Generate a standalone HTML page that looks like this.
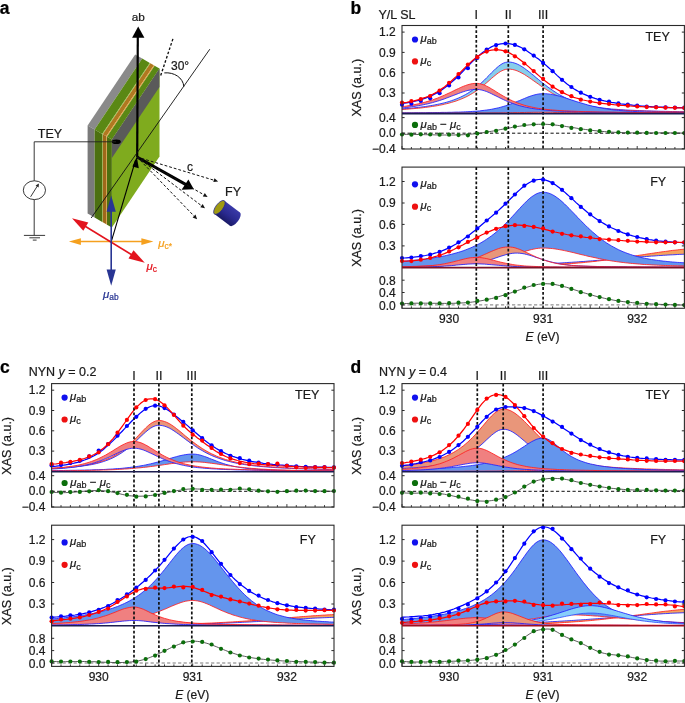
<!DOCTYPE html>
<html><head><meta charset="utf-8"><style>
html,body{margin:0;padding:0;background:#fff;}
svg{display:block;font-family:"Liberation Sans", sans-serif;}
text{stroke-width:0.22px;}
</style></head><body>
<div style="will-change:transform;background:#fff;width:685px;height:703px"><svg width="685" height="703" viewBox="0 0 685 703">
<defs><clipPath id="ctb"><rect x="402" y="25.5" width="282.4" height="88.1"/></clipPath><clipPath id="cdb"><rect x="402" y="113.6" width="282.4" height="35.4"/></clipPath><clipPath id="cfb"><rect x="402" y="167.1" width="282.4" height="100.5"/></clipPath><clipPath id="clb"><rect x="402" y="267.6" width="282.4" height="40.7"/></clipPath><clipPath id="ctc"><rect x="51.6" y="383.6" width="282.4" height="88.1"/></clipPath><clipPath id="cdc"><rect x="51.6" y="471.7" width="282.4" height="35.4"/></clipPath><clipPath id="cfc"><rect x="51.6" y="525.2" width="282.4" height="100.5"/></clipPath><clipPath id="clc"><rect x="51.6" y="625.7" width="282.4" height="40.7"/></clipPath><clipPath id="ctd"><rect x="402" y="383.6" width="282.4" height="88.1"/></clipPath><clipPath id="cdd"><rect x="402" y="471.7" width="282.4" height="35.4"/></clipPath><clipPath id="cfd"><rect x="402" y="525.2" width="282.4" height="100.5"/></clipPath><clipPath id="cld"><rect x="402" y="625.7" width="282.4" height="40.7"/></clipPath></defs>
<rect width="685" height="703" fill="#fff"/>
<text x="-0.3" y="13.5" font-size="17.5" text-anchor="start" font-weight="bold" font-style="normal" fill="#000" stroke="#000" >a</text>
<polygon points="87.6,125.5 135.2,54.5 142.2,58.6 94.6,129.6" fill="#8a8a8a" />
<polygon points="87.6,125.5 94.6,129.6 94.6,217.6 87.6,213.5" fill="#7a7a7a" />
<polygon points="94.6,129.6 142.2,58.6 149.8,62.9 102.2,133.9" fill="#5a8814" />
<polygon points="94.6,129.6 102.2,133.9 102.2,221.9 94.6,217.6" fill="#4c7010" />
<polygon points="102.2,133.9 149.8,62.9 150.4,63.2 102.8,134.2" fill="#8fc23a" />
<polygon points="102.2,133.9 102.8,134.2 102.8,222.2 102.2,221.9" fill="#7ab02a" />
<polygon points="102.8,134.2 150.4,63.2 153.9,65.3 106.3,136.3" fill="#b07820" />
<polygon points="102.8,134.2 106.3,136.3 106.3,224.3 102.8,222.2" fill="#a0681a" />
<polygon points="106.3,136.3 153.9,65.3 154.6,65.7 107,136.7" fill="#e8a038" />
<polygon points="106.3,136.3 107,136.7 107,224.7 106.3,224.3" fill="#d09030" />
<polygon points="107,136.7 154.6,65.7 159.5,68.5 111.9,139.5" fill="#5a8814" />
<polygon points="107,136.7 111.9,139.5 111.9,227.5 107,224.7" fill="#4c7010" />
<polygon points="111.9,139.5 159.5,68.5 159.5,156.5 111.9,227.5" fill="#7fab1e" />
<polygon points="111.9,139.5 159.5,68.5 159.5,87.1 111.9,158.1" fill="#5a5a5a" />
<ellipse cx="116.3" cy="141.8" rx="4.5" ry="2.3" fill="#000"/>
<polyline points="116,141.8 34.2,141.8 34.2,180.8" fill="none" stroke="#222" stroke-width="0.9"/>
<ellipse cx="34.4" cy="190.2" rx="11.1" ry="9.4" fill="none" stroke="#222" stroke-width="0.9"/>
<line x1="30.6" y1="196.8" x2="37.6" y2="185.6" stroke="#222" stroke-width="0.9"/>
<polygon points="38.9,183.6 35.6,185.6 38.6,187.6" fill="#222"/>
<line x1="34.2" y1="199.6" x2="34.2" y2="235.4" stroke="#222" stroke-width="0.9"/>
<line x1="23.9" y1="235.4" x2="45.1" y2="235.4" stroke="#222" stroke-width="0.9"/>
<line x1="29.4" y1="237.8" x2="40" y2="237.8" stroke="#222" stroke-width="0.9"/>
<line x1="32.8" y1="240.1" x2="36.6" y2="240.1" stroke="#222" stroke-width="0.9"/>
<text x="37.8" y="137.5" font-size="12.5" text-anchor="start" font-weight="normal" font-style="normal" fill="#1a1a1a" stroke="#1a1a1a" >TEY</text>
<line x1="137.2" y1="157" x2="137.8" y2="36" stroke="#000" stroke-width="2.2"/>
<polygon points="138.2,26.6 132.1,37.8 144.4,37.8" fill="#000"/>
<text x="138.2" y="21.2" font-size="11.8" text-anchor="middle" font-weight="normal" font-style="normal" fill="#1a1a1a" stroke="#1a1a1a" >ab</text>
<line x1="160.7" y1="75.5" x2="173.3" y2="37.7" stroke="#111" stroke-width="1.35" stroke-dasharray="2.6,1.9"/>
<line x1="91.2" y1="218" x2="209.8" y2="49.2" stroke="#111" stroke-width="0.9"/>
<path d="M164.3,72.9 C174,72 183,77.5 183.9,86.6" fill="none" stroke="#111" stroke-width="1.0"/>
<text x="171" y="70.2" font-size="12" text-anchor="start" font-weight="normal" font-style="normal" fill="#1a1a1a" stroke="#1a1a1a" >30°</text>
<line x1="137" y1="157" x2="186" y2="184.6" stroke="#000" stroke-width="3"/>
<polygon points="193.8,189.2 188.4,179.6 181.6,189.8" fill="#000"/>
<line x1="137" y1="157" x2="213.9" y2="180.2" stroke="#111" stroke-width="1.0" stroke-dasharray="2.8,2.0"/>
<polygon points="218.1,181.5 213.3,182.1 214.5,178.3" fill="#111" />
<line x1="137" y1="157" x2="203.8" y2="194.7" stroke="#111" stroke-width="1.0" stroke-dasharray="2.8,2.0"/>
<polygon points="207.6,196.9 202.8,196.5 204.8,193" fill="#111" />
<line x1="137" y1="157" x2="201.5" y2="205.7" stroke="#111" stroke-width="1.0" stroke-dasharray="2.8,2.0"/>
<polygon points="205,208.3 200.3,207.2 202.7,204.1" fill="#111" />
<line x1="137" y1="157" x2="194" y2="216" stroke="#111" stroke-width="1.0" stroke-dasharray="2.8,2.0"/>
<polygon points="197.1,219.2 192.6,217.4 195.5,214.6" fill="#111" />
<text x="190" y="170.5" font-size="12" text-anchor="middle" font-weight="normal" font-style="normal" fill="#1a1a1a" stroke="#1a1a1a" >c</text>
<text x="225" y="196" font-size="12.5" text-anchor="start" font-weight="normal" font-style="normal" fill="#1a1a1a" stroke="#1a1a1a" >FY</text>
<defs><linearGradient id="cyl" x1="0" y1="0" x2="0" y2="1"><stop offset="0" stop-color="#3a3aa8"/><stop offset="0.55" stop-color="#2a2a90"/><stop offset="1" stop-color="#1a1a66"/></linearGradient></defs><g transform="translate(219.4,207.4) rotate(37)"><rect x="0" y="-8.3" width="19.5" height="16.6" fill="url(#cyl)"/><ellipse cx="19.5" cy="0" rx="3.6" ry="8.3" fill="url(#cyl)"/><ellipse cx="0" cy="0" rx="3.6" ry="8.3" fill="#a09a12" stroke="#26268a" stroke-width="0.7"/></g>
<line x1="111.2" y1="241.9" x2="135.6" y2="160" stroke="#000" stroke-width="1.1"/>
<polygon points="136.8,156.8 132.4,166.6 138.8,168.2" fill="#000"/>
<line x1="78.5" y1="241.6" x2="143.8" y2="241.6" stroke="#f5a01e" stroke-width="1.5"/>
<polygon points="68.9,241.6 80.9,244.9 80.9,238.3" fill="#f5a01e" />
<polygon points="153.4,241.6 141.4,244.9 141.4,238.3" fill="#f5a01e" />
<line x1="83.1" y1="225" x2="133.7" y2="256" stroke="#e3141e" stroke-width="1.6"/>
<polygon points="72,218.2 83.3,230.8 88.3,222.6" fill="#e3141e" />
<polygon points="144.8,262.8 128.5,258.4 133.5,250.2" fill="#e3141e" />
<line x1="111.2" y1="208.5" x2="111.2" y2="272.8" stroke="#283593" stroke-width="1.6"/>
<polygon points="111.2,195.5 106.6,211.7 115.8,211.7" fill="#283593" />
<polygon points="111.2,285.8 106.6,269.6 115.8,269.6" fill="#283593" />
<text x="158.3" y="246.5" font-size="11.5" fill="#f5a01e" stroke="#f5a01e" text-anchor="start"><tspan font-style="italic">μ</tspan><tspan font-size="8.4" dy="2.2">c*</tspan></text>
<text x="146.5" y="269.5" font-size="11.5" fill="#e3141e" stroke="#e3141e" text-anchor="start"><tspan font-style="italic">μ</tspan><tspan font-size="8.4" dy="2.2">c</tspan></text>
<text x="103" y="298" font-size="11.5" fill="#283593" stroke="#283593" text-anchor="start"><tspan font-style="italic">μ</tspan><tspan font-size="8.4" dy="2.2">ab</tspan></text>
<g clip-path="url(#ctb)">
<path d="M402,108.9 L404.4,108.7 L406.7,108.5 L409.1,108.3 L411.4,108.1 L413.8,107.9 L416.1,107.6 L418.5,107.4 L420.8,107.1 L423.2,106.8 L425.5,106.5 L427.9,106.1 L430.2,105.7 L432.6,105.3 L434.9,104.9 L437.3,104.4 L439.7,103.9 L442,103.4 L444.4,102.8 L446.7,102.2 L449.1,101.5 L451.4,100.7 L453.8,99.9 L456.1,99 L458.5,98 L460.8,97 L463.2,95.8 L465.5,94.6 L467.9,93.2 L470.2,91.7 L472.6,90.1 L475,88.4 L477.3,86.5 L479.7,84.5 L482,82.3 L484.4,80.1 L486.7,77.7 L489.1,75.3 L491.4,72.9 L493.8,70.6 L496.1,68.3 L498.5,66.3 L500.8,64.6 L503.2,63.2 L505.5,62.4 L507.9,62 L510.3,62.1 L512.6,62.5 L515,63.2 L517.3,64.1 L519.7,65.3 L522,66.7 L524.4,68.3 L526.7,70 L529.1,71.8 L531.4,73.7 L533.8,75.6 L536.1,77.6 L538.5,79.5 L540.8,81.5 L543.2,83.4 L545.6,85.2 L547.9,87 L550.3,88.7 L552.6,90.3 L555,91.9 L557.3,93.4 L559.7,94.8 L562,96.1 L564.4,97.3 L566.7,98.5 L569.1,99.5 L571.4,100.5 L573.8,101.4 L576.1,102.3 L578.5,103.1 L580.9,103.8 L583.2,104.4 L585.6,105 L587.9,105.6 L590.3,106.1 L592.6,106.5 L595,106.9 L597.3,107.3 L599.7,107.6 L602,108 L604.4,108.2 L606.7,108.5 L609.1,108.7 L611.4,109 L613.8,109.2 L616.2,109.3 L618.5,109.5 L620.9,109.7 L623.2,109.8 L625.6,110 L627.9,110.1 L630.3,110.2 L632.6,110.3 L635,110.4 L637.3,110.5 L639.7,110.6 L642,110.7 L644.4,110.8 L646.7,110.9 L649.1,110.9 L651.5,111 L653.8,111.1 L656.2,111.2 L658.5,111.2 L660.9,111.3 L663.2,111.3 L665.6,111.4 L667.9,111.4 L670.3,111.5 L672.6,111.5 L675,111.6 L677.3,111.6 L679.7,111.7 L682,111.7 L684.4,111.8 L684.4,112 L682,111.9 L679.7,111.9 L677.3,111.9 L675,111.8 L672.6,111.8 L670.3,111.7 L667.9,111.7 L665.6,111.7 L663.2,111.6 L660.9,111.6 L658.5,111.5 L656.2,111.4 L653.8,111.4 L651.5,111.3 L649.1,111.3 L646.7,111.2 L644.4,111.1 L642,111.1 L639.7,111 L637.3,110.9 L635,110.8 L632.6,110.7 L630.3,110.6 L627.9,110.5 L625.6,110.4 L623.2,110.3 L620.9,110.2 L618.5,110 L616.2,109.9 L613.8,109.7 L611.4,109.6 L609.1,109.4 L606.7,109.2 L604.4,108.9 L602,108.7 L599.7,108.4 L597.3,108.1 L595,107.8 L592.6,107.5 L590.3,107.1 L587.9,106.6 L585.6,106.2 L583.2,105.7 L580.9,105.1 L578.5,104.5 L576.1,103.8 L573.8,103.1 L571.4,102.3 L569.1,101.4 L566.7,100.5 L564.4,99.5 L562,98.5 L559.7,97.3 L557.3,96.1 L555,94.9 L552.6,93.5 L550.3,92.1 L547.9,90.6 L545.6,89.1 L543.2,87.5 L540.8,85.9 L538.5,84.2 L536.1,82.5 L533.8,80.9 L531.4,79.2 L529.1,77.6 L526.7,76 L524.4,74.5 L522,73.2 L519.7,72 L517.3,70.9 L515,70.1 L512.6,69.5 L510.3,69.2 L507.9,69.1 L505.5,69.4 L503.2,70.2 L500.8,71.3 L498.5,72.8 L496.1,74.6 L493.8,76.5 L491.4,78.5 L489.1,80.6 L486.7,82.7 L484.4,84.7 L482,86.6 L479.7,88.5 L477.3,90.2 L475,91.8 L472.6,93.3 L470.2,94.7 L467.9,96 L465.5,97.2 L463.2,98.2 L460.8,99.2 L458.5,100.1 L456.1,101 L453.8,101.7 L451.4,102.4 L449.1,103.1 L446.7,103.7 L444.4,104.2 L442,104.8 L439.7,105.2 L437.3,105.7 L434.9,106.1 L432.6,106.4 L430.2,106.8 L427.9,107.1 L425.5,107.4 L423.2,107.7 L420.8,108 L418.5,108.2 L416.1,108.4 L413.8,108.6 L411.4,108.8 L409.1,109 L406.7,109.2 L404.4,109.4 L402,109.5 Z" fill="#87ceeb"/>
<path d="M402,108.9 L404.4,108.7 L406.7,108.5 L409.1,108.3 L411.4,108.1 L413.8,107.9 L416.1,107.6 L418.5,107.4 L420.8,107.1 L423.2,106.8 L425.5,106.5 L427.9,106.1 L430.2,105.7 L432.6,105.3 L434.9,104.9 L437.3,104.4 L439.7,103.9 L442,103.4 L444.4,102.8 L446.7,102.2 L449.1,101.5 L451.4,100.7 L453.8,99.9 L456.1,99 L458.5,98 L460.8,97 L463.2,95.8 L465.5,94.6 L467.9,93.2 L470.2,91.7 L472.6,90.1 L475,88.4 L477.3,86.5 L479.7,84.5 L482,82.3 L484.4,80.1 L486.7,77.7 L489.1,75.3 L491.4,72.9 L493.8,70.6 L496.1,68.3 L498.5,66.3 L500.8,64.6 L503.2,63.2 L505.5,62.4 L507.9,62 L510.3,62.1 L512.6,62.5 L515,63.2 L517.3,64.1 L519.7,65.3 L522,66.7 L524.4,68.3 L526.7,70 L529.1,71.8 L531.4,73.7 L533.8,75.6 L536.1,77.6 L538.5,79.5 L540.8,81.5 L543.2,83.4 L545.6,85.2 L547.9,87 L550.3,88.7 L552.6,90.3 L555,91.9 L557.3,93.4 L559.7,94.8 L562,96.1 L564.4,97.3 L566.7,98.5 L569.1,99.5 L571.4,100.5 L573.8,101.4 L576.1,102.3 L578.5,103.1 L580.9,103.8 L583.2,104.4 L585.6,105 L587.9,105.6 L590.3,106.1 L592.6,106.5 L595,106.9 L597.3,107.3 L599.7,107.6 L602,108 L604.4,108.2 L606.7,108.5 L609.1,108.7 L611.4,109 L613.8,109.2 L616.2,109.3 L618.5,109.5 L620.9,109.7 L623.2,109.8 L625.6,110 L627.9,110.1 L630.3,110.2 L632.6,110.3 L635,110.4 L637.3,110.5 L639.7,110.6 L642,110.7 L644.4,110.8 L646.7,110.9 L649.1,110.9 L651.5,111 L653.8,111.1 L656.2,111.2 L658.5,111.2 L660.9,111.3 L663.2,111.3 L665.6,111.4 L667.9,111.4 L670.3,111.5 L672.6,111.5 L675,111.6 L677.3,111.6 L679.7,111.7 L682,111.7 L684.4,111.8" fill="none" stroke="#2020ff" stroke-width="0.85"/>
<path d="M402,109.5 L404.4,109.4 L406.7,109.2 L409.1,109 L411.4,108.8 L413.8,108.6 L416.1,108.4 L418.5,108.2 L420.8,108 L423.2,107.7 L425.5,107.4 L427.9,107.1 L430.2,106.8 L432.6,106.4 L434.9,106.1 L437.3,105.7 L439.7,105.2 L442,104.8 L444.4,104.2 L446.7,103.7 L449.1,103.1 L451.4,102.4 L453.8,101.7 L456.1,101 L458.5,100.1 L460.8,99.2 L463.2,98.2 L465.5,97.2 L467.9,96 L470.2,94.7 L472.6,93.3 L475,91.8 L477.3,90.2 L479.7,88.5 L482,86.6 L484.4,84.7 L486.7,82.7 L489.1,80.6 L491.4,78.5 L493.8,76.5 L496.1,74.6 L498.5,72.8 L500.8,71.3 L503.2,70.2 L505.5,69.4 L507.9,69.1 L510.3,69.2 L512.6,69.5 L515,70.1 L517.3,70.9 L519.7,72 L522,73.2 L524.4,74.5 L526.7,76 L529.1,77.6 L531.4,79.2 L533.8,80.9 L536.1,82.5 L538.5,84.2 L540.8,85.9 L543.2,87.5 L545.6,89.1 L547.9,90.6 L550.3,92.1 L552.6,93.5 L555,94.9 L557.3,96.1 L559.7,97.3 L562,98.5 L564.4,99.5 L566.7,100.5 L569.1,101.4 L571.4,102.3 L573.8,103.1 L576.1,103.8 L578.5,104.5 L580.9,105.1 L583.2,105.7 L585.6,106.2 L587.9,106.6 L590.3,107.1 L592.6,107.5 L595,107.8 L597.3,108.1 L599.7,108.4 L602,108.7 L604.4,108.9 L606.7,109.2 L609.1,109.4 L611.4,109.6 L613.8,109.7 L616.2,109.9 L618.5,110 L620.9,110.2 L623.2,110.3 L625.6,110.4 L627.9,110.5 L630.3,110.6 L632.6,110.7 L635,110.8 L637.3,110.9 L639.7,111 L642,111.1 L644.4,111.1 L646.7,111.2 L649.1,111.3 L651.5,111.3 L653.8,111.4 L656.2,111.4 L658.5,111.5 L660.9,111.6 L663.2,111.6 L665.6,111.7 L667.9,111.7 L670.3,111.7 L672.6,111.8 L675,111.8 L677.3,111.9 L679.7,111.9 L682,111.9 L684.4,112" fill="none" stroke="#ff2020" stroke-width="0.85"/>
<path d="M402,112.8 L404.4,112.8 L406.7,112.8 L409.1,112.8 L411.4,112.8 L413.8,112.8 L416.1,112.7 L418.5,112.7 L420.8,112.7 L423.2,112.7 L425.5,112.7 L427.9,112.6 L430.2,112.6 L432.6,112.6 L434.9,112.6 L437.3,112.5 L439.7,112.5 L442,112.4 L444.4,112.4 L446.7,112.4 L449.1,112.3 L451.4,112.3 L453.8,112.2 L456.1,112.1 L458.5,112.1 L460.8,112 L463.2,111.9 L465.5,111.8 L467.9,111.7 L470.2,111.6 L472.6,111.4 L475,111.3 L477.3,111.1 L479.7,110.9 L482,110.6 L484.4,110.3 L486.7,110 L489.1,109.7 L491.4,109.3 L493.8,108.8 L496.1,108.3 L498.5,107.8 L500.8,107.2 L503.2,106.5 L505.5,105.8 L507.9,105 L510.3,104.2 L512.6,103.3 L515,102.4 L517.3,101.4 L519.7,100.5 L522,99.5 L524.4,98.5 L526.7,97.5 L529.1,96.6 L531.4,95.8 L533.8,95.1 L536.1,94.5 L538.5,94 L540.8,93.8 L543.2,93.7 L545.6,93.7 L547.9,93.9 L550.3,94.2 L552.6,94.6 L555,95.1 L557.3,95.6 L559.7,96.2 L562,96.9 L564.4,97.6 L566.7,98.4 L569.1,99.2 L571.4,99.9 L573.8,100.7 L576.1,101.5 L578.5,102.2 L580.9,102.9 L583.2,103.6 L585.6,104.3 L587.9,105 L590.3,105.6 L592.6,106.2 L595,106.7 L597.3,107.2 L599.7,107.7 L602,108.1 L604.4,108.6 L606.7,108.9 L609.1,109.3 L611.4,109.6 L613.8,109.9 L616.2,110.2 L618.5,110.4 L620.9,110.6 L623.2,110.8 L625.6,111 L627.9,111.1 L630.3,111.3 L632.6,111.4 L635,111.5 L637.3,111.6 L639.7,111.7 L642,111.8 L644.4,111.9 L646.7,112 L649.1,112 L651.5,112.1 L653.8,112.1 L656.2,112.2 L658.5,112.2 L660.9,112.3 L663.2,112.3 L665.6,112.4 L667.9,112.4 L670.3,112.4 L672.6,112.5 L675,112.5 L677.3,112.5 L679.7,112.5 L682,112.6 L684.4,112.6 L684.4,113.2 L682,113.2 L679.7,113.2 L677.3,113.2 L675,113.2 L672.6,113.2 L670.3,113.2 L667.9,113.2 L665.6,113.2 L663.2,113.2 L660.9,113.2 L658.5,113.2 L656.2,113.2 L653.8,113.2 L651.5,113.2 L649.1,113.2 L646.7,113.2 L644.4,113.2 L642,113.2 L639.7,113.2 L637.3,113.2 L635,113.2 L632.6,113.1 L630.3,113.1 L627.9,113.1 L625.6,113.1 L623.2,113.1 L620.9,113.1 L618.5,113.1 L616.2,113.1 L613.8,113.1 L611.4,113.1 L609.1,113.1 L606.7,113 L604.4,113 L602,113 L599.7,113 L597.3,113 L595,112.9 L592.6,112.9 L590.3,112.9 L587.9,112.9 L585.6,112.9 L583.2,112.8 L580.9,112.8 L578.5,112.8 L576.1,112.7 L573.8,112.7 L571.4,112.7 L569.1,112.6 L566.7,112.6 L564.4,112.5 L562,112.5 L559.7,112.4 L557.3,112.4 L555,112.4 L552.6,112.3 L550.3,112.3 L547.9,112.3 L545.6,112.3 L543.2,112.3 L540.8,112.3 L538.5,112.3 L536.1,112.3 L533.8,112.3 L531.4,112.4 L529.1,112.4 L526.7,112.4 L524.4,112.5 L522,112.5 L519.7,112.6 L517.3,112.6 L515,112.6 L512.6,112.7 L510.3,112.7 L507.9,112.8 L505.5,112.8 L503.2,112.8 L500.8,112.9 L498.5,112.9 L496.1,112.9 L493.8,112.9 L491.4,112.9 L489.1,113 L486.7,113 L484.4,113 L482,113 L479.7,113 L477.3,113 L475,113.1 L472.6,113.1 L470.2,113.1 L467.9,113.1 L465.5,113.1 L463.2,113.1 L460.8,113.1 L458.5,113.1 L456.1,113.1 L453.8,113.1 L451.4,113.2 L449.1,113.2 L446.7,113.2 L444.4,113.2 L442,113.2 L439.7,113.2 L437.3,113.2 L434.9,113.2 L432.6,113.2 L430.2,113.2 L427.9,113.2 L425.5,113.2 L423.2,113.2 L420.8,113.2 L418.5,113.2 L416.1,113.2 L413.8,113.2 L411.4,113.2 L409.1,113.2 L406.7,113.2 L404.4,113.2 L402,113.2 Z" fill="#6495ed"/>
<path d="M402,112.8 L404.4,112.8 L406.7,112.8 L409.1,112.8 L411.4,112.8 L413.8,112.8 L416.1,112.7 L418.5,112.7 L420.8,112.7 L423.2,112.7 L425.5,112.7 L427.9,112.6 L430.2,112.6 L432.6,112.6 L434.9,112.6 L437.3,112.5 L439.7,112.5 L442,112.4 L444.4,112.4 L446.7,112.4 L449.1,112.3 L451.4,112.3 L453.8,112.2 L456.1,112.1 L458.5,112.1 L460.8,112 L463.2,111.9 L465.5,111.8 L467.9,111.7 L470.2,111.6 L472.6,111.4 L475,111.3 L477.3,111.1 L479.7,110.9 L482,110.6 L484.4,110.3 L486.7,110 L489.1,109.7 L491.4,109.3 L493.8,108.8 L496.1,108.3 L498.5,107.8 L500.8,107.2 L503.2,106.5 L505.5,105.8 L507.9,105 L510.3,104.2 L512.6,103.3 L515,102.4 L517.3,101.4 L519.7,100.5 L522,99.5 L524.4,98.5 L526.7,97.5 L529.1,96.6 L531.4,95.8 L533.8,95.1 L536.1,94.5 L538.5,94 L540.8,93.8 L543.2,93.7 L545.6,93.7 L547.9,93.9 L550.3,94.2 L552.6,94.6 L555,95.1 L557.3,95.6 L559.7,96.2 L562,96.9 L564.4,97.6 L566.7,98.4 L569.1,99.2 L571.4,99.9 L573.8,100.7 L576.1,101.5 L578.5,102.2 L580.9,102.9 L583.2,103.6 L585.6,104.3 L587.9,105 L590.3,105.6 L592.6,106.2 L595,106.7 L597.3,107.2 L599.7,107.7 L602,108.1 L604.4,108.6 L606.7,108.9 L609.1,109.3 L611.4,109.6 L613.8,109.9 L616.2,110.2 L618.5,110.4 L620.9,110.6 L623.2,110.8 L625.6,111 L627.9,111.1 L630.3,111.3 L632.6,111.4 L635,111.5 L637.3,111.6 L639.7,111.7 L642,111.8 L644.4,111.9 L646.7,112 L649.1,112 L651.5,112.1 L653.8,112.1 L656.2,112.2 L658.5,112.2 L660.9,112.3 L663.2,112.3 L665.6,112.4 L667.9,112.4 L670.3,112.4 L672.6,112.5 L675,112.5 L677.3,112.5 L679.7,112.5 L682,112.6 L684.4,112.6" fill="none" stroke="#2020ff" stroke-width="0.85"/>
<path d="M402,113.2 L404.4,113.2 L406.7,113.2 L409.1,113.2 L411.4,113.2 L413.8,113.2 L416.1,113.2 L418.5,113.2 L420.8,113.2 L423.2,113.2 L425.5,113.2 L427.9,113.2 L430.2,113.2 L432.6,113.2 L434.9,113.2 L437.3,113.2 L439.7,113.2 L442,113.2 L444.4,113.2 L446.7,113.2 L449.1,113.2 L451.4,113.2 L453.8,113.1 L456.1,113.1 L458.5,113.1 L460.8,113.1 L463.2,113.1 L465.5,113.1 L467.9,113.1 L470.2,113.1 L472.6,113.1 L475,113.1 L477.3,113 L479.7,113 L482,113 L484.4,113 L486.7,113 L489.1,113 L491.4,112.9 L493.8,112.9 L496.1,112.9 L498.5,112.9 L500.8,112.9 L503.2,112.8 L505.5,112.8 L507.9,112.8 L510.3,112.7 L512.6,112.7 L515,112.6 L517.3,112.6 L519.7,112.6 L522,112.5 L524.4,112.5 L526.7,112.4 L529.1,112.4 L531.4,112.4 L533.8,112.3 L536.1,112.3 L538.5,112.3 L540.8,112.3 L543.2,112.3 L545.6,112.3 L547.9,112.3 L550.3,112.3 L552.6,112.3 L555,112.4 L557.3,112.4 L559.7,112.4 L562,112.5 L564.4,112.5 L566.7,112.6 L569.1,112.6 L571.4,112.7 L573.8,112.7 L576.1,112.7 L578.5,112.8 L580.9,112.8 L583.2,112.8 L585.6,112.9 L587.9,112.9 L590.3,112.9 L592.6,112.9 L595,112.9 L597.3,113 L599.7,113 L602,113 L604.4,113 L606.7,113 L609.1,113.1 L611.4,113.1 L613.8,113.1 L616.2,113.1 L618.5,113.1 L620.9,113.1 L623.2,113.1 L625.6,113.1 L627.9,113.1 L630.3,113.1 L632.6,113.1 L635,113.2 L637.3,113.2 L639.7,113.2 L642,113.2 L644.4,113.2 L646.7,113.2 L649.1,113.2 L651.5,113.2 L653.8,113.2 L656.2,113.2 L658.5,113.2 L660.9,113.2 L663.2,113.2 L665.6,113.2 L667.9,113.2 L670.3,113.2 L672.6,113.2 L675,113.2 L677.3,113.2 L679.7,113.2 L682,113.2 L684.4,113.2" fill="none" stroke="#ff2020" stroke-width="0.85"/>
<path d="M402,108 L404.4,107.8 L406.7,107.5 L409.1,107.2 L411.4,106.8 L413.8,106.5 L416.1,106.1 L418.5,105.7 L420.8,105.3 L423.2,104.8 L425.5,104.3 L427.9,103.8 L430.2,103.2 L432.6,102.6 L434.9,101.9 L437.3,101.2 L439.7,100.5 L442,99.7 L444.4,98.9 L446.7,98 L449.1,97.1 L451.4,96.2 L453.8,95.3 L456.1,94.4 L458.5,93.5 L460.8,92.6 L463.2,91.8 L465.5,91.1 L467.9,90.4 L470.2,90 L472.6,89.6 L475,89.4 L477.3,89.4 L479.7,89.7 L482,90.1 L484.4,90.8 L486.7,91.6 L489.1,92.6 L491.4,93.7 L493.8,94.9 L496.1,96 L498.5,97.2 L500.8,98.4 L503.2,99.5 L505.5,100.6 L507.9,101.6 L510.3,102.5 L512.6,103.4 L515,104.2 L517.3,105 L519.7,105.7 L522,106.3 L524.4,106.9 L526.7,107.4 L529.1,107.9 L531.4,108.3 L533.8,108.7 L536.1,109 L538.5,109.3 L540.8,109.6 L543.2,109.9 L545.6,110.1 L547.9,110.3 L550.3,110.5 L552.6,110.7 L555,110.8 L557.3,110.9 L559.7,111.1 L562,111.2 L564.4,111.3 L566.7,111.4 L569.1,111.5 L571.4,111.6 L573.8,111.6 L576.1,111.7 L578.5,111.8 L580.9,111.8 L583.2,111.9 L585.6,112 L587.9,112 L590.3,112.1 L592.6,112.1 L595,112.2 L597.3,112.2 L599.7,112.2 L602,112.3 L604.4,112.3 L606.7,112.3 L609.1,112.4 L611.4,112.4 L613.8,112.4 L616.2,112.5 L618.5,112.5 L620.9,112.5 L623.2,112.5 L625.6,112.6 L627.9,112.6 L630.3,112.6 L632.6,112.6 L635,112.6 L637.3,112.7 L639.7,112.7 L642,112.7 L644.4,112.7 L646.7,112.7 L649.1,112.7 L651.5,112.8 L653.8,112.8 L656.2,112.8 L658.5,112.8 L660.9,112.8 L663.2,112.8 L665.6,112.8 L667.9,112.8 L670.3,112.9 L672.6,112.9 L675,112.9 L677.3,112.9 L679.7,112.9 L682,112.9 L684.4,112.9 L684.4,112.8 L682,112.8 L679.7,112.8 L677.3,112.8 L675,112.8 L672.6,112.8 L670.3,112.7 L667.9,112.7 L665.6,112.7 L663.2,112.7 L660.9,112.7 L658.5,112.7 L656.2,112.7 L653.8,112.6 L651.5,112.6 L649.1,112.6 L646.7,112.6 L644.4,112.6 L642,112.5 L639.7,112.5 L637.3,112.5 L635,112.5 L632.6,112.4 L630.3,112.4 L627.9,112.4 L625.6,112.4 L623.2,112.3 L620.9,112.3 L618.5,112.3 L616.2,112.2 L613.8,112.2 L611.4,112.2 L609.1,112.1 L606.7,112.1 L604.4,112.1 L602,112 L599.7,112 L597.3,111.9 L595,111.9 L592.6,111.8 L590.3,111.7 L587.9,111.7 L585.6,111.6 L583.2,111.6 L580.9,111.5 L578.5,111.4 L576.1,111.3 L573.8,111.2 L571.4,111.1 L569.1,111 L566.7,110.9 L564.4,110.8 L562,110.7 L559.7,110.5 L557.3,110.4 L555,110.2 L552.6,110 L550.3,109.8 L547.9,109.6 L545.6,109.3 L543.2,109 L540.8,108.7 L538.5,108.4 L536.1,108 L533.8,107.5 L531.4,107 L529.1,106.5 L526.7,105.9 L524.4,105.3 L522,104.5 L519.7,103.7 L517.3,102.9 L515,101.9 L512.6,100.9 L510.3,99.8 L507.9,98.6 L505.5,97.3 L503.2,96 L500.8,94.6 L498.5,93.2 L496.1,91.7 L493.8,90.2 L491.4,88.8 L489.1,87.4 L486.7,86.2 L484.4,85.1 L482,84.3 L479.7,83.7 L477.3,83.4 L475,83.4 L472.6,83.6 L470.2,84.1 L467.9,84.7 L465.5,85.5 L463.2,86.4 L460.8,87.4 L458.5,88.5 L456.1,89.6 L453.8,90.7 L451.4,91.9 L449.1,93 L446.7,94.1 L444.4,95.2 L442,96.2 L439.7,97.2 L437.3,98.2 L434.9,99 L432.6,99.9 L430.2,100.6 L427.9,101.3 L425.5,102 L423.2,102.6 L420.8,103.2 L418.5,103.8 L416.1,104.3 L413.8,104.8 L411.4,105.2 L409.1,105.6 L406.7,106 L404.4,106.4 L402,106.7 Z" fill="#f08080"/>
<path d="M402,108 L404.4,107.8 L406.7,107.5 L409.1,107.2 L411.4,106.8 L413.8,106.5 L416.1,106.1 L418.5,105.7 L420.8,105.3 L423.2,104.8 L425.5,104.3 L427.9,103.8 L430.2,103.2 L432.6,102.6 L434.9,101.9 L437.3,101.2 L439.7,100.5 L442,99.7 L444.4,98.9 L446.7,98 L449.1,97.1 L451.4,96.2 L453.8,95.3 L456.1,94.4 L458.5,93.5 L460.8,92.6 L463.2,91.8 L465.5,91.1 L467.9,90.4 L470.2,90 L472.6,89.6 L475,89.4 L477.3,89.4 L479.7,89.7 L482,90.1 L484.4,90.8 L486.7,91.6 L489.1,92.6 L491.4,93.7 L493.8,94.9 L496.1,96 L498.5,97.2 L500.8,98.4 L503.2,99.5 L505.5,100.6 L507.9,101.6 L510.3,102.5 L512.6,103.4 L515,104.2 L517.3,105 L519.7,105.7 L522,106.3 L524.4,106.9 L526.7,107.4 L529.1,107.9 L531.4,108.3 L533.8,108.7 L536.1,109 L538.5,109.3 L540.8,109.6 L543.2,109.9 L545.6,110.1 L547.9,110.3 L550.3,110.5 L552.6,110.7 L555,110.8 L557.3,110.9 L559.7,111.1 L562,111.2 L564.4,111.3 L566.7,111.4 L569.1,111.5 L571.4,111.6 L573.8,111.6 L576.1,111.7 L578.5,111.8 L580.9,111.8 L583.2,111.9 L585.6,112 L587.9,112 L590.3,112.1 L592.6,112.1 L595,112.2 L597.3,112.2 L599.7,112.2 L602,112.3 L604.4,112.3 L606.7,112.3 L609.1,112.4 L611.4,112.4 L613.8,112.4 L616.2,112.5 L618.5,112.5 L620.9,112.5 L623.2,112.5 L625.6,112.6 L627.9,112.6 L630.3,112.6 L632.6,112.6 L635,112.6 L637.3,112.7 L639.7,112.7 L642,112.7 L644.4,112.7 L646.7,112.7 L649.1,112.7 L651.5,112.8 L653.8,112.8 L656.2,112.8 L658.5,112.8 L660.9,112.8 L663.2,112.8 L665.6,112.8 L667.9,112.8 L670.3,112.9 L672.6,112.9 L675,112.9 L677.3,112.9 L679.7,112.9 L682,112.9 L684.4,112.9" fill="none" stroke="#2020ff" stroke-width="0.85"/>
<path d="M402,106.7 L404.4,106.4 L406.7,106 L409.1,105.6 L411.4,105.2 L413.8,104.8 L416.1,104.3 L418.5,103.8 L420.8,103.2 L423.2,102.6 L425.5,102 L427.9,101.3 L430.2,100.6 L432.6,99.9 L434.9,99 L437.3,98.2 L439.7,97.2 L442,96.2 L444.4,95.2 L446.7,94.1 L449.1,93 L451.4,91.9 L453.8,90.7 L456.1,89.6 L458.5,88.5 L460.8,87.4 L463.2,86.4 L465.5,85.5 L467.9,84.7 L470.2,84.1 L472.6,83.6 L475,83.4 L477.3,83.4 L479.7,83.7 L482,84.3 L484.4,85.1 L486.7,86.2 L489.1,87.4 L491.4,88.8 L493.8,90.2 L496.1,91.7 L498.5,93.2 L500.8,94.6 L503.2,96 L505.5,97.3 L507.9,98.6 L510.3,99.8 L512.6,100.9 L515,101.9 L517.3,102.9 L519.7,103.7 L522,104.5 L524.4,105.3 L526.7,105.9 L529.1,106.5 L531.4,107 L533.8,107.5 L536.1,108 L538.5,108.4 L540.8,108.7 L543.2,109 L545.6,109.3 L547.9,109.6 L550.3,109.8 L552.6,110 L555,110.2 L557.3,110.4 L559.7,110.5 L562,110.7 L564.4,110.8 L566.7,110.9 L569.1,111 L571.4,111.1 L573.8,111.2 L576.1,111.3 L578.5,111.4 L580.9,111.5 L583.2,111.6 L585.6,111.6 L587.9,111.7 L590.3,111.7 L592.6,111.8 L595,111.9 L597.3,111.9 L599.7,112 L602,112 L604.4,112.1 L606.7,112.1 L609.1,112.1 L611.4,112.2 L613.8,112.2 L616.2,112.2 L618.5,112.3 L620.9,112.3 L623.2,112.3 L625.6,112.4 L627.9,112.4 L630.3,112.4 L632.6,112.4 L635,112.5 L637.3,112.5 L639.7,112.5 L642,112.5 L644.4,112.6 L646.7,112.6 L649.1,112.6 L651.5,112.6 L653.8,112.6 L656.2,112.7 L658.5,112.7 L660.9,112.7 L663.2,112.7 L665.6,112.7 L667.9,112.7 L670.3,112.7 L672.6,112.8 L675,112.8 L677.3,112.8 L679.7,112.8 L682,112.8 L684.4,112.8" fill="none" stroke="#ff2020" stroke-width="0.85"/>
<path d="M402,103.5 L404.4,103.2 L406.7,102.9 L409.1,102.4 L411.4,102 L413.8,101.5 L416.1,101 L418.5,100.3 L420.8,99.7 L423.2,98.9 L425.5,98.1 L427.9,97.2 L430.2,96.2 L432.6,95.1 L434.9,93.9 L437.3,92.6 L439.7,91.2 L442,89.7 L444.4,88 L446.7,86.3 L449.1,84.4 L451.4,82.4 L453.8,80.3 L456.1,78.2 L458.5,75.9 L460.8,73.5 L463.2,71.1 L465.5,68.6 L467.9,66 L470.2,63.7 L472.6,61.4 L475,59.2 L477.3,57 L479.7,55 L482,53 L484.4,51.3 L486.7,49.8 L489.1,48.2 L491.4,46.9 L493.8,45.8 L496.1,45 L498.5,44.3 L500.8,43.9 L503.2,43.6 L505.5,43.5 L507.9,43.6 L510.3,43.9 L512.6,44.3 L515,44.9 L517.3,45.8 L519.7,46.8 L522,48 L524.4,49.4 L526.7,50.8 L529.1,52.4 L531.4,54 L533.8,55.6 L536.1,57.4 L538.5,59.1 L540.8,61 L543.2,62.9 L545.6,64.9 L547.9,67 L550.3,69.1 L552.6,71.3 L555,73.4 L557.3,75.6 L559.7,77.7 L562,79.8 L564.4,81.8 L566.7,83.7 L569.1,85.4 L571.4,87.1 L573.8,88.7 L576.1,90.1 L578.5,91.5 L580.9,92.7 L583.2,93.9 L585.6,94.9 L587.9,95.9 L590.3,96.8 L592.6,97.6 L595,98.4 L597.3,99.1 L599.7,99.7 L602,100.3 L604.4,100.9 L606.7,101.4 L609.1,101.8 L611.4,102.3 L613.8,102.7 L616.2,103.1 L618.5,103.4 L620.9,103.8 L623.2,104.1 L625.6,104.4 L627.9,104.7 L630.3,104.9 L632.6,105.2 L635,105.4 L637.3,105.6 L639.7,105.8 L642,106 L644.4,106.2 L646.7,106.4 L649.1,106.5 L651.5,106.7 L653.8,106.8 L656.2,106.9 L658.5,107 L660.9,107.1 L663.2,107.2 L665.6,107.3 L667.9,107.4 L670.3,107.5 L672.6,107.5 L675,107.6 L677.3,107.6 L679.7,107.6 L682,107.7 L684.4,107.7" fill="none" stroke="#0000ff" stroke-width="1.25"/>
<path d="M402,103 L404.4,102.6 L406.7,102.3 L409.1,101.8 L411.4,101.4 L413.8,100.9 L416.1,100.3 L418.5,99.7 L420.8,99 L423.2,98.2 L425.5,97.4 L427.9,96.5 L430.2,95.4 L432.6,94.3 L434.9,93.1 L437.3,91.7 L439.7,90.2 L442,88.6 L444.4,86.9 L446.7,85.1 L449.1,83.1 L451.4,81 L453.8,78.8 L456.1,76.6 L458.5,74.2 L460.8,71.9 L463.2,69.5 L465.5,67.1 L467.9,64.8 L470.2,62.6 L472.6,60.5 L475,58.5 L477.3,56.7 L479.7,55.1 L482,53.7 L484.4,52.5 L486.7,51.5 L489.1,50.7 L491.4,50.2 L493.8,49.9 L496.1,49.8 L498.5,49.9 L500.8,50.2 L503.2,50.7 L505.5,51.4 L507.9,52.3 L510.3,53.4 L512.6,54.7 L515,56.1 L517.3,57.7 L519.7,59.4 L522,61.2 L524.4,63.1 L526.7,65.1 L529.1,67.1 L531.4,69.2 L533.8,71.2 L536.1,73.3 L538.5,75.4 L540.8,77.4 L543.2,79.4 L545.6,81.3 L547.9,83.1 L550.3,84.8 L552.6,86.5 L555,88.1 L557.3,89.5 L559.7,90.9 L562,92.2 L564.4,93.4 L566.7,94.5 L569.1,95.5 L571.4,96.4 L573.8,97.3 L576.1,98 L578.5,98.7 L580.9,99.4 L583.2,100 L585.6,100.5 L587.9,101 L590.3,101.5 L592.6,101.9 L595,102.3 L597.3,102.7 L599.7,103 L602,103.3 L604.4,103.6 L606.7,103.9 L609.1,104.2 L611.4,104.4 L613.8,104.7 L616.2,104.9 L618.5,105.1 L620.9,105.3 L623.2,105.5 L625.6,105.7 L627.9,105.9 L630.3,106 L632.6,106.2 L635,106.3 L637.3,106.5 L639.7,106.6 L642,106.7 L644.4,106.8 L646.7,106.9 L649.1,107 L651.5,107.1 L653.8,107.2 L656.2,107.3 L658.5,107.4 L660.9,107.4 L663.2,107.5 L665.6,107.5 L667.9,107.6 L670.3,107.7 L672.6,107.7 L675,107.7 L677.3,107.8 L679.7,107.8 L682,107.9 L684.4,107.9" fill="none" stroke="#ff0000" stroke-width="1.25"/>
</g>
<g clip-path="url(#cdb)">
<line x1="402" y1="133.2" x2="684.4" y2="133.2" stroke="#000" stroke-width="0.95" stroke-dasharray="3.2,2.3"/>
<path d="M402,134.4 L404.4,134.4 L406.7,134.4 L409.1,134.4 L411.4,134.4 L413.8,134.4 L416.1,134.5 L418.5,134.5 L420.8,134.6 L423.2,134.6 L425.5,134.7 L427.9,134.7 L430.2,134.8 L432.6,134.8 L434.9,134.9 L437.3,134.9 L439.7,135 L442,135 L444.4,135 L446.7,135 L449.1,135 L451.4,135 L453.8,135 L456.1,134.9 L458.5,134.9 L460.8,134.8 L463.2,134.7 L465.5,134.5 L467.9,134.4 L470.2,134.2 L472.6,134 L475,133.8 L477.3,133.5 L479.7,133.2 L482,132.9 L484.4,132.5 L486.7,132.1 L489.1,131.7 L491.4,131.3 L493.8,130.9 L496.1,130.4 L498.5,130 L500.8,129.5 L503.2,129.1 L505.5,128.6 L507.9,128.2 L510.3,127.8 L512.6,127.3 L515,126.9 L517.3,126.5 L519.7,126.2 L522,125.8 L524.4,125.5 L526.7,125.2 L529.1,124.9 L531.4,124.7 L533.8,124.5 L536.1,124.4 L538.5,124.3 L540.8,124.3 L543.2,124.3 L545.6,124.3 L547.9,124.4 L550.3,124.6 L552.6,124.8 L555,125 L557.3,125.3 L559.7,125.6 L562,125.9 L564.4,126.2 L566.7,126.6 L569.1,127 L571.4,127.3 L573.8,127.7 L576.1,128.1 L578.5,128.5 L580.9,128.8 L583.2,129.2 L585.6,129.5 L587.9,129.8 L590.3,130.1 L592.6,130.4 L595,130.7 L597.3,130.9 L599.7,131.2 L602,131.4 L604.4,131.6 L606.7,131.8 L609.1,132 L611.4,132.1 L613.8,132.3 L616.2,132.4 L618.5,132.5 L620.9,132.6 L623.2,132.7 L625.6,132.8 L627.9,132.8 L630.3,132.9 L632.6,132.9 L635,132.9 L637.3,132.9 L639.7,132.9 L642,132.9 L644.4,132.9 L646.7,132.9 L649.1,132.9 L651.5,132.9 L653.8,132.9 L656.2,132.9 L658.5,132.9 L660.9,132.8 L663.2,132.8 L665.6,132.8 L667.9,132.9 L670.3,132.9 L672.6,132.9 L675,132.9 L677.3,133 L679.7,133 L682,133.1 L684.4,133.2" fill="none" stroke="#333" stroke-width="0.8"/>
</g>
<g clip-path="url(#cfb)">
<path d="M402,267 L404.4,267 L406.7,267 L409.1,267 L411.4,267 L413.8,267 L416.1,266.9 L418.5,266.9 L420.8,266.9 L423.2,266.9 L425.5,266.9 L427.9,266.9 L430.2,266.9 L432.6,266.9 L434.9,266.9 L437.3,266.9 L439.7,266.9 L442,266.9 L444.4,266.8 L446.7,266.8 L449.1,266.8 L451.4,266.8 L453.8,266.8 L456.1,266.8 L458.5,266.8 L460.8,266.8 L463.2,266.7 L465.5,266.7 L467.9,266.7 L470.2,266.7 L472.6,266.7 L475,266.7 L477.3,266.6 L479.7,266.6 L482,266.6 L484.4,266.6 L486.7,266.5 L489.1,266.5 L491.4,266.5 L493.8,266.5 L496.1,266.4 L498.5,266.4 L500.8,266.4 L503.2,266.3 L505.5,266.3 L507.9,266.2 L510.3,266.2 L512.6,266.1 L515,266.1 L517.3,266 L519.7,266 L522,265.9 L524.4,265.9 L526.7,265.8 L529.1,265.7 L531.4,265.6 L533.8,265.6 L536.1,265.5 L538.5,265.4 L540.8,265.3 L543.2,265.2 L545.6,265.1 L547.9,265 L550.3,264.9 L552.6,264.8 L555,264.6 L557.3,264.5 L559.7,264.3 L562,264.2 L564.4,264 L566.7,263.9 L569.1,263.7 L571.4,263.5 L573.8,263.4 L576.1,263.2 L578.5,263 L580.9,262.8 L583.2,262.6 L585.6,262.3 L587.9,262.1 L590.3,261.9 L592.6,261.6 L595,261.4 L597.3,261.1 L599.7,260.8 L602,260.5 L604.4,260.3 L606.7,260 L609.1,259.7 L611.4,259.4 L613.8,259.1 L616.2,258.9 L618.5,258.7 L620.9,258.5 L623.2,258.3 L625.6,258.1 L627.9,258 L630.3,257.8 L632.6,257.6 L635,257.4 L637.3,257.2 L639.7,257 L642,256.8 L644.4,256.6 L646.7,256.5 L649.1,256.3 L651.5,256.1 L653.8,256 L656.2,255.8 L658.5,255.6 L660.9,255.5 L663.2,255.3 L665.6,255.2 L667.9,255 L670.3,254.9 L672.6,254.8 L675,254.7 L677.3,254.5 L679.7,254.4 L682,254.3 L684.4,254.2 L684.4,269.4 L402,269.4 Z" fill="#fff"/>
<path d="M402,266.9 L404.4,266.8 L406.7,266.8 L409.1,266.8 L411.4,266.8 L413.8,266.8 L416.1,266.8 L418.5,266.8 L420.8,266.7 L423.2,266.7 L425.5,266.7 L427.9,266.7 L430.2,266.7 L432.6,266.7 L434.9,266.6 L437.3,266.6 L439.7,266.6 L442,266.6 L444.4,266.5 L446.7,266.5 L449.1,266.5 L451.4,266.5 L453.8,266.4 L456.1,266.4 L458.5,266.4 L460.8,266.3 L463.2,266.3 L465.5,266.3 L467.9,266.2 L470.2,266.2 L472.6,266.2 L475,266.1 L477.3,266.1 L479.7,266 L482,266 L484.4,265.9 L486.7,265.9 L489.1,265.8 L491.4,265.8 L493.8,265.7 L496.1,265.7 L498.5,265.6 L500.8,265.5 L503.2,265.5 L505.5,265.4 L507.9,265.3 L510.3,265.3 L512.6,265.2 L515,265.1 L517.3,265 L519.7,264.9 L522,264.8 L524.4,264.8 L526.7,264.7 L529.1,264.6 L531.4,264.5 L533.8,264.4 L536.1,264.2 L538.5,264.1 L540.8,264 L543.2,263.9 L545.6,263.8 L547.9,263.7 L550.3,263.5 L552.6,263.4 L555,263.3 L557.3,263.2 L559.7,263 L562,262.9 L564.4,262.7 L566.7,262.6 L569.1,262.4 L571.4,262.3 L573.8,262.1 L576.1,262 L578.5,261.8 L580.9,261.6 L583.2,261.5 L585.6,261.3 L587.9,261.1 L590.3,260.9 L592.6,260.8 L595,260.6 L597.3,260.4 L599.7,260.2 L602,260 L604.4,259.9 L606.7,259.7 L609.1,259.5 L611.4,259.3 L613.8,259.1 L616.2,258.9 L618.5,258.7 L620.9,258.5 L623.2,258.3 L625.6,258.1 L627.9,258 L630.3,257.8 L632.6,257.6 L635,257.4 L637.3,257.2 L639.7,257 L642,256.8 L644.4,256.6 L646.7,256.5 L649.1,256.3 L651.5,256.1 L653.8,256 L656.2,255.8 L658.5,255.6 L660.9,255.5 L663.2,255.3 L665.6,255.2 L667.9,255 L670.3,254.9 L672.6,254.8 L675,254.7 L677.3,254.5 L679.7,254.4 L682,254.3 L684.4,254.2 L684.4,249.2 L682,249.4 L679.7,249.6 L677.3,249.9 L675,250.2 L672.6,250.4 L670.3,250.7 L667.9,251.1 L665.6,251.4 L663.2,251.7 L660.9,252 L658.5,252.4 L656.2,252.7 L653.8,253.1 L651.5,253.4 L649.1,253.8 L646.7,254.1 L644.4,254.5 L642,254.9 L639.7,255.2 L637.3,255.6 L635,256 L632.6,256.3 L630.3,256.7 L627.9,257 L625.6,257.4 L623.2,257.7 L620.9,258.1 L618.5,258.4 L616.2,258.7 L613.8,259 L611.4,259.4 L609.1,259.7 L606.7,260 L604.4,260.3 L602,260.5 L599.7,260.8 L597.3,261.1 L595,261.4 L592.6,261.6 L590.3,261.9 L587.9,262.1 L585.6,262.3 L583.2,262.6 L580.9,262.8 L578.5,263 L576.1,263.2 L573.8,263.4 L571.4,263.5 L569.1,263.7 L566.7,263.9 L564.4,264 L562,264.2 L559.7,264.3 L557.3,264.5 L555,264.6 L552.6,264.8 L550.3,264.9 L547.9,265 L545.6,265.1 L543.2,265.2 L540.8,265.3 L538.5,265.4 L536.1,265.5 L533.8,265.6 L531.4,265.6 L529.1,265.7 L526.7,265.8 L524.4,265.9 L522,265.9 L519.7,266 L517.3,266 L515,266.1 L512.6,266.1 L510.3,266.2 L507.9,266.2 L505.5,266.3 L503.2,266.3 L500.8,266.4 L498.5,266.4 L496.1,266.4 L493.8,266.5 L491.4,266.5 L489.1,266.5 L486.7,266.5 L484.4,266.6 L482,266.6 L479.7,266.6 L477.3,266.6 L475,266.7 L472.6,266.7 L470.2,266.7 L467.9,266.7 L465.5,266.7 L463.2,266.7 L460.8,266.8 L458.5,266.8 L456.1,266.8 L453.8,266.8 L451.4,266.8 L449.1,266.8 L446.7,266.8 L444.4,266.8 L442,266.9 L439.7,266.9 L437.3,266.9 L434.9,266.9 L432.6,266.9 L430.2,266.9 L427.9,266.9 L425.5,266.9 L423.2,266.9 L420.8,266.9 L418.5,266.9 L416.1,266.9 L413.8,267 L411.4,267 L409.1,267 L406.7,267 L404.4,267 L402,267 Z" fill="#f4a460"/>
<path d="M402,266.9 L404.4,266.8 L406.7,266.8 L409.1,266.8 L411.4,266.8 L413.8,266.8 L416.1,266.8 L418.5,266.8 L420.8,266.7 L423.2,266.7 L425.5,266.7 L427.9,266.7 L430.2,266.7 L432.6,266.7 L434.9,266.6 L437.3,266.6 L439.7,266.6 L442,266.6 L444.4,266.5 L446.7,266.5 L449.1,266.5 L451.4,266.5 L453.8,266.4 L456.1,266.4 L458.5,266.4 L460.8,266.3 L463.2,266.3 L465.5,266.3 L467.9,266.2 L470.2,266.2 L472.6,266.2 L475,266.1 L477.3,266.1 L479.7,266 L482,266 L484.4,265.9 L486.7,265.9 L489.1,265.8 L491.4,265.8 L493.8,265.7 L496.1,265.7 L498.5,265.6 L500.8,265.5 L503.2,265.5 L505.5,265.4 L507.9,265.3 L510.3,265.3 L512.6,265.2 L515,265.1 L517.3,265 L519.7,264.9 L522,264.8 L524.4,264.8 L526.7,264.7 L529.1,264.6 L531.4,264.5 L533.8,264.4 L536.1,264.2 L538.5,264.1 L540.8,264 L543.2,263.9 L545.6,263.8 L547.9,263.7 L550.3,263.5 L552.6,263.4 L555,263.3 L557.3,263.2 L559.7,263 L562,262.9 L564.4,262.7 L566.7,262.6 L569.1,262.4 L571.4,262.3 L573.8,262.1 L576.1,262 L578.5,261.8 L580.9,261.6 L583.2,261.5 L585.6,261.3 L587.9,261.1 L590.3,260.9 L592.6,260.8 L595,260.6 L597.3,260.4 L599.7,260.2 L602,260 L604.4,259.9 L606.7,259.7 L609.1,259.5 L611.4,259.3 L613.8,259.1 L616.2,258.9 L618.5,258.7 L620.9,258.5 L623.2,258.3 L625.6,258.1 L627.9,258 L630.3,257.8 L632.6,257.6 L635,257.4 L637.3,257.2 L639.7,257 L642,256.8 L644.4,256.6 L646.7,256.5 L649.1,256.3 L651.5,256.1 L653.8,256 L656.2,255.8 L658.5,255.6 L660.9,255.5 L663.2,255.3 L665.6,255.2 L667.9,255 L670.3,254.9 L672.6,254.8 L675,254.7 L677.3,254.5 L679.7,254.4 L682,254.3 L684.4,254.2" fill="none" stroke="#2020ff" stroke-width="0.85"/>
<path d="M402,267 L404.4,267 L406.7,267 L409.1,267 L411.4,267 L413.8,267 L416.1,266.9 L418.5,266.9 L420.8,266.9 L423.2,266.9 L425.5,266.9 L427.9,266.9 L430.2,266.9 L432.6,266.9 L434.9,266.9 L437.3,266.9 L439.7,266.9 L442,266.9 L444.4,266.8 L446.7,266.8 L449.1,266.8 L451.4,266.8 L453.8,266.8 L456.1,266.8 L458.5,266.8 L460.8,266.8 L463.2,266.7 L465.5,266.7 L467.9,266.7 L470.2,266.7 L472.6,266.7 L475,266.7 L477.3,266.6 L479.7,266.6 L482,266.6 L484.4,266.6 L486.7,266.5 L489.1,266.5 L491.4,266.5 L493.8,266.5 L496.1,266.4 L498.5,266.4 L500.8,266.4 L503.2,266.3 L505.5,266.3 L507.9,266.2 L510.3,266.2 L512.6,266.1 L515,266.1 L517.3,266 L519.7,266 L522,265.9 L524.4,265.9 L526.7,265.8 L529.1,265.7 L531.4,265.6 L533.8,265.6 L536.1,265.5 L538.5,265.4 L540.8,265.3 L543.2,265.2 L545.6,265.1 L547.9,265 L550.3,264.9 L552.6,264.8 L555,264.6 L557.3,264.5 L559.7,264.3 L562,264.2 L564.4,264 L566.7,263.9 L569.1,263.7 L571.4,263.5 L573.8,263.4 L576.1,263.2 L578.5,263 L580.9,262.8 L583.2,262.6 L585.6,262.3 L587.9,262.1 L590.3,261.9 L592.6,261.6 L595,261.4 L597.3,261.1 L599.7,260.8 L602,260.5 L604.4,260.3 L606.7,260 L609.1,259.7 L611.4,259.4 L613.8,259 L616.2,258.7 L618.5,258.4 L620.9,258.1 L623.2,257.7 L625.6,257.4 L627.9,257 L630.3,256.7 L632.6,256.3 L635,256 L637.3,255.6 L639.7,255.2 L642,254.9 L644.4,254.5 L646.7,254.1 L649.1,253.8 L651.5,253.4 L653.8,253.1 L656.2,252.7 L658.5,252.4 L660.9,252 L663.2,251.7 L665.6,251.4 L667.9,251.1 L670.3,250.7 L672.6,250.4 L675,250.2 L677.3,249.9 L679.7,249.6 L682,249.4 L684.4,249.2" fill="none" stroke="#ff2020" stroke-width="0.85"/>
<path d="M402,261.3 L404.4,261.2 L406.7,261 L409.1,260.7 L411.4,260.5 L413.8,260.3 L416.1,260.1 L418.5,259.8 L420.8,259.5 L423.2,259.3 L425.5,259 L427.9,258.6 L430.2,258.3 L432.6,258 L434.9,257.6 L437.3,257.2 L439.7,256.8 L442,256.3 L444.4,255.9 L446.7,255.4 L449.1,254.8 L451.4,254.3 L453.8,253.6 L456.1,253 L458.5,252.3 L460.8,251.6 L463.2,250.8 L465.5,249.9 L467.9,249 L470.2,248.1 L472.6,247 L475,245.9 L477.3,244.7 L479.7,243.5 L482,242.2 L484.4,240.7 L486.7,239.2 L489.1,237.6 L491.4,235.9 L493.8,234.1 L496.1,232.2 L498.5,230.2 L500.8,228.1 L503.2,225.9 L505.5,223.6 L507.9,221.2 L510.3,218.7 L512.6,216.2 L515,213.6 L517.3,211 L519.7,208.4 L522,205.9 L524.4,203.4 L526.7,201.1 L529.1,198.9 L531.4,197 L533.8,195.4 L536.1,194 L538.5,193 L540.8,192.4 L543.2,192.2 L545.6,192.4 L547.9,192.9 L550.3,193.7 L552.6,194.8 L555,196.2 L557.3,197.8 L559.7,199.6 L562,201.6 L564.4,203.8 L566.7,206.1 L569.1,208.4 L571.4,210.9 L573.8,213.3 L576.1,215.8 L578.5,218.2 L580.9,220.7 L583.2,223.1 L585.6,225.4 L587.9,227.7 L590.3,229.9 L592.6,232 L595,234 L597.3,236 L599.7,237.9 L602,239.7 L604.4,241.4 L606.7,243 L609.1,244.5 L611.4,245.9 L613.8,247.2 L616.2,248.5 L618.5,249.7 L620.9,250.8 L623.2,251.8 L625.6,252.7 L627.9,253.6 L630.3,254.4 L632.6,255.2 L635,255.9 L637.3,256.5 L639.7,257.1 L642,257.7 L644.4,258.2 L646.7,258.6 L649.1,259.1 L651.5,259.5 L653.8,259.8 L656.2,260.2 L658.5,260.5 L660.9,260.8 L663.2,261.1 L665.6,261.3 L667.9,261.6 L670.3,261.8 L672.6,262 L675,262.2 L677.3,262.4 L679.7,262.5 L682,262.7 L684.4,262.8 L684.4,266 L682,265.9 L679.7,265.9 L677.3,265.8 L675,265.8 L672.6,265.7 L670.3,265.6 L667.9,265.6 L665.6,265.5 L663.2,265.4 L660.9,265.3 L658.5,265.2 L656.2,265.1 L653.8,265 L651.5,264.9 L649.1,264.7 L646.7,264.6 L644.4,264.5 L642,264.3 L639.7,264.1 L637.3,263.9 L635,263.7 L632.6,263.5 L630.3,263.3 L627.9,263 L625.6,262.8 L623.2,262.5 L620.9,262.2 L618.5,261.9 L616.2,261.6 L613.8,261.2 L611.4,260.9 L609.1,260.5 L606.7,260.1 L604.4,259.6 L602,259.2 L599.7,258.7 L597.3,258.2 L595,257.7 L592.6,257.2 L590.3,256.7 L587.9,256.2 L585.6,255.6 L583.2,255 L580.9,254.5 L578.5,253.9 L576.1,253.3 L573.8,252.7 L571.4,252.2 L569.1,251.6 L566.7,251.1 L564.4,250.6 L562,250.1 L559.7,249.7 L557.3,249.3 L555,248.9 L552.6,248.6 L550.3,248.4 L547.9,248.2 L545.6,248.1 L543.2,248.1 L540.8,248.1 L538.5,248.3 L536.1,248.6 L533.8,249.1 L531.4,249.6 L529.1,250.2 L526.7,250.9 L524.4,251.6 L522,252.4 L519.7,253.1 L517.3,253.9 L515,254.7 L512.6,255.5 L510.3,256.3 L507.9,257 L505.5,257.7 L503.2,258.4 L500.8,259.1 L498.5,259.7 L496.1,260.2 L493.8,260.8 L491.4,261.3 L489.1,261.8 L486.7,262.2 L484.4,262.6 L482,263 L479.7,263.3 L477.3,263.6 L475,263.9 L472.6,264.2 L470.2,264.4 L467.9,264.6 L465.5,264.8 L463.2,265 L460.8,265.1 L458.5,265.3 L456.1,265.4 L453.8,265.5 L451.4,265.6 L449.1,265.7 L446.7,265.8 L444.4,265.9 L442,265.9 L439.7,266 L437.3,266.1 L434.9,266.1 L432.6,266.2 L430.2,266.2 L427.9,266.3 L425.5,266.3 L423.2,266.4 L420.8,266.4 L418.5,266.4 L416.1,266.5 L413.8,266.5 L411.4,266.5 L409.1,266.6 L406.7,266.6 L404.4,266.6 L402,266.6 Z" fill="#6495ed"/>
<path d="M402,261.3 L404.4,261.2 L406.7,261 L409.1,260.7 L411.4,260.5 L413.8,260.3 L416.1,260.1 L418.5,259.8 L420.8,259.5 L423.2,259.3 L425.5,259 L427.9,258.6 L430.2,258.3 L432.6,258 L434.9,257.6 L437.3,257.2 L439.7,256.8 L442,256.3 L444.4,255.9 L446.7,255.4 L449.1,254.8 L451.4,254.3 L453.8,253.6 L456.1,253 L458.5,252.3 L460.8,251.6 L463.2,250.8 L465.5,249.9 L467.9,249 L470.2,248.1 L472.6,247 L475,245.9 L477.3,244.7 L479.7,243.5 L482,242.2 L484.4,240.7 L486.7,239.2 L489.1,237.6 L491.4,235.9 L493.8,234.1 L496.1,232.2 L498.5,230.2 L500.8,228.1 L503.2,225.9 L505.5,223.6 L507.9,221.2 L510.3,218.7 L512.6,216.2 L515,213.6 L517.3,211 L519.7,208.4 L522,205.9 L524.4,203.4 L526.7,201.1 L529.1,198.9 L531.4,197 L533.8,195.4 L536.1,194 L538.5,193 L540.8,192.4 L543.2,192.2 L545.6,192.4 L547.9,192.9 L550.3,193.7 L552.6,194.8 L555,196.2 L557.3,197.8 L559.7,199.6 L562,201.6 L564.4,203.8 L566.7,206.1 L569.1,208.4 L571.4,210.9 L573.8,213.3 L576.1,215.8 L578.5,218.2 L580.9,220.7 L583.2,223.1 L585.6,225.4 L587.9,227.7 L590.3,229.9 L592.6,232 L595,234 L597.3,236 L599.7,237.9 L602,239.7 L604.4,241.4 L606.7,243 L609.1,244.5 L611.4,245.9 L613.8,247.2 L616.2,248.5 L618.5,249.7 L620.9,250.8 L623.2,251.8 L625.6,252.7 L627.9,253.6 L630.3,254.4 L632.6,255.2 L635,255.9 L637.3,256.5 L639.7,257.1 L642,257.7 L644.4,258.2 L646.7,258.6 L649.1,259.1 L651.5,259.5 L653.8,259.8 L656.2,260.2 L658.5,260.5 L660.9,260.8 L663.2,261.1 L665.6,261.3 L667.9,261.6 L670.3,261.8 L672.6,262 L675,262.2 L677.3,262.4 L679.7,262.5 L682,262.7 L684.4,262.8" fill="none" stroke="#2020ff" stroke-width="0.85"/>
<path d="M402,266.6 L404.4,266.6 L406.7,266.6 L409.1,266.6 L411.4,266.5 L413.8,266.5 L416.1,266.5 L418.5,266.4 L420.8,266.4 L423.2,266.4 L425.5,266.3 L427.9,266.3 L430.2,266.2 L432.6,266.2 L434.9,266.1 L437.3,266.1 L439.7,266 L442,265.9 L444.4,265.9 L446.7,265.8 L449.1,265.7 L451.4,265.6 L453.8,265.5 L456.1,265.4 L458.5,265.3 L460.8,265.1 L463.2,265 L465.5,264.8 L467.9,264.6 L470.2,264.4 L472.6,264.2 L475,263.9 L477.3,263.6 L479.7,263.3 L482,263 L484.4,262.6 L486.7,262.2 L489.1,261.8 L491.4,261.3 L493.8,260.8 L496.1,260.2 L498.5,259.7 L500.8,259.1 L503.2,258.4 L505.5,257.7 L507.9,257 L510.3,256.3 L512.6,255.5 L515,254.7 L517.3,253.9 L519.7,253.1 L522,252.4 L524.4,251.6 L526.7,250.9 L529.1,250.2 L531.4,249.6 L533.8,249.1 L536.1,248.6 L538.5,248.3 L540.8,248.1 L543.2,248.1 L545.6,248.1 L547.9,248.2 L550.3,248.4 L552.6,248.6 L555,248.9 L557.3,249.3 L559.7,249.7 L562,250.1 L564.4,250.6 L566.7,251.1 L569.1,251.6 L571.4,252.2 L573.8,252.7 L576.1,253.3 L578.5,253.9 L580.9,254.5 L583.2,255 L585.6,255.6 L587.9,256.2 L590.3,256.7 L592.6,257.2 L595,257.7 L597.3,258.2 L599.7,258.7 L602,259.2 L604.4,259.6 L606.7,260.1 L609.1,260.5 L611.4,260.9 L613.8,261.2 L616.2,261.6 L618.5,261.9 L620.9,262.2 L623.2,262.5 L625.6,262.8 L627.9,263 L630.3,263.3 L632.6,263.5 L635,263.7 L637.3,263.9 L639.7,264.1 L642,264.3 L644.4,264.5 L646.7,264.6 L649.1,264.7 L651.5,264.9 L653.8,265 L656.2,265.1 L658.5,265.2 L660.9,265.3 L663.2,265.4 L665.6,265.5 L667.9,265.6 L670.3,265.6 L672.6,265.7 L675,265.8 L677.3,265.8 L679.7,265.9 L682,265.9 L684.4,266" fill="none" stroke="#ff2020" stroke-width="0.85"/>
<path d="M402,267 L404.4,267 L406.7,267 L409.1,266.9 L411.4,266.9 L413.8,266.9 L416.1,266.9 L418.5,266.9 L420.8,266.8 L423.2,266.8 L425.5,266.8 L427.9,266.7 L430.2,266.7 L432.6,266.7 L434.9,266.6 L437.3,266.6 L439.7,266.5 L442,266.5 L444.4,266.4 L446.7,266.3 L449.1,266.2 L451.4,266.1 L453.8,266 L456.1,265.8 L458.5,265.7 L460.8,265.5 L463.2,265.3 L465.5,265 L467.9,264.7 L470.2,264.4 L472.6,264 L475,263.6 L477.3,263.1 L479.7,262.6 L482,262.1 L484.4,261.4 L486.7,260.8 L489.1,260.1 L491.4,259.4 L493.8,258.6 L496.1,257.8 L498.5,257 L500.8,256.2 L503.2,255.5 L505.5,254.8 L507.9,254.2 L510.3,253.7 L512.6,253.3 L515,253.1 L517.3,253.1 L519.7,253.2 L522,253.5 L524.4,253.9 L526.7,254.5 L529.1,255.1 L531.4,255.8 L533.8,256.6 L536.1,257.4 L538.5,258.1 L540.8,258.9 L543.2,259.8 L545.6,260.6 L547.9,261.3 L550.3,262 L552.6,262.6 L555,263.1 L557.3,263.6 L559.7,264 L562,264.3 L564.4,264.7 L566.7,264.9 L569.1,265.2 L571.4,265.4 L573.8,265.6 L576.1,265.7 L578.5,265.9 L580.9,266 L583.2,266.1 L585.6,266.2 L587.9,266.3 L590.3,266.4 L592.6,266.5 L595,266.5 L597.3,266.6 L599.7,266.6 L602,266.7 L604.4,266.7 L606.7,266.8 L609.1,266.8 L611.4,266.8 L613.8,266.8 L616.2,266.9 L618.5,266.9 L620.9,266.9 L623.2,266.9 L625.6,266.9 L627.9,267 L630.3,267 L632.6,267 L635,267 L637.3,267 L639.7,267 L642,267.1 L644.4,267.1 L646.7,267.1 L649.1,267.1 L651.5,267.1 L653.8,267.1 L656.2,267.1 L658.5,267.1 L660.9,267.1 L663.2,267.1 L665.6,267.2 L667.9,267.2 L670.3,267.2 L672.6,267.2 L675,267.2 L677.3,267.2 L679.7,267.2 L682,267.2 L684.4,267.2 L684.4,269.4 L402,269.4 Z" fill="#fff"/>
<path d="M402,267 L404.4,267 L406.7,267 L409.1,266.9 L411.4,266.9 L413.8,266.9 L416.1,266.9 L418.5,266.9 L420.8,266.8 L423.2,266.8 L425.5,266.8 L427.9,266.7 L430.2,266.7 L432.6,266.7 L434.9,266.6 L437.3,266.6 L439.7,266.5 L442,266.5 L444.4,266.4 L446.7,266.3 L449.1,266.2 L451.4,266.1 L453.8,266 L456.1,265.8 L458.5,265.7 L460.8,265.5 L463.2,265.3 L465.5,265 L467.9,264.7 L470.2,264.4 L472.6,264 L475,263.6 L477.3,263.1 L479.7,262.6 L482,262.1 L484.4,261.4 L486.7,260.8 L489.1,260.1 L491.4,259.4 L493.8,258.6 L496.1,257.8 L498.5,257 L500.8,256.2 L503.2,255.5 L505.5,254.8 L507.9,254.2 L510.3,253.7 L512.6,253.3 L515,253.1 L517.3,253.1 L519.7,253.2 L522,253.5 L524.4,253.9 L526.7,254.5 L529.1,255.1 L531.4,255.8 L533.8,256.6 L536.1,257.4 L538.5,258.1 L540.8,258.9 L543.2,259.7 L545.6,260.4 L547.9,261.1 L550.3,261.7 L552.6,262.3 L555,262.9 L557.3,263.3 L559.7,263.8 L562,264.2 L564.4,264.5 L566.7,264.8 L569.1,265.1 L571.4,265.4 L573.8,265.6 L576.1,265.7 L578.5,265.9 L580.9,266 L583.2,266.1 L585.6,266.2 L587.9,266.3 L590.3,266.4 L592.6,266.5 L595,266.5 L597.3,266.6 L599.7,266.6 L602,266.7 L604.4,266.7 L606.7,266.8 L609.1,266.8 L611.4,266.8 L613.8,266.8 L616.2,266.9 L618.5,266.9 L620.9,266.9 L623.2,266.9 L625.6,266.9 L627.9,267 L630.3,267 L632.6,267 L635,267 L637.3,267 L639.7,267 L642,267.1 L644.4,267.1 L646.7,267.1 L649.1,267.1 L651.5,267.1 L653.8,267.1 L656.2,267.1 L658.5,267.1 L660.9,267.1 L663.2,267.1 L665.6,267.2 L667.9,267.2 L670.3,267.2 L672.6,267.2 L675,267.2 L677.3,267.2 L679.7,267.2 L682,267.2 L684.4,267.2 L684.4,267.1 L682,267.1 L679.7,267.1 L677.3,267.1 L675,267.1 L672.6,267.1 L670.3,267.1 L667.9,267.1 L665.6,267.1 L663.2,267.1 L660.9,267.1 L658.5,267.1 L656.2,267 L653.8,267 L651.5,267 L649.1,267 L646.7,267 L644.4,267 L642,267 L639.7,266.9 L637.3,266.9 L635,266.9 L632.6,266.9 L630.3,266.9 L627.9,266.9 L625.6,266.8 L623.2,266.8 L620.9,266.8 L618.5,266.8 L616.2,266.7 L613.8,266.7 L611.4,266.7 L609.1,266.7 L606.7,266.6 L604.4,266.6 L602,266.5 L599.7,266.5 L597.3,266.5 L595,266.4 L592.6,266.3 L590.3,266.3 L587.9,266.2 L585.6,266.1 L583.2,266 L580.9,265.9 L578.5,265.8 L576.1,265.7 L573.8,265.5 L571.4,265.4 L569.1,265.2 L566.7,264.9 L564.4,264.7 L562,264.3 L559.7,264 L557.3,263.6 L555,263.1 L552.6,262.6 L550.3,262 L547.9,261.3 L545.6,260.6 L543.2,259.8 L540.8,258.9 L538.5,258 L536.1,257 L533.8,255.9 L531.4,254.8 L529.1,253.7 L526.7,252.6 L524.4,251.5 L522,250.4 L519.7,249.4 L517.3,248.6 L515,247.8 L512.6,247.3 L510.3,247 L507.9,246.9 L505.5,247.1 L503.2,247.4 L500.8,247.9 L498.5,248.6 L496.1,249.5 L493.8,250.4 L491.4,251.4 L489.1,252.4 L486.7,253.5 L484.4,254.5 L482,255.6 L479.7,256.6 L477.3,257.5 L475,258.4 L472.6,259.3 L470.2,260.1 L467.9,260.8 L465.5,261.5 L463.2,262.1 L460.8,262.6 L458.5,263.1 L456.1,263.6 L453.8,264 L451.4,264.3 L449.1,264.6 L446.7,264.9 L444.4,265.1 L442,265.3 L439.7,265.5 L437.3,265.6 L434.9,265.8 L432.6,265.9 L430.2,266 L427.9,266.1 L425.5,266.1 L423.2,266.2 L420.8,266.3 L418.5,266.3 L416.1,266.4 L413.8,266.4 L411.4,266.5 L409.1,266.5 L406.7,266.6 L404.4,266.6 L402,266.6 Z" fill="#e9967a"/>
<path d="M402,267 L404.4,267 L406.7,267 L409.1,266.9 L411.4,266.9 L413.8,266.9 L416.1,266.9 L418.5,266.9 L420.8,266.8 L423.2,266.8 L425.5,266.8 L427.9,266.7 L430.2,266.7 L432.6,266.7 L434.9,266.6 L437.3,266.6 L439.7,266.5 L442,266.5 L444.4,266.4 L446.7,266.3 L449.1,266.2 L451.4,266.1 L453.8,266 L456.1,265.8 L458.5,265.7 L460.8,265.5 L463.2,265.3 L465.5,265 L467.9,264.7 L470.2,264.4 L472.6,264 L475,263.6 L477.3,263.1 L479.7,262.6 L482,262.1 L484.4,261.4 L486.7,260.8 L489.1,260.1 L491.4,259.4 L493.8,258.6 L496.1,257.8 L498.5,257 L500.8,256.2 L503.2,255.5 L505.5,254.8 L507.9,254.2 L510.3,253.7 L512.6,253.3 L515,253.1 L517.3,253.1 L519.7,253.2 L522,253.5 L524.4,253.9 L526.7,254.5 L529.1,255.1 L531.4,255.8 L533.8,256.6 L536.1,257.4 L538.5,258.1 L540.8,258.9 L543.2,259.7 L545.6,260.4 L547.9,261.1 L550.3,261.7 L552.6,262.3 L555,262.9 L557.3,263.3 L559.7,263.8 L562,264.2 L564.4,264.5 L566.7,264.8 L569.1,265.1 L571.4,265.4 L573.8,265.6 L576.1,265.7 L578.5,265.9 L580.9,266 L583.2,266.1 L585.6,266.2 L587.9,266.3 L590.3,266.4 L592.6,266.5 L595,266.5 L597.3,266.6 L599.7,266.6 L602,266.7 L604.4,266.7 L606.7,266.8 L609.1,266.8 L611.4,266.8 L613.8,266.8 L616.2,266.9 L618.5,266.9 L620.9,266.9 L623.2,266.9 L625.6,266.9 L627.9,267 L630.3,267 L632.6,267 L635,267 L637.3,267 L639.7,267 L642,267.1 L644.4,267.1 L646.7,267.1 L649.1,267.1 L651.5,267.1 L653.8,267.1 L656.2,267.1 L658.5,267.1 L660.9,267.1 L663.2,267.1 L665.6,267.2 L667.9,267.2 L670.3,267.2 L672.6,267.2 L675,267.2 L677.3,267.2 L679.7,267.2 L682,267.2 L684.4,267.2" fill="none" stroke="#2020ff" stroke-width="0.85"/>
<path d="M402,266.6 L404.4,266.6 L406.7,266.6 L409.1,266.5 L411.4,266.5 L413.8,266.4 L416.1,266.4 L418.5,266.3 L420.8,266.3 L423.2,266.2 L425.5,266.1 L427.9,266.1 L430.2,266 L432.6,265.9 L434.9,265.8 L437.3,265.6 L439.7,265.5 L442,265.3 L444.4,265.1 L446.7,264.9 L449.1,264.6 L451.4,264.3 L453.8,264 L456.1,263.6 L458.5,263.1 L460.8,262.6 L463.2,262.1 L465.5,261.5 L467.9,260.8 L470.2,260.1 L472.6,259.3 L475,258.4 L477.3,257.5 L479.7,256.6 L482,255.6 L484.4,254.5 L486.7,253.5 L489.1,252.4 L491.4,251.4 L493.8,250.4 L496.1,249.5 L498.5,248.6 L500.8,247.9 L503.2,247.4 L505.5,247.1 L507.9,246.9 L510.3,247 L512.6,247.3 L515,247.8 L517.3,248.6 L519.7,249.4 L522,250.4 L524.4,251.5 L526.7,252.6 L529.1,253.7 L531.4,254.8 L533.8,255.9 L536.1,257 L538.5,258 L540.8,258.9 L543.2,259.8 L545.6,260.6 L547.9,261.3 L550.3,262 L552.6,262.6 L555,263.1 L557.3,263.6 L559.7,264 L562,264.3 L564.4,264.7 L566.7,264.9 L569.1,265.2 L571.4,265.4 L573.8,265.5 L576.1,265.7 L578.5,265.8 L580.9,265.9 L583.2,266 L585.6,266.1 L587.9,266.2 L590.3,266.3 L592.6,266.3 L595,266.4 L597.3,266.5 L599.7,266.5 L602,266.5 L604.4,266.6 L606.7,266.6 L609.1,266.7 L611.4,266.7 L613.8,266.7 L616.2,266.7 L618.5,266.8 L620.9,266.8 L623.2,266.8 L625.6,266.8 L627.9,266.9 L630.3,266.9 L632.6,266.9 L635,266.9 L637.3,266.9 L639.7,266.9 L642,267 L644.4,267 L646.7,267 L649.1,267 L651.5,267 L653.8,267 L656.2,267 L658.5,267.1 L660.9,267.1 L663.2,267.1 L665.6,267.1 L667.9,267.1 L670.3,267.1 L672.6,267.1 L675,267.1 L677.3,267.1 L679.7,267.1 L682,267.1 L684.4,267.1" fill="none" stroke="#ff2020" stroke-width="0.85"/>
<path d="M402,267.2 L404.4,267.2 L406.7,267.2 L409.1,267.2 L411.4,267.1 L413.8,267.1 L416.1,267.1 L418.5,267.1 L420.8,267 L423.2,267 L425.5,266.9 L427.9,266.9 L430.2,266.8 L432.6,266.7 L434.9,266.6 L437.3,266.5 L439.7,266.4 L442,266.3 L444.4,266.1 L446.7,265.9 L449.1,265.8 L451.4,265.6 L453.8,265.4 L456.1,265.1 L458.5,264.9 L460.8,264.7 L463.2,264.5 L465.5,264.3 L467.9,264.1 L470.2,264 L472.6,263.9 L475,263.8 L477.3,263.8 L479.7,263.9 L482,264 L484.4,264.1 L486.7,264.3 L489.1,264.5 L491.4,264.7 L493.8,264.9 L496.1,265.1 L498.5,265.3 L500.8,265.5 L503.2,265.7 L505.5,265.9 L507.9,266.1 L510.3,266.2 L512.6,266.4 L515,266.5 L517.3,266.6 L519.7,266.7 L522,266.8 L524.4,266.9 L526.7,266.9 L529.1,267 L531.4,267 L533.8,267.1 L536.1,267.1 L538.5,267.1 L540.8,267.1 L543.2,267.2 L545.6,267.2 L547.9,267.2 L550.3,267.2 L552.6,267.2 L555,267.2 L557.3,267.2 L559.7,267.2 L562,267.3 L564.4,267.3 L566.7,267.3 L569.1,267.3 L571.4,267.3 L573.8,267.3 L576.1,267.3 L578.5,267.3 L580.9,267.3 L583.2,267.3 L585.6,267.3 L587.9,267.3 L590.3,267.3 L592.6,267.3 L595,267.3 L597.3,267.3 L599.7,267.3 L602,267.3 L604.4,267.3 L606.7,267.3 L609.1,267.3 L611.4,267.3 L613.8,267.3 L616.2,267.3 L618.5,267.3 L620.9,267.3 L623.2,267.3 L625.6,267.3 L627.9,267.4 L630.3,267.4 L632.6,267.4 L635,267.4 L637.3,267.4 L639.7,267.4 L642,267.4 L644.4,267.4 L646.7,267.4 L649.1,267.4 L651.5,267.4 L653.8,267.4 L656.2,267.4 L658.5,267.4 L660.9,267.4 L663.2,267.4 L665.6,267.4 L667.9,267.4 L670.3,267.4 L672.6,267.4 L675,267.4 L677.3,267.4 L679.7,267.4 L682,267.4 L684.4,267.4 L684.4,269.4 L402,269.4 Z" fill="#fff"/>
<path d="M402,267.2 L404.4,267.2 L406.7,267.2 L409.1,267.2 L411.4,267.1 L413.8,267.1 L416.1,267.1 L418.5,267.1 L420.8,267 L423.2,267 L425.5,266.9 L427.9,266.9 L430.2,266.8 L432.6,266.7 L434.9,266.6 L437.3,266.5 L439.7,266.4 L442,266.3 L444.4,266.1 L446.7,265.9 L449.1,265.8 L451.4,265.6 L453.8,265.4 L456.1,265.1 L458.5,264.9 L460.8,264.7 L463.2,264.5 L465.5,264.3 L467.9,264.1 L470.2,264 L472.6,263.9 L475,263.8 L477.3,263.8 L479.7,263.9 L482,264 L484.4,264.1 L486.7,264.3 L489.1,264.5 L491.4,264.7 L493.8,264.9 L496.1,265.1 L498.5,265.3 L500.8,265.5 L503.2,265.7 L505.5,265.9 L507.9,266.1 L510.3,266.2 L512.6,266.4 L515,266.5 L517.3,266.6 L519.7,266.7 L522,266.8 L524.4,266.9 L526.7,266.9 L529.1,267 L531.4,267 L533.8,267.1 L536.1,267.1 L538.5,267.1 L540.8,267.1 L543.2,267.2 L545.6,267.2 L547.9,267.2 L550.3,267.2 L552.6,267.2 L555,267.2 L557.3,267.2 L559.7,267.2 L562,267.3 L564.4,267.3 L566.7,267.3 L569.1,267.3 L571.4,267.3 L573.8,267.3 L576.1,267.3 L578.5,267.3 L580.9,267.3 L583.2,267.3 L585.6,267.3 L587.9,267.3 L590.3,267.3 L592.6,267.3 L595,267.3 L597.3,267.3 L599.7,267.3 L602,267.3 L604.4,267.3 L606.7,267.3 L609.1,267.3 L611.4,267.3 L613.8,267.3 L616.2,267.3 L618.5,267.3 L620.9,267.3 L623.2,267.3 L625.6,267.3 L627.9,267.4 L630.3,267.4 L632.6,267.4 L635,267.4 L637.3,267.4 L639.7,267.4 L642,267.4 L644.4,267.4 L646.7,267.4 L649.1,267.4 L651.5,267.4 L653.8,267.4 L656.2,267.4 L658.5,267.4 L660.9,267.4 L663.2,267.4 L665.6,267.4 L667.9,267.4 L670.3,267.4 L672.6,267.4 L675,267.4 L677.3,267.4 L679.7,267.4 L682,267.4 L684.4,267.4 L684.4,267.3 L682,267.3 L679.7,267.3 L677.3,267.3 L675,267.3 L672.6,267.3 L670.3,267.3 L667.9,267.3 L665.6,267.3 L663.2,267.3 L660.9,267.3 L658.5,267.3 L656.2,267.3 L653.8,267.3 L651.5,267.3 L649.1,267.3 L646.7,267.3 L644.4,267.3 L642,267.3 L639.7,267.3 L637.3,267.3 L635,267.3 L632.6,267.3 L630.3,267.3 L627.9,267.3 L625.6,267.3 L623.2,267.3 L620.9,267.2 L618.5,267.2 L616.2,267.2 L613.8,267.2 L611.4,267.2 L609.1,267.2 L606.7,267.2 L604.4,267.2 L602,267.2 L599.7,267.2 L597.3,267.2 L595,267.2 L592.6,267.2 L590.3,267.2 L587.9,267.2 L585.6,267.1 L583.2,267.1 L580.9,267.1 L578.5,267.1 L576.1,267.1 L573.8,267.1 L571.4,267.1 L569.1,267 L566.7,267 L564.4,267 L562,267 L559.7,267 L557.3,266.9 L555,266.9 L552.6,266.9 L550.3,266.9 L547.9,266.8 L545.6,266.8 L543.2,266.7 L540.8,266.7 L538.5,266.6 L536.1,266.5 L533.8,266.4 L531.4,266.3 L529.1,266.2 L526.7,266.1 L524.4,265.9 L522,265.7 L519.7,265.4 L517.3,265.2 L515,264.9 L512.6,264.5 L510.3,264.1 L507.9,263.7 L505.5,263.2 L503.2,262.7 L500.8,262.2 L498.5,261.6 L496.1,261 L493.8,260.4 L491.4,259.8 L489.1,259.2 L486.7,258.6 L484.4,258.2 L482,257.8 L479.7,257.5 L477.3,257.4 L475,257.4 L472.6,257.6 L470.2,257.8 L467.9,258.2 L465.5,258.7 L463.2,259.3 L460.8,259.9 L458.5,260.5 L456.1,261.1 L453.8,261.7 L451.4,262.3 L449.1,262.8 L446.7,263.3 L444.4,263.8 L442,264.2 L439.7,264.6 L437.3,264.9 L434.9,265.2 L432.6,265.5 L430.2,265.7 L427.9,265.9 L425.5,266.1 L423.2,266.2 L420.8,266.3 L418.5,266.5 L416.1,266.5 L413.8,266.6 L411.4,266.7 L409.1,266.7 L406.7,266.8 L404.4,266.8 L402,266.9 Z" fill="#f08080"/>
<path d="M402,267.2 L404.4,267.2 L406.7,267.2 L409.1,267.2 L411.4,267.1 L413.8,267.1 L416.1,267.1 L418.5,267.1 L420.8,267 L423.2,267 L425.5,266.9 L427.9,266.9 L430.2,266.8 L432.6,266.7 L434.9,266.6 L437.3,266.5 L439.7,266.4 L442,266.3 L444.4,266.1 L446.7,265.9 L449.1,265.8 L451.4,265.6 L453.8,265.4 L456.1,265.1 L458.5,264.9 L460.8,264.7 L463.2,264.5 L465.5,264.3 L467.9,264.1 L470.2,264 L472.6,263.9 L475,263.8 L477.3,263.8 L479.7,263.9 L482,264 L484.4,264.1 L486.7,264.3 L489.1,264.5 L491.4,264.7 L493.8,264.9 L496.1,265.1 L498.5,265.3 L500.8,265.5 L503.2,265.7 L505.5,265.9 L507.9,266.1 L510.3,266.2 L512.6,266.4 L515,266.5 L517.3,266.6 L519.7,266.7 L522,266.8 L524.4,266.9 L526.7,266.9 L529.1,267 L531.4,267 L533.8,267.1 L536.1,267.1 L538.5,267.1 L540.8,267.1 L543.2,267.2 L545.6,267.2 L547.9,267.2 L550.3,267.2 L552.6,267.2 L555,267.2 L557.3,267.2 L559.7,267.2 L562,267.3 L564.4,267.3 L566.7,267.3 L569.1,267.3 L571.4,267.3 L573.8,267.3 L576.1,267.3 L578.5,267.3 L580.9,267.3 L583.2,267.3 L585.6,267.3 L587.9,267.3 L590.3,267.3 L592.6,267.3 L595,267.3 L597.3,267.3 L599.7,267.3 L602,267.3 L604.4,267.3 L606.7,267.3 L609.1,267.3 L611.4,267.3 L613.8,267.3 L616.2,267.3 L618.5,267.3 L620.9,267.3 L623.2,267.3 L625.6,267.3 L627.9,267.4 L630.3,267.4 L632.6,267.4 L635,267.4 L637.3,267.4 L639.7,267.4 L642,267.4 L644.4,267.4 L646.7,267.4 L649.1,267.4 L651.5,267.4 L653.8,267.4 L656.2,267.4 L658.5,267.4 L660.9,267.4 L663.2,267.4 L665.6,267.4 L667.9,267.4 L670.3,267.4 L672.6,267.4 L675,267.4 L677.3,267.4 L679.7,267.4 L682,267.4 L684.4,267.4" fill="none" stroke="#2020ff" stroke-width="0.85"/>
<path d="M402,266.9 L404.4,266.8 L406.7,266.8 L409.1,266.7 L411.4,266.7 L413.8,266.6 L416.1,266.5 L418.5,266.5 L420.8,266.3 L423.2,266.2 L425.5,266.1 L427.9,265.9 L430.2,265.7 L432.6,265.5 L434.9,265.2 L437.3,264.9 L439.7,264.6 L442,264.2 L444.4,263.8 L446.7,263.3 L449.1,262.8 L451.4,262.3 L453.8,261.7 L456.1,261.1 L458.5,260.5 L460.8,259.9 L463.2,259.3 L465.5,258.7 L467.9,258.2 L470.2,257.8 L472.6,257.6 L475,257.4 L477.3,257.4 L479.7,257.5 L482,257.8 L484.4,258.2 L486.7,258.6 L489.1,259.2 L491.4,259.8 L493.8,260.4 L496.1,261 L498.5,261.6 L500.8,262.2 L503.2,262.7 L505.5,263.2 L507.9,263.7 L510.3,264.1 L512.6,264.5 L515,264.9 L517.3,265.2 L519.7,265.4 L522,265.7 L524.4,265.9 L526.7,266.1 L529.1,266.2 L531.4,266.3 L533.8,266.4 L536.1,266.5 L538.5,266.6 L540.8,266.7 L543.2,266.7 L545.6,266.8 L547.9,266.8 L550.3,266.9 L552.6,266.9 L555,266.9 L557.3,266.9 L559.7,267 L562,267 L564.4,267 L566.7,267 L569.1,267 L571.4,267.1 L573.8,267.1 L576.1,267.1 L578.5,267.1 L580.9,267.1 L583.2,267.1 L585.6,267.1 L587.9,267.2 L590.3,267.2 L592.6,267.2 L595,267.2 L597.3,267.2 L599.7,267.2 L602,267.2 L604.4,267.2 L606.7,267.2 L609.1,267.2 L611.4,267.2 L613.8,267.2 L616.2,267.2 L618.5,267.2 L620.9,267.2 L623.2,267.3 L625.6,267.3 L627.9,267.3 L630.3,267.3 L632.6,267.3 L635,267.3 L637.3,267.3 L639.7,267.3 L642,267.3 L644.4,267.3 L646.7,267.3 L649.1,267.3 L651.5,267.3 L653.8,267.3 L656.2,267.3 L658.5,267.3 L660.9,267.3 L663.2,267.3 L665.6,267.3 L667.9,267.3 L670.3,267.3 L672.6,267.3 L675,267.3 L677.3,267.3 L679.7,267.3 L682,267.3 L684.4,267.3" fill="none" stroke="#ff2020" stroke-width="0.85"/>
<path d="M402,258.1 L404.4,258 L406.7,257.8 L409.1,257.6 L411.4,257.4 L413.8,257.2 L416.1,256.9 L418.5,256.6 L420.8,256.3 L423.2,255.9 L425.5,255.5 L427.9,255 L430.2,254.5 L432.6,253.9 L434.9,253.2 L437.3,252.5 L439.7,251.7 L442,250.9 L444.4,249.9 L446.7,248.9 L449.1,247.8 L451.4,246.6 L453.8,245.3 L456.1,244 L458.5,242.5 L460.8,241 L463.2,239.4 L465.5,237.7 L467.9,236 L470.2,234.2 L472.6,232.3 L475,230.4 L477.3,228.5 L479.7,226.5 L482,224.6 L484.4,222.6 L486.7,220.6 L489.1,218.6 L491.4,216.6 L493.8,214.6 L496.1,212.5 L498.5,210.4 L500.8,208.2 L503.2,206 L505.5,203.7 L507.9,201.4 L510.3,199 L512.6,196.7 L515,194.3 L517.3,192 L519.7,189.9 L522,187.8 L524.4,185.9 L526.7,184.2 L529.1,182.7 L531.4,181.5 L533.8,180.6 L536.1,179.9 L538.5,179.5 L540.8,179.4 L543.2,179.6 L545.6,180.1 L547.9,180.9 L550.3,181.9 L552.6,183.1 L555,184.6 L557.3,186.2 L559.7,188 L562,189.9 L564.4,191.9 L566.7,194 L569.1,196.1 L571.4,198.3 L573.8,200.4 L576.1,202.6 L578.5,204.7 L580.9,206.8 L583.2,208.8 L585.6,210.8 L587.9,212.7 L590.3,214.5 L592.6,216.3 L595,217.9 L597.3,219.5 L599.7,221.1 L602,222.5 L604.4,223.9 L606.7,225.2 L609.1,226.5 L611.4,227.7 L613.8,228.8 L616.2,229.9 L618.5,230.9 L620.9,231.9 L623.2,232.8 L625.6,233.6 L627.9,234.4 L630.3,235.2 L632.6,235.9 L635,236.5 L637.3,237.1 L639.7,237.7 L642,238.2 L644.4,238.7 L646.7,239.2 L649.1,239.6 L651.5,239.9 L653.8,240.3 L656.2,240.6 L658.5,240.9 L660.9,241.1 L663.2,241.4 L665.6,241.6 L667.9,241.8 L670.3,241.9 L672.6,242.1 L675,242.3 L677.3,242.4 L679.7,242.5 L682,242.6 L684.4,242.7" fill="none" stroke="#0000ff" stroke-width="1.25"/>
<path d="M402,261.4 L404.4,261.2 L406.7,261.1 L409.1,261 L411.4,260.8 L413.8,260.6 L416.1,260.3 L418.5,260.1 L420.8,259.7 L423.2,259.4 L425.5,259 L427.9,258.5 L430.2,258 L432.6,257.4 L434.9,256.7 L437.3,256 L439.7,255.3 L442,254.5 L444.4,253.6 L446.7,252.6 L449.1,251.6 L451.4,250.6 L453.8,249.5 L456.1,248.3 L458.5,247.1 L460.8,245.9 L463.2,244.7 L465.5,243.4 L467.9,242.2 L470.2,240.9 L472.6,239.7 L475,238.4 L477.3,237.2 L479.7,236 L482,234.8 L484.4,233.7 L486.7,232.6 L489.1,231.6 L491.4,230.6 L493.8,229.7 L496.1,228.9 L498.5,228.2 L500.8,227.5 L503.2,226.9 L505.5,226.4 L507.9,226 L510.3,225.6 L512.6,225.4 L515,225.2 L517.3,225.2 L519.7,225.2 L522,225.3 L524.4,225.5 L526.7,225.7 L529.1,226.1 L531.4,226.5 L533.8,226.9 L536.1,227.4 L538.5,227.9 L540.8,228.5 L543.2,229 L545.6,229.6 L547.9,230.2 L550.3,230.8 L552.6,231.4 L555,232 L557.3,232.5 L559.7,233 L562,233.5 L564.4,234 L566.7,234.5 L569.1,234.9 L571.4,235.3 L573.8,235.7 L576.1,236 L578.5,236.4 L580.9,236.7 L583.2,237 L585.6,237.3 L587.9,237.5 L590.3,237.8 L592.6,238 L595,238.3 L597.3,238.5 L599.7,238.7 L602,239 L604.4,239.2 L606.7,239.4 L609.1,239.6 L611.4,239.8 L613.8,240 L616.2,240.2 L618.5,240.3 L620.9,240.5 L623.2,240.7 L625.6,240.8 L627.9,241 L630.3,241.1 L632.6,241.2 L635,241.4 L637.3,241.5 L639.7,241.6 L642,241.7 L644.4,241.8 L646.7,241.9 L649.1,242 L651.5,242 L653.8,242.1 L656.2,242.1 L658.5,242.2 L660.9,242.2 L663.2,242.3 L665.6,242.3 L667.9,242.3 L670.3,242.3 L672.6,242.3 L675,242.4 L677.3,242.4 L679.7,242.4 L682,242.4 L684.4,242.4" fill="none" stroke="#ff0000" stroke-width="1.25"/>
</g>
<g clip-path="url(#clb)">
<line x1="402" y1="304.9" x2="684.4" y2="304.9" stroke="#555" stroke-width="0.8" stroke-dasharray="3.2,2.3"/>
<path d="M402,303.7 L404.4,303.6 L406.7,303.5 L409.1,303.4 L411.4,303.3 L413.8,303.3 L416.1,303.2 L418.5,303.2 L420.8,303.2 L423.2,303.2 L425.5,303.2 L427.9,303.2 L430.2,303.3 L432.6,303.3 L434.9,303.3 L437.3,303.3 L439.7,303.4 L442,303.4 L444.4,303.4 L446.7,303.4 L449.1,303.4 L451.4,303.3 L453.8,303.3 L456.1,303.2 L458.5,303.1 L460.8,303 L463.2,302.9 L465.5,302.7 L467.9,302.5 L470.2,302.3 L472.6,302 L475,301.7 L477.3,301.4 L479.7,301 L482,300.6 L484.4,300.1 L486.7,299.6 L489.1,299.1 L491.4,298.6 L493.8,298 L496.1,297.3 L498.5,296.7 L500.8,296 L503.2,295.3 L505.5,294.6 L507.9,293.8 L510.3,293.1 L512.6,292.3 L515,291.4 L517.3,290.6 L519.7,289.8 L522,288.9 L524.4,288.1 L526.7,287.3 L529.1,286.6 L531.4,285.9 L533.8,285.3 L536.1,284.8 L538.5,284.3 L540.8,284 L543.2,283.8 L545.6,283.7 L547.9,283.8 L550.3,283.9 L552.6,284.2 L555,284.5 L557.3,285 L559.7,285.5 L562,286 L564.4,286.7 L566.7,287.3 L569.1,288.1 L571.4,288.8 L573.8,289.6 L576.1,290.3 L578.5,291.1 L580.9,291.9 L583.2,292.6 L585.6,293.3 L587.9,294 L590.3,294.7 L592.6,295.3 L595,296 L597.3,296.6 L599.7,297.2 L602,297.7 L604.4,298.3 L606.7,298.8 L609.1,299.3 L611.4,299.7 L613.8,300.2 L616.2,300.6 L618.5,300.9 L620.9,301.3 L623.2,301.6 L625.6,301.9 L627.9,302.2 L630.3,302.4 L632.6,302.7 L635,302.9 L637.3,303.1 L639.7,303.3 L642,303.4 L644.4,303.6 L646.7,303.7 L649.1,303.8 L651.5,303.9 L653.8,304.1 L656.2,304.2 L658.5,304.3 L660.9,304.4 L663.2,304.5 L665.6,304.5 L667.9,304.6 L670.3,304.7 L672.6,304.8 L675,304.8 L677.3,304.9 L679.7,305 L682,305 L684.4,305.1" fill="none" stroke="#333" stroke-width="0.8"/>
</g>
<line x1="476.3" y1="25.5" x2="476.3" y2="149" stroke="#111" stroke-width="1.7" stroke-dasharray="2.8,2.0"/>
<line x1="476.3" y1="167.1" x2="476.3" y2="308.3" stroke="#111" stroke-width="1.7" stroke-dasharray="2.8,2.0"/>
<line x1="508.3" y1="25.5" x2="508.3" y2="149" stroke="#111" stroke-width="1.7" stroke-dasharray="2.8,2.0"/>
<line x1="508.3" y1="167.1" x2="508.3" y2="308.3" stroke="#111" stroke-width="1.7" stroke-dasharray="2.8,2.0"/>
<line x1="543.1" y1="25.5" x2="543.1" y2="149" stroke="#111" stroke-width="1.7" stroke-dasharray="2.8,2.0"/>
<line x1="543.1" y1="167.1" x2="543.1" y2="308.3" stroke="#111" stroke-width="1.7" stroke-dasharray="2.8,2.0"/>
<circle cx="402" cy="104.7" r="2.1" fill="#0000ff"/>
<circle cx="411.4" cy="103.7" r="2.1" fill="#0000ff"/>
<circle cx="420.8" cy="101" r="2.1" fill="#0000ff"/>
<circle cx="430.2" cy="98.3" r="2.1" fill="#0000ff"/>
<circle cx="439.6" cy="93.2" r="2.1" fill="#0000ff"/>
<circle cx="449.1" cy="85.4" r="2.1" fill="#0000ff"/>
<circle cx="458.5" cy="77.4" r="2.1" fill="#0000ff"/>
<circle cx="467.9" cy="68.2" r="2.1" fill="#0000ff"/>
<circle cx="477.3" cy="57.9" r="2.1" fill="#0000ff"/>
<circle cx="486.7" cy="49.5" r="2.1" fill="#0000ff"/>
<circle cx="496.1" cy="45.1" r="2.1" fill="#0000ff"/>
<circle cx="505.5" cy="43.5" r="2.1" fill="#0000ff"/>
<circle cx="514.9" cy="44.9" r="2.1" fill="#0000ff"/>
<circle cx="524.3" cy="49.3" r="2.1" fill="#0000ff"/>
<circle cx="533.7" cy="55.6" r="2.1" fill="#0000ff"/>
<circle cx="543.1" cy="62.9" r="2.1" fill="#0000ff"/>
<circle cx="552.6" cy="71.2" r="2.1" fill="#0000ff"/>
<circle cx="562" cy="79.8" r="2.1" fill="#0000ff"/>
<circle cx="571.4" cy="87" r="2.1" fill="#0000ff"/>
<circle cx="580.8" cy="92.7" r="2.1" fill="#0000ff"/>
<circle cx="590.2" cy="96.8" r="2.1" fill="#0000ff"/>
<circle cx="599.6" cy="99.8" r="2.1" fill="#0000ff"/>
<circle cx="609" cy="101.5" r="2.1" fill="#0000ff"/>
<circle cx="618.4" cy="103.3" r="2.1" fill="#0000ff"/>
<circle cx="627.8" cy="104.7" r="2.1" fill="#0000ff"/>
<circle cx="637.2" cy="105.7" r="2.1" fill="#0000ff"/>
<circle cx="646.7" cy="106.5" r="2.1" fill="#0000ff"/>
<circle cx="656.1" cy="107" r="2.1" fill="#0000ff"/>
<circle cx="665.5" cy="107.3" r="2.1" fill="#0000ff"/>
<circle cx="674.9" cy="107.5" r="2.1" fill="#0000ff"/>
<circle cx="684.3" cy="107.7" r="2.1" fill="#0000ff"/>
<circle cx="402" cy="102.5" r="2.1" fill="#ff0000"/>
<circle cx="411.4" cy="101.1" r="2.1" fill="#ff0000"/>
<circle cx="420.8" cy="99.1" r="2.1" fill="#ff0000"/>
<circle cx="430.2" cy="96" r="2.1" fill="#ff0000"/>
<circle cx="439.6" cy="90.6" r="2.1" fill="#ff0000"/>
<circle cx="449.1" cy="82.8" r="2.1" fill="#ff0000"/>
<circle cx="458.5" cy="74" r="2.1" fill="#ff0000"/>
<circle cx="467.9" cy="64.6" r="2.1" fill="#ff0000"/>
<circle cx="477.3" cy="57.2" r="2.1" fill="#ff0000"/>
<circle cx="486.7" cy="51.6" r="2.1" fill="#ff0000"/>
<circle cx="496.1" cy="49.3" r="2.1" fill="#ff0000"/>
<circle cx="505.5" cy="51.3" r="2.1" fill="#ff0000"/>
<circle cx="514.9" cy="56.3" r="2.1" fill="#ff0000"/>
<circle cx="524.3" cy="63.5" r="2.1" fill="#ff0000"/>
<circle cx="533.7" cy="71.1" r="2.1" fill="#ff0000"/>
<circle cx="543.1" cy="78.8" r="2.1" fill="#ff0000"/>
<circle cx="552.6" cy="86.7" r="2.1" fill="#ff0000"/>
<circle cx="562" cy="92.2" r="2.1" fill="#ff0000"/>
<circle cx="571.4" cy="96.2" r="2.1" fill="#ff0000"/>
<circle cx="580.8" cy="99.7" r="2.1" fill="#ff0000"/>
<circle cx="590.2" cy="101.6" r="2.1" fill="#ff0000"/>
<circle cx="599.6" cy="103.2" r="2.1" fill="#ff0000"/>
<circle cx="609" cy="104" r="2.1" fill="#ff0000"/>
<circle cx="618.4" cy="104.8" r="2.1" fill="#ff0000"/>
<circle cx="627.8" cy="105.7" r="2.1" fill="#ff0000"/>
<circle cx="637.2" cy="106.5" r="2.1" fill="#ff0000"/>
<circle cx="646.7" cy="107.1" r="2.1" fill="#ff0000"/>
<circle cx="656.1" cy="107.3" r="2.1" fill="#ff0000"/>
<circle cx="665.5" cy="107.7" r="2.1" fill="#ff0000"/>
<circle cx="674.9" cy="107.8" r="2.1" fill="#ff0000"/>
<circle cx="684.3" cy="107.9" r="2.1" fill="#ff0000"/>
<circle cx="402" cy="134.5" r="2.1" fill="#0b6e0b"/>
<circle cx="411.4" cy="134.7" r="2.1" fill="#0b6e0b"/>
<circle cx="420.8" cy="134.3" r="2.1" fill="#0b6e0b"/>
<circle cx="430.2" cy="134.5" r="2.1" fill="#0b6e0b"/>
<circle cx="439.6" cy="134.7" r="2.1" fill="#0b6e0b"/>
<circle cx="449.1" cy="134.7" r="2.1" fill="#0b6e0b"/>
<circle cx="458.5" cy="135.1" r="2.1" fill="#0b6e0b"/>
<circle cx="467.9" cy="135.3" r="2.1" fill="#0b6e0b"/>
<circle cx="477.3" cy="133.6" r="2.1" fill="#0b6e0b"/>
<circle cx="486.7" cy="132" r="2.1" fill="#0b6e0b"/>
<circle cx="496.1" cy="130.8" r="2.1" fill="#0b6e0b"/>
<circle cx="505.5" cy="128.7" r="2.1" fill="#0b6e0b"/>
<circle cx="514.9" cy="126.6" r="2.1" fill="#0b6e0b"/>
<circle cx="524.3" cy="125" r="2.1" fill="#0b6e0b"/>
<circle cx="533.7" cy="124.3" r="2.1" fill="#0b6e0b"/>
<circle cx="543.1" cy="124" r="2.1" fill="#0b6e0b"/>
<circle cx="552.6" cy="124.3" r="2.1" fill="#0b6e0b"/>
<circle cx="562" cy="126.1" r="2.1" fill="#0b6e0b"/>
<circle cx="571.4" cy="127.9" r="2.1" fill="#0b6e0b"/>
<circle cx="580.8" cy="129.2" r="2.1" fill="#0b6e0b"/>
<circle cx="590.2" cy="130.4" r="2.1" fill="#0b6e0b"/>
<circle cx="599.6" cy="131.2" r="2.1" fill="#0b6e0b"/>
<circle cx="609" cy="131.8" r="2.1" fill="#0b6e0b"/>
<circle cx="618.4" cy="132.3" r="2.1" fill="#0b6e0b"/>
<circle cx="627.8" cy="132.6" r="2.1" fill="#0b6e0b"/>
<circle cx="637.2" cy="132.7" r="2.1" fill="#0b6e0b"/>
<circle cx="646.7" cy="132.9" r="2.1" fill="#0b6e0b"/>
<circle cx="656.1" cy="133" r="2.1" fill="#0b6e0b"/>
<circle cx="665.5" cy="133" r="2.1" fill="#0b6e0b"/>
<circle cx="674.9" cy="133" r="2.1" fill="#0b6e0b"/>
<circle cx="684.3" cy="133.1" r="2.1" fill="#0b6e0b"/>
<circle cx="402" cy="258" r="2.1" fill="#0000ff"/>
<circle cx="411.4" cy="257.5" r="2.1" fill="#0000ff"/>
<circle cx="420.8" cy="256.1" r="2.1" fill="#0000ff"/>
<circle cx="430.2" cy="254.7" r="2.1" fill="#0000ff"/>
<circle cx="439.6" cy="251.9" r="2.1" fill="#0000ff"/>
<circle cx="449.1" cy="247.6" r="2.1" fill="#0000ff"/>
<circle cx="458.5" cy="242.3" r="2.1" fill="#0000ff"/>
<circle cx="467.9" cy="236.5" r="2.1" fill="#0000ff"/>
<circle cx="477.3" cy="228.4" r="2.1" fill="#0000ff"/>
<circle cx="486.7" cy="220.5" r="2.1" fill="#0000ff"/>
<circle cx="496.1" cy="212.7" r="2.1" fill="#0000ff"/>
<circle cx="505.5" cy="203.7" r="2.1" fill="#0000ff"/>
<circle cx="514.9" cy="194.5" r="2.1" fill="#0000ff"/>
<circle cx="524.3" cy="185.7" r="2.1" fill="#0000ff"/>
<circle cx="533.7" cy="180.7" r="2.1" fill="#0000ff"/>
<circle cx="543.1" cy="179.7" r="2.1" fill="#0000ff"/>
<circle cx="552.6" cy="183.1" r="2.1" fill="#0000ff"/>
<circle cx="562" cy="189.8" r="2.1" fill="#0000ff"/>
<circle cx="571.4" cy="198.2" r="2.1" fill="#0000ff"/>
<circle cx="580.8" cy="206.9" r="2.1" fill="#0000ff"/>
<circle cx="590.2" cy="214.3" r="2.1" fill="#0000ff"/>
<circle cx="599.6" cy="221.1" r="2.1" fill="#0000ff"/>
<circle cx="609" cy="226.4" r="2.1" fill="#0000ff"/>
<circle cx="618.4" cy="231" r="2.1" fill="#0000ff"/>
<circle cx="627.8" cy="234.4" r="2.1" fill="#0000ff"/>
<circle cx="637.2" cy="237" r="2.1" fill="#0000ff"/>
<circle cx="646.7" cy="239.1" r="2.1" fill="#0000ff"/>
<circle cx="656.1" cy="240.6" r="2.1" fill="#0000ff"/>
<circle cx="665.5" cy="241.6" r="2.1" fill="#0000ff"/>
<circle cx="674.9" cy="242.3" r="2.1" fill="#0000ff"/>
<circle cx="684.3" cy="242.7" r="2.1" fill="#0000ff"/>
<circle cx="402" cy="261.1" r="2.1" fill="#ff0000"/>
<circle cx="411.4" cy="261.1" r="2.1" fill="#ff0000"/>
<circle cx="420.8" cy="259.7" r="2.1" fill="#ff0000"/>
<circle cx="430.2" cy="258" r="2.1" fill="#ff0000"/>
<circle cx="439.6" cy="255.4" r="2.1" fill="#ff0000"/>
<circle cx="449.1" cy="251.4" r="2.1" fill="#ff0000"/>
<circle cx="458.5" cy="247.3" r="2.1" fill="#ff0000"/>
<circle cx="467.9" cy="241.9" r="2.1" fill="#ff0000"/>
<circle cx="477.3" cy="237.6" r="2.1" fill="#ff0000"/>
<circle cx="486.7" cy="232.6" r="2.1" fill="#ff0000"/>
<circle cx="496.1" cy="228.8" r="2.1" fill="#ff0000"/>
<circle cx="505.5" cy="226.2" r="2.1" fill="#ff0000"/>
<circle cx="514.9" cy="225.2" r="2.1" fill="#ff0000"/>
<circle cx="524.3" cy="225.9" r="2.1" fill="#ff0000"/>
<circle cx="533.7" cy="226.9" r="2.1" fill="#ff0000"/>
<circle cx="543.1" cy="228.4" r="2.1" fill="#ff0000"/>
<circle cx="552.6" cy="231.6" r="2.1" fill="#ff0000"/>
<circle cx="562" cy="233.8" r="2.1" fill="#ff0000"/>
<circle cx="571.4" cy="235.3" r="2.1" fill="#ff0000"/>
<circle cx="580.8" cy="236.3" r="2.1" fill="#ff0000"/>
<circle cx="590.2" cy="237.6" r="2.1" fill="#ff0000"/>
<circle cx="599.6" cy="239.1" r="2.1" fill="#ff0000"/>
<circle cx="609" cy="239.7" r="2.1" fill="#ff0000"/>
<circle cx="618.4" cy="240.2" r="2.1" fill="#ff0000"/>
<circle cx="627.8" cy="240.8" r="2.1" fill="#ff0000"/>
<circle cx="637.2" cy="241.6" r="2.1" fill="#ff0000"/>
<circle cx="646.7" cy="241.6" r="2.1" fill="#ff0000"/>
<circle cx="656.1" cy="242.3" r="2.1" fill="#ff0000"/>
<circle cx="665.5" cy="242.3" r="2.1" fill="#ff0000"/>
<circle cx="674.9" cy="242.3" r="2.1" fill="#ff0000"/>
<circle cx="684.3" cy="242.3" r="2.1" fill="#ff0000"/>
<circle cx="402" cy="303.6" r="2.1" fill="#0b6e0b"/>
<circle cx="411.4" cy="303.4" r="2.1" fill="#0b6e0b"/>
<circle cx="420.8" cy="303.4" r="2.1" fill="#0b6e0b"/>
<circle cx="430.2" cy="303.4" r="2.1" fill="#0b6e0b"/>
<circle cx="439.6" cy="303.4" r="2.1" fill="#0b6e0b"/>
<circle cx="449.1" cy="303.2" r="2.1" fill="#0b6e0b"/>
<circle cx="458.5" cy="302.7" r="2.1" fill="#0b6e0b"/>
<circle cx="467.9" cy="302.6" r="2.1" fill="#0b6e0b"/>
<circle cx="477.3" cy="300.9" r="2.1" fill="#0b6e0b"/>
<circle cx="486.7" cy="299.7" r="2.1" fill="#0b6e0b"/>
<circle cx="496.1" cy="297.9" r="2.1" fill="#0b6e0b"/>
<circle cx="505.5" cy="295.2" r="2.1" fill="#0b6e0b"/>
<circle cx="514.9" cy="291.6" r="2.1" fill="#0b6e0b"/>
<circle cx="524.3" cy="287.6" r="2.1" fill="#0b6e0b"/>
<circle cx="533.7" cy="285" r="2.1" fill="#0b6e0b"/>
<circle cx="543.1" cy="283.9" r="2.1" fill="#0b6e0b"/>
<circle cx="552.6" cy="283.9" r="2.1" fill="#0b6e0b"/>
<circle cx="562" cy="285.9" r="2.1" fill="#0b6e0b"/>
<circle cx="571.4" cy="288.9" r="2.1" fill="#0b6e0b"/>
<circle cx="580.8" cy="292.2" r="2.1" fill="#0b6e0b"/>
<circle cx="590.2" cy="294.8" r="2.1" fill="#0b6e0b"/>
<circle cx="599.6" cy="297.1" r="2.1" fill="#0b6e0b"/>
<circle cx="609" cy="299.2" r="2.1" fill="#0b6e0b"/>
<circle cx="618.4" cy="300.9" r="2.1" fill="#0b6e0b"/>
<circle cx="627.8" cy="302.1" r="2.1" fill="#0b6e0b"/>
<circle cx="637.2" cy="302.9" r="2.1" fill="#0b6e0b"/>
<circle cx="646.7" cy="303.8" r="2.1" fill="#0b6e0b"/>
<circle cx="656.1" cy="304.2" r="2.1" fill="#0b6e0b"/>
<circle cx="665.5" cy="304.6" r="2.1" fill="#0b6e0b"/>
<circle cx="674.9" cy="304.9" r="2.1" fill="#0b6e0b"/>
<circle cx="684.3" cy="305.1" r="2.1" fill="#0b6e0b"/>
<rect x="402" y="25.5" width="282.4" height="123.5" fill="none" stroke="#2a2a2a" stroke-width="1.1"/>
<line x1="402" y1="113.6" x2="684.4" y2="113.6" stroke="#1c1c50" stroke-width="1.6"/>
<rect x="402" y="167.1" width="282.4" height="141.2" fill="none" stroke="#2a2a2a" stroke-width="1.1"/>
<line x1="402" y1="267.6" x2="684.4" y2="267.6" stroke="#7a1428" stroke-width="1.6"/>
<line x1="402" y1="32.1" x2="404.6" y2="32.1" stroke="#2a2a2a" stroke-width="1"/>
<line x1="684.4" y1="32.1" x2="681.8" y2="32.1" stroke="#2a2a2a" stroke-width="1"/>
<text x="395.8" y="36.2" font-size="12" text-anchor="end" font-weight="normal" font-style="normal" fill="#1a1a1a" stroke="#1a1a1a" >1.2</text>
<line x1="402" y1="52.4" x2="404.6" y2="52.4" stroke="#2a2a2a" stroke-width="1"/>
<line x1="684.4" y1="52.4" x2="681.8" y2="52.4" stroke="#2a2a2a" stroke-width="1"/>
<text x="395.8" y="56.5" font-size="12" text-anchor="end" font-weight="normal" font-style="normal" fill="#1a1a1a" stroke="#1a1a1a" >0.9</text>
<line x1="402" y1="72.7" x2="404.6" y2="72.7" stroke="#2a2a2a" stroke-width="1"/>
<line x1="684.4" y1="72.7" x2="681.8" y2="72.7" stroke="#2a2a2a" stroke-width="1"/>
<text x="395.8" y="76.8" font-size="12" text-anchor="end" font-weight="normal" font-style="normal" fill="#1a1a1a" stroke="#1a1a1a" >0.6</text>
<line x1="402" y1="93" x2="404.6" y2="93" stroke="#2a2a2a" stroke-width="1"/>
<line x1="684.4" y1="93" x2="681.8" y2="93" stroke="#2a2a2a" stroke-width="1"/>
<text x="395.8" y="97.1" font-size="12" text-anchor="end" font-weight="normal" font-style="normal" fill="#1a1a1a" stroke="#1a1a1a" >0.3</text>
<line x1="402" y1="117.6" x2="404.6" y2="117.6" stroke="#2a2a2a" stroke-width="1"/>
<line x1="684.4" y1="117.6" x2="681.8" y2="117.6" stroke="#2a2a2a" stroke-width="1"/>
<text x="395.8" y="121.7" font-size="12" text-anchor="end" font-weight="normal" font-style="normal" fill="#1a1a1a" stroke="#1a1a1a" >0.4</text>
<line x1="402" y1="133.2" x2="404.6" y2="133.2" stroke="#2a2a2a" stroke-width="1"/>
<line x1="684.4" y1="133.2" x2="681.8" y2="133.2" stroke="#2a2a2a" stroke-width="1"/>
<text x="395.8" y="137.3" font-size="12" text-anchor="end" font-weight="normal" font-style="normal" fill="#1a1a1a" stroke="#1a1a1a" >0.0</text>
<line x1="402" y1="148.8" x2="404.6" y2="148.8" stroke="#2a2a2a" stroke-width="1"/>
<line x1="684.4" y1="148.8" x2="681.8" y2="148.8" stroke="#2a2a2a" stroke-width="1"/>
<text x="395.8" y="152.9" font-size="12" text-anchor="end" font-weight="normal" font-style="normal" fill="#1a1a1a" stroke="#1a1a1a" >−0.4</text>
<line x1="402" y1="181.5" x2="404.6" y2="181.5" stroke="#2a2a2a" stroke-width="1"/>
<line x1="684.4" y1="181.5" x2="681.8" y2="181.5" stroke="#2a2a2a" stroke-width="1"/>
<text x="395.8" y="185.6" font-size="12" text-anchor="end" font-weight="normal" font-style="normal" fill="#1a1a1a" stroke="#1a1a1a" >1.2</text>
<line x1="402" y1="203" x2="404.6" y2="203" stroke="#2a2a2a" stroke-width="1"/>
<line x1="684.4" y1="203" x2="681.8" y2="203" stroke="#2a2a2a" stroke-width="1"/>
<text x="395.8" y="207.1" font-size="12" text-anchor="end" font-weight="normal" font-style="normal" fill="#1a1a1a" stroke="#1a1a1a" >0.9</text>
<line x1="402" y1="224.4" x2="404.6" y2="224.4" stroke="#2a2a2a" stroke-width="1"/>
<line x1="684.4" y1="224.4" x2="681.8" y2="224.4" stroke="#2a2a2a" stroke-width="1"/>
<text x="395.8" y="228.5" font-size="12" text-anchor="end" font-weight="normal" font-style="normal" fill="#1a1a1a" stroke="#1a1a1a" >0.6</text>
<line x1="402" y1="245.9" x2="404.6" y2="245.9" stroke="#2a2a2a" stroke-width="1"/>
<line x1="684.4" y1="245.9" x2="681.8" y2="245.9" stroke="#2a2a2a" stroke-width="1"/>
<text x="395.8" y="250" font-size="12" text-anchor="end" font-weight="normal" font-style="normal" fill="#1a1a1a" stroke="#1a1a1a" >0.3</text>
<line x1="402" y1="280.2" x2="404.6" y2="280.2" stroke="#2a2a2a" stroke-width="1"/>
<line x1="684.4" y1="280.2" x2="681.8" y2="280.2" stroke="#2a2a2a" stroke-width="1"/>
<text x="395.8" y="284.9" font-size="12" text-anchor="end" font-weight="normal" font-style="normal" fill="#1a1a1a" stroke="#1a1a1a" >0.8</text>
<line x1="402" y1="292.5" x2="404.6" y2="292.5" stroke="#2a2a2a" stroke-width="1"/>
<line x1="684.4" y1="292.5" x2="681.8" y2="292.5" stroke="#2a2a2a" stroke-width="1"/>
<text x="395.8" y="297.2" font-size="12" text-anchor="end" font-weight="normal" font-style="normal" fill="#1a1a1a" stroke="#1a1a1a" >0.4</text>
<line x1="402" y1="304.9" x2="404.6" y2="304.9" stroke="#2a2a2a" stroke-width="1"/>
<line x1="684.4" y1="304.9" x2="681.8" y2="304.9" stroke="#2a2a2a" stroke-width="1"/>
<text x="395.8" y="309.6" font-size="12" text-anchor="end" font-weight="normal" font-style="normal" fill="#1a1a1a" stroke="#1a1a1a" >0.0</text>
<line x1="402" y1="149" x2="402" y2="146" stroke="#2a2a2a" stroke-width="0.9"/>
<line x1="411.4" y1="149" x2="411.4" y2="147" stroke="#2a2a2a" stroke-width="0.9"/>
<line x1="420.8" y1="149" x2="420.8" y2="147" stroke="#2a2a2a" stroke-width="0.9"/>
<line x1="430.2" y1="149" x2="430.2" y2="147" stroke="#2a2a2a" stroke-width="0.9"/>
<line x1="439.6" y1="149" x2="439.6" y2="147" stroke="#2a2a2a" stroke-width="0.9"/>
<line x1="449.1" y1="149" x2="449.1" y2="146" stroke="#2a2a2a" stroke-width="0.9"/>
<line x1="458.5" y1="149" x2="458.5" y2="147" stroke="#2a2a2a" stroke-width="0.9"/>
<line x1="467.9" y1="149" x2="467.9" y2="147" stroke="#2a2a2a" stroke-width="0.9"/>
<line x1="477.3" y1="149" x2="477.3" y2="147" stroke="#2a2a2a" stroke-width="0.9"/>
<line x1="486.7" y1="149" x2="486.7" y2="147" stroke="#2a2a2a" stroke-width="0.9"/>
<line x1="496.1" y1="149" x2="496.1" y2="146" stroke="#2a2a2a" stroke-width="0.9"/>
<line x1="505.5" y1="149" x2="505.5" y2="147" stroke="#2a2a2a" stroke-width="0.9"/>
<line x1="514.9" y1="149" x2="514.9" y2="147" stroke="#2a2a2a" stroke-width="0.9"/>
<line x1="524.3" y1="149" x2="524.3" y2="147" stroke="#2a2a2a" stroke-width="0.9"/>
<line x1="533.7" y1="149" x2="533.7" y2="147" stroke="#2a2a2a" stroke-width="0.9"/>
<line x1="543.1" y1="149" x2="543.1" y2="146" stroke="#2a2a2a" stroke-width="0.9"/>
<line x1="552.6" y1="149" x2="552.6" y2="147" stroke="#2a2a2a" stroke-width="0.9"/>
<line x1="562" y1="149" x2="562" y2="147" stroke="#2a2a2a" stroke-width="0.9"/>
<line x1="571.4" y1="149" x2="571.4" y2="147" stroke="#2a2a2a" stroke-width="0.9"/>
<line x1="580.8" y1="149" x2="580.8" y2="147" stroke="#2a2a2a" stroke-width="0.9"/>
<line x1="590.2" y1="149" x2="590.2" y2="146" stroke="#2a2a2a" stroke-width="0.9"/>
<line x1="599.6" y1="149" x2="599.6" y2="147" stroke="#2a2a2a" stroke-width="0.9"/>
<line x1="609" y1="149" x2="609" y2="147" stroke="#2a2a2a" stroke-width="0.9"/>
<line x1="618.4" y1="149" x2="618.4" y2="147" stroke="#2a2a2a" stroke-width="0.9"/>
<line x1="627.8" y1="149" x2="627.8" y2="147" stroke="#2a2a2a" stroke-width="0.9"/>
<line x1="637.2" y1="149" x2="637.2" y2="146" stroke="#2a2a2a" stroke-width="0.9"/>
<line x1="646.7" y1="149" x2="646.7" y2="147" stroke="#2a2a2a" stroke-width="0.9"/>
<line x1="656.1" y1="149" x2="656.1" y2="147" stroke="#2a2a2a" stroke-width="0.9"/>
<line x1="665.5" y1="149" x2="665.5" y2="147" stroke="#2a2a2a" stroke-width="0.9"/>
<line x1="674.9" y1="149" x2="674.9" y2="147" stroke="#2a2a2a" stroke-width="0.9"/>
<line x1="402" y1="308.3" x2="402" y2="305.3" stroke="#2a2a2a" stroke-width="0.9"/>
<line x1="411.4" y1="308.3" x2="411.4" y2="306.3" stroke="#2a2a2a" stroke-width="0.9"/>
<line x1="420.8" y1="308.3" x2="420.8" y2="306.3" stroke="#2a2a2a" stroke-width="0.9"/>
<line x1="430.2" y1="308.3" x2="430.2" y2="306.3" stroke="#2a2a2a" stroke-width="0.9"/>
<line x1="439.6" y1="308.3" x2="439.6" y2="306.3" stroke="#2a2a2a" stroke-width="0.9"/>
<line x1="449.1" y1="308.3" x2="449.1" y2="305.3" stroke="#2a2a2a" stroke-width="0.9"/>
<line x1="458.5" y1="308.3" x2="458.5" y2="306.3" stroke="#2a2a2a" stroke-width="0.9"/>
<line x1="467.9" y1="308.3" x2="467.9" y2="306.3" stroke="#2a2a2a" stroke-width="0.9"/>
<line x1="477.3" y1="308.3" x2="477.3" y2="306.3" stroke="#2a2a2a" stroke-width="0.9"/>
<line x1="486.7" y1="308.3" x2="486.7" y2="306.3" stroke="#2a2a2a" stroke-width="0.9"/>
<line x1="496.1" y1="308.3" x2="496.1" y2="305.3" stroke="#2a2a2a" stroke-width="0.9"/>
<line x1="505.5" y1="308.3" x2="505.5" y2="306.3" stroke="#2a2a2a" stroke-width="0.9"/>
<line x1="514.9" y1="308.3" x2="514.9" y2="306.3" stroke="#2a2a2a" stroke-width="0.9"/>
<line x1="524.3" y1="308.3" x2="524.3" y2="306.3" stroke="#2a2a2a" stroke-width="0.9"/>
<line x1="533.7" y1="308.3" x2="533.7" y2="306.3" stroke="#2a2a2a" stroke-width="0.9"/>
<line x1="543.1" y1="308.3" x2="543.1" y2="305.3" stroke="#2a2a2a" stroke-width="0.9"/>
<line x1="552.6" y1="308.3" x2="552.6" y2="306.3" stroke="#2a2a2a" stroke-width="0.9"/>
<line x1="562" y1="308.3" x2="562" y2="306.3" stroke="#2a2a2a" stroke-width="0.9"/>
<line x1="571.4" y1="308.3" x2="571.4" y2="306.3" stroke="#2a2a2a" stroke-width="0.9"/>
<line x1="580.8" y1="308.3" x2="580.8" y2="306.3" stroke="#2a2a2a" stroke-width="0.9"/>
<line x1="590.2" y1="308.3" x2="590.2" y2="305.3" stroke="#2a2a2a" stroke-width="0.9"/>
<line x1="599.6" y1="308.3" x2="599.6" y2="306.3" stroke="#2a2a2a" stroke-width="0.9"/>
<line x1="609" y1="308.3" x2="609" y2="306.3" stroke="#2a2a2a" stroke-width="0.9"/>
<line x1="618.4" y1="308.3" x2="618.4" y2="306.3" stroke="#2a2a2a" stroke-width="0.9"/>
<line x1="627.8" y1="308.3" x2="627.8" y2="306.3" stroke="#2a2a2a" stroke-width="0.9"/>
<line x1="637.2" y1="308.3" x2="637.2" y2="305.3" stroke="#2a2a2a" stroke-width="0.9"/>
<line x1="646.7" y1="308.3" x2="646.7" y2="306.3" stroke="#2a2a2a" stroke-width="0.9"/>
<line x1="656.1" y1="308.3" x2="656.1" y2="306.3" stroke="#2a2a2a" stroke-width="0.9"/>
<line x1="665.5" y1="308.3" x2="665.5" y2="306.3" stroke="#2a2a2a" stroke-width="0.9"/>
<line x1="674.9" y1="308.3" x2="674.9" y2="306.3" stroke="#2a2a2a" stroke-width="0.9"/>
<text x="449.1" y="323.3" font-size="12" text-anchor="middle" font-weight="normal" font-style="normal" fill="#1a1a1a" stroke="#1a1a1a" >930</text>
<text x="543.1" y="323.3" font-size="12" text-anchor="middle" font-weight="normal" font-style="normal" fill="#1a1a1a" stroke="#1a1a1a" >931</text>
<text x="637.2" y="323.3" font-size="12" text-anchor="middle" font-weight="normal" font-style="normal" fill="#1a1a1a" stroke="#1a1a1a" >932</text>
<text x="542.6" y="340.8" font-size="12" text-anchor="middle" fill="#1a1a1a" stroke="#1a1a1a"><tspan font-style="italic">E</tspan> (eV)</text>
<text x="361" y="87.7" font-size="12.5" text-anchor="middle" fill="#1a1a1a" stroke="#1a1a1a" transform="rotate(-90 361 87.7)">XAS (a.u.)</text>
<text x="361" y="238" font-size="12.5" text-anchor="middle" fill="#1a1a1a" stroke="#1a1a1a" transform="rotate(-90 361 238)">XAS (a.u.)</text>
<text x="476.3" y="19.4" font-size="12.5" text-anchor="middle" font-weight="normal" font-style="normal" fill="#1a1a1a" stroke="#1a1a1a" >I</text>
<text x="508.3" y="19.4" font-size="12.5" text-anchor="middle" font-weight="normal" font-style="normal" fill="#1a1a1a" stroke="#1a1a1a" >II</text>
<text x="543.1" y="19.4" font-size="12.5" text-anchor="middle" font-weight="normal" font-style="normal" fill="#1a1a1a" stroke="#1a1a1a" >III</text>
<text x="378.5" y="19.4" font-size="12.5" text-anchor="start" font-weight="normal" font-style="normal" fill="#1a1a1a" stroke="#1a1a1a" >Y/L SL</text>
<text x="350.5" y="13.6" font-size="17.5" text-anchor="start" font-weight="bold" font-style="normal" fill="#000" stroke="#000" >b</text>
<circle cx="415" cy="39.5" r="3.1" fill="#1111ee"/>
<text x="420.4" y="42" font-size="11.5" fill="#1a1a1a" stroke="#1a1a1a" text-anchor="start"><tspan font-style="italic">μ</tspan><tspan font-size="9" dy="2.2">ab</tspan></text>
<circle cx="415" cy="61.4" r="3.1" fill="#ee1111"/>
<text x="420.4" y="63.9" font-size="11.5" fill="#1a1a1a" stroke="#1a1a1a" text-anchor="start"><tspan font-style="italic">μ</tspan><tspan font-size="9" dy="2.2">c</tspan></text>
<circle cx="415" cy="184.3" r="3.1" fill="#1111ee"/>
<text x="420.4" y="186.8" font-size="11.5" fill="#1a1a1a" stroke="#1a1a1a" text-anchor="start"><tspan font-style="italic">μ</tspan><tspan font-size="9" dy="2.2">ab</tspan></text>
<circle cx="415" cy="206.7" r="3.1" fill="#ee1111"/>
<text x="420.4" y="209.2" font-size="11.5" fill="#1a1a1a" stroke="#1a1a1a" text-anchor="start"><tspan font-style="italic">μ</tspan><tspan font-size="9" dy="2.2">c</tspan></text>
<circle cx="415" cy="124.9" r="3.1" fill="#0b6e0b"/>
<text x="420.6" y="128.1" font-size="11.5" fill="#1a1a1a" stroke="#1a1a1a"><tspan font-style="italic">μ</tspan><tspan font-size="9" dy="2.2">ab</tspan><tspan dy="-2.2"> − </tspan><tspan font-style="italic">μ</tspan><tspan font-size="9" dy="2.2">c</tspan></text>
<text x="669.8" y="41.3" font-size="12.5" text-anchor="end" font-weight="normal" font-style="normal" fill="#1a1a1a" stroke="#1a1a1a" >TEY</text>
<text x="666.2" y="186.3" font-size="12.5" text-anchor="end" font-weight="normal" font-style="normal" fill="#1a1a1a" stroke="#1a1a1a" >FY</text>
<g clip-path="url(#ctc)">
<path d="M51.6,468.5 L54,468.4 L56.3,468.3 L58.7,468.2 L61,468 L63.4,467.9 L65.7,467.7 L68.1,467.5 L70.4,467.3 L72.8,467.1 L75.1,466.9 L77.5,466.6 L79.8,466.4 L82.2,466.1 L84.5,465.7 L86.9,465.4 L89.3,465 L91.6,464.6 L94,464.1 L96.3,463.6 L98.7,463 L101,462.3 L103.4,461.6 L105.7,460.8 L108.1,459.9 L110.4,459 L112.8,457.9 L115.1,456.7 L117.5,455.4 L119.8,454 L122.2,452.5 L124.6,450.8 L126.9,449.1 L129.3,447.2 L131.6,445.2 L134,443.1 L136.3,440.9 L138.7,438.6 L141,436.3 L143.4,434.1 L145.7,432 L148.1,430 L150.4,428.3 L152.8,426.9 L155.1,425.9 L157.5,425.4 L159.9,425.3 L162.2,425.6 L164.6,426.2 L166.9,427 L169.3,428.1 L171.6,429.4 L174,430.9 L176.3,432.5 L178.7,434.2 L181,435.9 L183.4,437.7 L185.7,439.5 L188.1,441.2 L190.4,443 L192.8,444.6 L195.2,446.2 L197.5,447.8 L199.9,449.3 L202.2,450.6 L204.6,452 L206.9,453.2 L209.3,454.4 L211.6,455.5 L214,456.5 L216.3,457.4 L218.7,458.3 L221,459.1 L223.4,459.9 L225.7,460.6 L228.1,461.2 L230.5,461.8 L232.8,462.4 L235.2,462.9 L237.5,463.4 L239.9,463.8 L242.2,464.2 L244.6,464.6 L246.9,464.9 L249.3,465.2 L251.6,465.5 L254,465.8 L256.3,466.1 L258.7,466.3 L261,466.5 L263.4,466.7 L265.8,466.9 L268.1,467.1 L270.5,467.3 L272.8,467.4 L275.2,467.6 L277.5,467.7 L279.9,467.8 L282.2,468 L284.6,468.1 L286.9,468.2 L289.3,468.3 L291.6,468.4 L294,468.5 L296.3,468.6 L298.7,468.7 L301.1,468.8 L303.4,468.8 L305.8,468.9 L308.1,469 L310.5,469.1 L312.8,469.1 L315.2,469.2 L317.5,469.2 L319.9,469.3 L322.2,469.4 L324.6,469.4 L326.9,469.5 L329.3,469.5 L331.6,469.6 L334,469.6 L334,469.4 L331.6,469.4 L329.3,469.3 L326.9,469.3 L324.6,469.2 L322.2,469.1 L319.9,469.1 L317.5,469 L315.2,469 L312.8,468.9 L310.5,468.8 L308.1,468.7 L305.8,468.6 L303.4,468.6 L301.1,468.5 L298.7,468.4 L296.3,468.3 L294,468.2 L291.6,468.1 L289.3,468 L286.9,467.9 L284.6,467.7 L282.2,467.6 L279.9,467.5 L277.5,467.3 L275.2,467.2 L272.8,467 L270.5,466.8 L268.1,466.6 L265.8,466.4 L263.4,466.2 L261,466 L258.7,465.8 L256.3,465.5 L254,465.2 L251.6,464.9 L249.3,464.6 L246.9,464.2 L244.6,463.9 L242.2,463.5 L239.9,463 L237.5,462.5 L235.2,462 L232.8,461.4 L230.5,460.8 L228.1,460.2 L225.7,459.5 L223.4,458.7 L221,457.8 L218.7,456.9 L216.3,456 L214,454.9 L211.6,453.8 L209.3,452.6 L206.9,451.3 L204.6,449.9 L202.2,448.5 L199.9,446.9 L197.5,445.3 L195.2,443.6 L192.8,441.8 L190.4,440 L188.1,438.1 L185.7,436.2 L183.4,434.2 L181,432.2 L178.7,430.3 L176.3,428.4 L174,426.7 L171.6,425 L169.3,423.6 L166.9,422.4 L164.6,421.5 L162.2,420.8 L159.9,420.5 L157.5,420.6 L155.1,421.2 L152.8,422.3 L150.4,423.8 L148.1,425.7 L145.7,427.9 L143.4,430.2 L141,432.7 L138.7,435.2 L136.3,437.7 L134,440.1 L131.6,442.4 L129.3,444.6 L126.9,446.7 L124.6,448.7 L122.2,450.5 L119.8,452.2 L117.5,453.8 L115.1,455.2 L112.8,456.5 L110.4,457.7 L108.1,458.7 L105.7,459.7 L103.4,460.6 L101,461.4 L98.7,462.1 L96.3,462.7 L94,463.3 L91.6,463.9 L89.3,464.3 L86.9,464.8 L84.5,465.2 L82.2,465.5 L79.8,465.8 L77.5,466.1 L75.1,466.4 L72.8,466.7 L70.4,466.9 L68.1,467.1 L65.7,467.3 L63.4,467.5 L61,467.7 L58.7,467.8 L56.3,468 L54,468.1 L51.6,468.2 Z" fill="#e9967a"/>
<path d="M51.6,468.5 L54,468.4 L56.3,468.3 L58.7,468.2 L61,468 L63.4,467.9 L65.7,467.7 L68.1,467.5 L70.4,467.3 L72.8,467.1 L75.1,466.9 L77.5,466.6 L79.8,466.4 L82.2,466.1 L84.5,465.7 L86.9,465.4 L89.3,465 L91.6,464.6 L94,464.1 L96.3,463.6 L98.7,463 L101,462.3 L103.4,461.6 L105.7,460.8 L108.1,459.9 L110.4,459 L112.8,457.9 L115.1,456.7 L117.5,455.4 L119.8,454 L122.2,452.5 L124.6,450.8 L126.9,449.1 L129.3,447.2 L131.6,445.2 L134,443.1 L136.3,440.9 L138.7,438.6 L141,436.3 L143.4,434.1 L145.7,432 L148.1,430 L150.4,428.3 L152.8,426.9 L155.1,425.9 L157.5,425.4 L159.9,425.3 L162.2,425.6 L164.6,426.2 L166.9,427 L169.3,428.1 L171.6,429.4 L174,430.9 L176.3,432.5 L178.7,434.2 L181,435.9 L183.4,437.7 L185.7,439.5 L188.1,441.2 L190.4,443 L192.8,444.6 L195.2,446.2 L197.5,447.8 L199.9,449.3 L202.2,450.6 L204.6,452 L206.9,453.2 L209.3,454.4 L211.6,455.5 L214,456.5 L216.3,457.4 L218.7,458.3 L221,459.1 L223.4,459.9 L225.7,460.6 L228.1,461.2 L230.5,461.8 L232.8,462.4 L235.2,462.9 L237.5,463.4 L239.9,463.8 L242.2,464.2 L244.6,464.6 L246.9,464.9 L249.3,465.2 L251.6,465.5 L254,465.8 L256.3,466.1 L258.7,466.3 L261,466.5 L263.4,466.7 L265.8,466.9 L268.1,467.1 L270.5,467.3 L272.8,467.4 L275.2,467.6 L277.5,467.7 L279.9,467.8 L282.2,468 L284.6,468.1 L286.9,468.2 L289.3,468.3 L291.6,468.4 L294,468.5 L296.3,468.6 L298.7,468.7 L301.1,468.8 L303.4,468.8 L305.8,468.9 L308.1,469 L310.5,469.1 L312.8,469.1 L315.2,469.2 L317.5,469.2 L319.9,469.3 L322.2,469.4 L324.6,469.4 L326.9,469.5 L329.3,469.5 L331.6,469.6 L334,469.6" fill="none" stroke="#2020ff" stroke-width="0.85"/>
<path d="M51.6,468.2 L54,468.1 L56.3,468 L58.7,467.8 L61,467.7 L63.4,467.5 L65.7,467.3 L68.1,467.1 L70.4,466.9 L72.8,466.7 L75.1,466.4 L77.5,466.1 L79.8,465.8 L82.2,465.5 L84.5,465.2 L86.9,464.8 L89.3,464.3 L91.6,463.9 L94,463.3 L96.3,462.7 L98.7,462.1 L101,461.4 L103.4,460.6 L105.7,459.7 L108.1,458.7 L110.4,457.7 L112.8,456.5 L115.1,455.2 L117.5,453.8 L119.8,452.2 L122.2,450.5 L124.6,448.7 L126.9,446.7 L129.3,444.6 L131.6,442.4 L134,440.1 L136.3,437.7 L138.7,435.2 L141,432.7 L143.4,430.2 L145.7,427.9 L148.1,425.7 L150.4,423.8 L152.8,422.3 L155.1,421.2 L157.5,420.6 L159.9,420.5 L162.2,420.8 L164.6,421.5 L166.9,422.4 L169.3,423.6 L171.6,425 L174,426.7 L176.3,428.4 L178.7,430.3 L181,432.2 L183.4,434.2 L185.7,436.2 L188.1,438.1 L190.4,440 L192.8,441.8 L195.2,443.6 L197.5,445.3 L199.9,446.9 L202.2,448.5 L204.6,449.9 L206.9,451.3 L209.3,452.6 L211.6,453.8 L214,454.9 L216.3,456 L218.7,456.9 L221,457.8 L223.4,458.7 L225.7,459.5 L228.1,460.2 L230.5,460.8 L232.8,461.4 L235.2,462 L237.5,462.5 L239.9,463 L242.2,463.5 L244.6,463.9 L246.9,464.2 L249.3,464.6 L251.6,464.9 L254,465.2 L256.3,465.5 L258.7,465.8 L261,466 L263.4,466.2 L265.8,466.4 L268.1,466.6 L270.5,466.8 L272.8,467 L275.2,467.2 L277.5,467.3 L279.9,467.5 L282.2,467.6 L284.6,467.7 L286.9,467.9 L289.3,468 L291.6,468.1 L294,468.2 L296.3,468.3 L298.7,468.4 L301.1,468.5 L303.4,468.6 L305.8,468.6 L308.1,468.7 L310.5,468.8 L312.8,468.9 L315.2,469 L317.5,469 L319.9,469.1 L322.2,469.1 L324.6,469.2 L326.9,469.3 L329.3,469.3 L331.6,469.4 L334,469.4" fill="none" stroke="#ff2020" stroke-width="0.85"/>
<path d="M51.6,470.6 L54,470.6 L56.3,470.5 L58.7,470.5 L61,470.5 L63.4,470.5 L65.7,470.4 L68.1,470.4 L70.4,470.3 L72.8,470.3 L75.1,470.3 L77.5,470.2 L79.8,470.2 L82.2,470.1 L84.5,470.1 L86.9,470 L89.3,470 L91.6,469.9 L94,469.8 L96.3,469.7 L98.7,469.7 L101,469.6 L103.4,469.5 L105.7,469.4 L108.1,469.2 L110.4,469.1 L112.8,469 L115.1,468.8 L117.5,468.6 L119.8,468.5 L122.2,468.3 L124.6,468 L126.9,467.8 L129.3,467.5 L131.6,467.2 L134,466.9 L136.3,466.6 L138.7,466.2 L141,465.8 L143.4,465.4 L145.7,464.9 L148.1,464.4 L150.4,463.9 L152.8,463.3 L155.1,462.7 L157.5,462.1 L159.9,461.5 L162.2,460.8 L164.6,460.1 L166.9,459.4 L169.3,458.7 L171.6,458 L174,457.3 L176.3,456.7 L178.7,456 L181,455.5 L183.4,455 L185.7,454.6 L188.1,454.3 L190.4,454.1 L192.8,454.1 L195.2,454.2 L197.5,454.5 L199.9,455 L202.2,455.7 L204.6,456.5 L206.9,457.3 L209.3,458.3 L211.6,459.2 L214,460.1 L216.3,461 L218.7,461.9 L221,462.8 L223.4,463.5 L225.7,464.3 L228.1,464.9 L230.5,465.5 L232.8,466.1 L235.2,466.6 L237.5,467 L239.9,467.4 L242.2,467.8 L244.6,468.1 L246.9,468.4 L249.3,468.7 L251.6,468.9 L254,469.1 L256.3,469.2 L258.7,469.4 L261,469.5 L263.4,469.7 L265.8,469.8 L268.1,469.9 L270.5,470 L272.8,470 L275.2,470.1 L277.5,470.2 L279.9,470.2 L282.2,470.3 L284.6,470.3 L286.9,470.4 L289.3,470.4 L291.6,470.5 L294,470.5 L296.3,470.6 L298.7,470.6 L301.1,470.6 L303.4,470.7 L305.8,470.7 L308.1,470.7 L310.5,470.7 L312.8,470.8 L315.2,470.8 L317.5,470.8 L319.9,470.8 L322.2,470.8 L324.6,470.9 L326.9,470.9 L329.3,470.9 L331.6,470.9 L334,470.9 L334,470.8 L331.6,470.8 L329.3,470.8 L326.9,470.8 L324.6,470.8 L322.2,470.7 L319.9,470.7 L317.5,470.7 L315.2,470.7 L312.8,470.6 L310.5,470.6 L308.1,470.6 L305.8,470.6 L303.4,470.5 L301.1,470.5 L298.7,470.4 L296.3,470.4 L294,470.3 L291.6,470.3 L289.3,470.2 L286.9,470.2 L284.6,470.1 L282.2,470 L279.9,470 L277.5,469.9 L275.2,469.8 L272.8,469.7 L270.5,469.6 L268.1,469.5 L265.8,469.3 L263.4,469.2 L261,469.1 L258.7,468.9 L256.3,468.7 L254,468.5 L251.6,468.4 L249.3,468.1 L246.9,467.9 L244.6,467.7 L242.2,467.4 L239.9,467.2 L237.5,466.9 L235.2,466.6 L232.8,466.3 L230.5,466 L228.1,465.7 L225.7,465.3 L223.4,465 L221,464.6 L218.7,464.3 L216.3,463.9 L214,463.6 L211.6,463.3 L209.3,463 L206.9,462.7 L204.6,462.4 L202.2,462.2 L199.9,462 L197.5,461.9 L195.2,461.8 L192.8,461.8 L190.4,461.8 L188.1,461.9 L185.7,462 L183.4,462.2 L181,462.4 L178.7,462.7 L176.3,463 L174,463.3 L171.6,463.6 L169.3,463.9 L166.9,464.3 L164.6,464.6 L162.2,465 L159.9,465.3 L157.5,465.6 L155.1,466 L152.8,466.3 L150.4,466.6 L148.1,466.9 L145.7,467.2 L143.4,467.4 L141,467.7 L138.7,467.9 L136.3,468.1 L134,468.3 L131.6,468.5 L129.3,468.7 L126.9,468.9 L124.6,469 L122.2,469.2 L119.8,469.3 L117.5,469.5 L115.1,469.6 L112.8,469.7 L110.4,469.8 L108.1,469.9 L105.7,470 L103.4,470 L101,470.1 L98.7,470.2 L96.3,470.2 L94,470.3 L91.6,470.3 L89.3,470.4 L86.9,470.4 L84.5,470.5 L82.2,470.5 L79.8,470.5 L77.5,470.6 L75.1,470.6 L72.8,470.6 L70.4,470.7 L68.1,470.7 L65.7,470.7 L63.4,470.7 L61,470.8 L58.7,470.8 L56.3,470.8 L54,470.8 L51.6,470.8 Z" fill="#6495ed"/>
<path d="M51.6,470.6 L54,470.6 L56.3,470.5 L58.7,470.5 L61,470.5 L63.4,470.5 L65.7,470.4 L68.1,470.4 L70.4,470.3 L72.8,470.3 L75.1,470.3 L77.5,470.2 L79.8,470.2 L82.2,470.1 L84.5,470.1 L86.9,470 L89.3,470 L91.6,469.9 L94,469.8 L96.3,469.7 L98.7,469.7 L101,469.6 L103.4,469.5 L105.7,469.4 L108.1,469.2 L110.4,469.1 L112.8,469 L115.1,468.8 L117.5,468.6 L119.8,468.5 L122.2,468.3 L124.6,468 L126.9,467.8 L129.3,467.5 L131.6,467.2 L134,466.9 L136.3,466.6 L138.7,466.2 L141,465.8 L143.4,465.4 L145.7,464.9 L148.1,464.4 L150.4,463.9 L152.8,463.3 L155.1,462.7 L157.5,462.1 L159.9,461.5 L162.2,460.8 L164.6,460.1 L166.9,459.4 L169.3,458.7 L171.6,458 L174,457.3 L176.3,456.7 L178.7,456 L181,455.5 L183.4,455 L185.7,454.6 L188.1,454.3 L190.4,454.1 L192.8,454.1 L195.2,454.2 L197.5,454.5 L199.9,455 L202.2,455.7 L204.6,456.5 L206.9,457.3 L209.3,458.3 L211.6,459.2 L214,460.1 L216.3,461 L218.7,461.9 L221,462.8 L223.4,463.5 L225.7,464.3 L228.1,464.9 L230.5,465.5 L232.8,466.1 L235.2,466.6 L237.5,467 L239.9,467.4 L242.2,467.8 L244.6,468.1 L246.9,468.4 L249.3,468.7 L251.6,468.9 L254,469.1 L256.3,469.2 L258.7,469.4 L261,469.5 L263.4,469.7 L265.8,469.8 L268.1,469.9 L270.5,470 L272.8,470 L275.2,470.1 L277.5,470.2 L279.9,470.2 L282.2,470.3 L284.6,470.3 L286.9,470.4 L289.3,470.4 L291.6,470.5 L294,470.5 L296.3,470.6 L298.7,470.6 L301.1,470.6 L303.4,470.7 L305.8,470.7 L308.1,470.7 L310.5,470.7 L312.8,470.8 L315.2,470.8 L317.5,470.8 L319.9,470.8 L322.2,470.8 L324.6,470.9 L326.9,470.9 L329.3,470.9 L331.6,470.9 L334,470.9" fill="none" stroke="#2020ff" stroke-width="0.85"/>
<path d="M51.6,470.8 L54,470.8 L56.3,470.8 L58.7,470.8 L61,470.8 L63.4,470.7 L65.7,470.7 L68.1,470.7 L70.4,470.7 L72.8,470.6 L75.1,470.6 L77.5,470.6 L79.8,470.5 L82.2,470.5 L84.5,470.5 L86.9,470.4 L89.3,470.4 L91.6,470.3 L94,470.3 L96.3,470.2 L98.7,470.2 L101,470.1 L103.4,470 L105.7,470 L108.1,469.9 L110.4,469.8 L112.8,469.7 L115.1,469.6 L117.5,469.5 L119.8,469.3 L122.2,469.2 L124.6,469 L126.9,468.9 L129.3,468.7 L131.6,468.5 L134,468.3 L136.3,468.1 L138.7,467.9 L141,467.7 L143.4,467.4 L145.7,467.2 L148.1,466.9 L150.4,466.6 L152.8,466.3 L155.1,466 L157.5,465.6 L159.9,465.3 L162.2,465 L164.6,464.6 L166.9,464.3 L169.3,463.9 L171.6,463.6 L174,463.3 L176.3,463 L178.7,462.7 L181,462.4 L183.4,462.2 L185.7,462 L188.1,461.9 L190.4,461.8 L192.8,461.8 L195.2,461.8 L197.5,461.9 L199.9,462 L202.2,462.2 L204.6,462.4 L206.9,462.7 L209.3,463 L211.6,463.3 L214,463.6 L216.3,463.9 L218.7,464.3 L221,464.6 L223.4,465 L225.7,465.3 L228.1,465.7 L230.5,466 L232.8,466.3 L235.2,466.6 L237.5,466.9 L239.9,467.2 L242.2,467.4 L244.6,467.7 L246.9,467.9 L249.3,468.1 L251.6,468.4 L254,468.5 L256.3,468.7 L258.7,468.9 L261,469.1 L263.4,469.2 L265.8,469.3 L268.1,469.5 L270.5,469.6 L272.8,469.7 L275.2,469.8 L277.5,469.9 L279.9,470 L282.2,470 L284.6,470.1 L286.9,470.2 L289.3,470.2 L291.6,470.3 L294,470.3 L296.3,470.4 L298.7,470.4 L301.1,470.5 L303.4,470.5 L305.8,470.6 L308.1,470.6 L310.5,470.6 L312.8,470.6 L315.2,470.7 L317.5,470.7 L319.9,470.7 L322.2,470.7 L324.6,470.8 L326.9,470.8 L329.3,470.8 L331.6,470.8 L334,470.8" fill="none" stroke="#ff2020" stroke-width="0.85"/>
<path d="M51.6,469.1 L54,468.9 L56.3,468.8 L58.7,468.6 L61,468.5 L63.4,468.3 L65.7,468.1 L68.1,467.8 L70.4,467.6 L72.8,467.3 L75.1,467 L77.5,466.6 L79.8,466.2 L82.2,465.8 L84.5,465.4 L86.9,464.8 L89.3,464.3 L91.6,463.6 L94,463 L96.3,462.2 L98.7,461.4 L101,460.6 L103.4,459.6 L105.7,458.6 L108.1,457.6 L110.4,456.5 L112.8,455.4 L115.1,454.2 L117.5,453.1 L119.8,452 L122.2,451 L124.6,450.1 L126.9,449.3 L129.3,448.7 L131.6,448.3 L134,448.2 L136.3,448.3 L138.7,448.7 L141,449.2 L143.4,450 L145.7,450.9 L148.1,452 L150.4,453.1 L152.8,454.2 L155.1,455.3 L157.5,456.5 L159.9,457.5 L162.2,458.6 L164.6,459.6 L166.9,460.5 L169.3,461.4 L171.6,462.2 L174,462.9 L176.3,463.6 L178.7,464.2 L181,464.8 L183.4,465.3 L185.7,465.8 L188.1,466.2 L190.4,466.6 L192.8,467 L195.2,467.3 L197.5,467.6 L199.9,467.8 L202.2,468 L204.6,468.3 L206.9,468.4 L209.3,468.6 L211.6,468.8 L214,468.9 L216.3,469 L218.7,469.2 L221,469.3 L223.4,469.4 L225.7,469.5 L228.1,469.6 L230.5,469.6 L232.8,469.7 L235.2,469.8 L237.5,469.9 L239.9,469.9 L242.2,470 L244.6,470 L246.9,470.1 L249.3,470.1 L251.6,470.2 L254,470.2 L256.3,470.3 L258.7,470.3 L261,470.4 L263.4,470.4 L265.8,470.4 L268.1,470.5 L270.5,470.5 L272.8,470.5 L275.2,470.5 L277.5,470.6 L279.9,470.6 L282.2,470.6 L284.6,470.6 L286.9,470.7 L289.3,470.7 L291.6,470.7 L294,470.7 L296.3,470.7 L298.7,470.8 L301.1,470.8 L303.4,470.8 L305.8,470.8 L308.1,470.8 L310.5,470.8 L312.8,470.9 L315.2,470.9 L317.5,470.9 L319.9,470.9 L322.2,470.9 L324.6,470.9 L326.9,470.9 L329.3,470.9 L331.6,471 L334,471 L334,470.8 L331.6,470.8 L329.3,470.8 L326.9,470.8 L324.6,470.8 L322.2,470.8 L319.9,470.7 L317.5,470.7 L315.2,470.7 L312.8,470.7 L310.5,470.7 L308.1,470.7 L305.8,470.6 L303.4,470.6 L301.1,470.6 L298.7,470.6 L296.3,470.6 L294,470.5 L291.6,470.5 L289.3,470.5 L286.9,470.5 L284.6,470.4 L282.2,470.4 L279.9,470.4 L277.5,470.3 L275.2,470.3 L272.8,470.3 L270.5,470.2 L268.1,470.2 L265.8,470.1 L263.4,470.1 L261,470 L258.7,470 L256.3,470 L254,469.9 L251.6,469.8 L249.3,469.8 L246.9,469.7 L244.6,469.6 L242.2,469.6 L239.9,469.5 L237.5,469.4 L235.2,469.3 L232.8,469.2 L230.5,469.1 L228.1,469 L225.7,468.9 L223.4,468.8 L221,468.7 L218.7,468.5 L216.3,468.4 L214,468.2 L211.6,468 L209.3,467.8 L206.9,467.6 L204.6,467.3 L202.2,467.1 L199.9,466.8 L197.5,466.4 L195.2,466.1 L192.8,465.7 L190.4,465.2 L188.1,464.7 L185.7,464.2 L183.4,463.6 L181,462.9 L178.7,462.2 L176.3,461.4 L174,460.5 L171.6,459.5 L169.3,458.5 L166.9,457.4 L164.6,456.2 L162.2,454.9 L159.9,453.5 L157.5,452.1 L155.1,450.7 L152.8,449.2 L150.4,447.8 L148.1,446.3 L145.7,445 L143.4,443.8 L141,442.8 L138.7,442.1 L136.3,441.6 L134,441.5 L131.6,441.6 L129.3,442.1 L126.9,442.9 L124.6,443.9 L122.2,445.1 L119.8,446.4 L117.5,447.8 L115.1,449.3 L112.8,450.8 L110.4,452.2 L108.1,453.6 L105.7,455 L103.4,456.2 L101,457.4 L98.7,458.5 L96.3,459.6 L94,460.5 L91.6,461.4 L89.3,462.2 L86.9,462.9 L84.5,463.6 L82.2,464.2 L79.8,464.8 L77.5,465.3 L75.1,465.7 L72.8,466.1 L70.4,466.5 L68.1,466.8 L65.7,467.1 L63.4,467.4 L61,467.6 L58.7,467.8 L56.3,468 L54,468.2 L51.6,468.4 Z" fill="#f08080"/>
<path d="M51.6,469.1 L54,468.9 L56.3,468.8 L58.7,468.6 L61,468.5 L63.4,468.3 L65.7,468.1 L68.1,467.8 L70.4,467.6 L72.8,467.3 L75.1,467 L77.5,466.6 L79.8,466.2 L82.2,465.8 L84.5,465.4 L86.9,464.8 L89.3,464.3 L91.6,463.6 L94,463 L96.3,462.2 L98.7,461.4 L101,460.6 L103.4,459.6 L105.7,458.6 L108.1,457.6 L110.4,456.5 L112.8,455.4 L115.1,454.2 L117.5,453.1 L119.8,452 L122.2,451 L124.6,450.1 L126.9,449.3 L129.3,448.7 L131.6,448.3 L134,448.2 L136.3,448.3 L138.7,448.7 L141,449.2 L143.4,450 L145.7,450.9 L148.1,452 L150.4,453.1 L152.8,454.2 L155.1,455.3 L157.5,456.5 L159.9,457.5 L162.2,458.6 L164.6,459.6 L166.9,460.5 L169.3,461.4 L171.6,462.2 L174,462.9 L176.3,463.6 L178.7,464.2 L181,464.8 L183.4,465.3 L185.7,465.8 L188.1,466.2 L190.4,466.6 L192.8,467 L195.2,467.3 L197.5,467.6 L199.9,467.8 L202.2,468 L204.6,468.3 L206.9,468.4 L209.3,468.6 L211.6,468.8 L214,468.9 L216.3,469 L218.7,469.2 L221,469.3 L223.4,469.4 L225.7,469.5 L228.1,469.6 L230.5,469.6 L232.8,469.7 L235.2,469.8 L237.5,469.9 L239.9,469.9 L242.2,470 L244.6,470 L246.9,470.1 L249.3,470.1 L251.6,470.2 L254,470.2 L256.3,470.3 L258.7,470.3 L261,470.4 L263.4,470.4 L265.8,470.4 L268.1,470.5 L270.5,470.5 L272.8,470.5 L275.2,470.5 L277.5,470.6 L279.9,470.6 L282.2,470.6 L284.6,470.6 L286.9,470.7 L289.3,470.7 L291.6,470.7 L294,470.7 L296.3,470.7 L298.7,470.8 L301.1,470.8 L303.4,470.8 L305.8,470.8 L308.1,470.8 L310.5,470.8 L312.8,470.9 L315.2,470.9 L317.5,470.9 L319.9,470.9 L322.2,470.9 L324.6,470.9 L326.9,470.9 L329.3,470.9 L331.6,471 L334,471" fill="none" stroke="#2020ff" stroke-width="0.85"/>
<path d="M51.6,468.4 L54,468.2 L56.3,468 L58.7,467.8 L61,467.6 L63.4,467.4 L65.7,467.1 L68.1,466.8 L70.4,466.5 L72.8,466.1 L75.1,465.7 L77.5,465.3 L79.8,464.8 L82.2,464.2 L84.5,463.6 L86.9,462.9 L89.3,462.2 L91.6,461.4 L94,460.5 L96.3,459.6 L98.7,458.5 L101,457.4 L103.4,456.2 L105.7,455 L108.1,453.6 L110.4,452.2 L112.8,450.8 L115.1,449.3 L117.5,447.8 L119.8,446.4 L122.2,445.1 L124.6,443.9 L126.9,442.9 L129.3,442.1 L131.6,441.6 L134,441.5 L136.3,441.6 L138.7,442.1 L141,442.8 L143.4,443.8 L145.7,445 L148.1,446.3 L150.4,447.8 L152.8,449.2 L155.1,450.7 L157.5,452.1 L159.9,453.5 L162.2,454.9 L164.6,456.2 L166.9,457.4 L169.3,458.5 L171.6,459.5 L174,460.5 L176.3,461.4 L178.7,462.2 L181,462.9 L183.4,463.6 L185.7,464.2 L188.1,464.7 L190.4,465.2 L192.8,465.7 L195.2,466.1 L197.5,466.4 L199.9,466.8 L202.2,467.1 L204.6,467.3 L206.9,467.6 L209.3,467.8 L211.6,468 L214,468.2 L216.3,468.4 L218.7,468.5 L221,468.7 L223.4,468.8 L225.7,468.9 L228.1,469 L230.5,469.1 L232.8,469.2 L235.2,469.3 L237.5,469.4 L239.9,469.5 L242.2,469.6 L244.6,469.6 L246.9,469.7 L249.3,469.8 L251.6,469.8 L254,469.9 L256.3,470 L258.7,470 L261,470 L263.4,470.1 L265.8,470.1 L268.1,470.2 L270.5,470.2 L272.8,470.3 L275.2,470.3 L277.5,470.3 L279.9,470.4 L282.2,470.4 L284.6,470.4 L286.9,470.5 L289.3,470.5 L291.6,470.5 L294,470.5 L296.3,470.6 L298.7,470.6 L301.1,470.6 L303.4,470.6 L305.8,470.6 L308.1,470.7 L310.5,470.7 L312.8,470.7 L315.2,470.7 L317.5,470.7 L319.9,470.7 L322.2,470.8 L324.6,470.8 L326.9,470.8 L329.3,470.8 L331.6,470.8 L334,470.8" fill="none" stroke="#ff2020" stroke-width="0.85"/>
<path d="M51.6,466.5 L54,466.3 L56.3,466.1 L58.7,465.8 L61,465.5 L63.4,465.2 L65.7,464.8 L68.1,464.4 L70.4,464 L72.8,463.5 L75.1,462.9 L77.5,462.3 L79.8,461.6 L82.2,460.8 L84.5,460 L86.9,459.1 L89.3,458.1 L91.6,457 L94,455.8 L96.3,454.4 L98.7,453 L101,451.2 L103.4,449.4 L105.7,447.4 L108.1,445.3 L110.4,443.1 L112.8,440.9 L115.1,438.6 L117.5,436.2 L119.8,433.7 L122.2,431.2 L124.6,428.7 L126.9,426.1 L129.3,423.7 L131.6,421.3 L134,419 L136.3,416.7 L138.7,414.5 L141,412.4 L143.4,410.6 L145.7,408.9 L148.1,407.6 L150.4,406.5 L152.8,405.9 L155.1,405.6 L157.5,405.7 L159.9,406.2 L162.2,407 L164.6,408.2 L166.9,409.5 L169.3,411.1 L171.6,412.7 L174,414.5 L176.3,416.4 L178.7,418.3 L181,420.2 L183.4,422.1 L185.7,424.1 L188.1,426.1 L190.4,428.2 L192.8,430.2 L195.2,432.3 L197.5,434.3 L199.9,436.3 L202.2,438.2 L204.6,440.2 L206.9,442 L209.3,443.8 L211.6,445.4 L214,447 L216.3,448.5 L218.7,449.9 L221,451.2 L223.4,452.4 L225.7,453.5 L228.1,454.5 L230.5,455.5 L232.8,456.4 L235.2,457.2 L237.5,457.9 L239.9,458.6 L242.2,459.3 L244.6,459.8 L246.9,460.4 L249.3,460.9 L251.6,461.4 L254,461.8 L256.3,462.2 L258.7,462.6 L261,462.9 L263.4,463.3 L265.8,463.6 L268.1,463.8 L270.5,464.1 L272.8,464.4 L275.2,464.6 L277.5,464.8 L279.9,465 L282.2,465.2 L284.6,465.4 L286.9,465.6 L289.3,465.8 L291.6,465.9 L294,466.1 L296.3,466.2 L298.7,466.3 L301.1,466.5 L303.4,466.6 L305.8,466.7 L308.1,466.8 L310.5,466.9 L312.8,467 L315.2,467 L317.5,467.1 L319.9,467.2 L322.2,467.2 L324.6,467.2 L326.9,467.3 L329.3,467.3 L331.6,467.3 L334,467.3" fill="none" stroke="#0000ff" stroke-width="1.25"/>
<path d="M51.6,464.3 L54,464 L56.3,463.8 L58.7,463.5 L61,463.2 L63.4,462.9 L65.7,462.6 L68.1,462.2 L70.4,461.8 L72.8,461.4 L75.1,460.9 L77.5,460.4 L79.8,459.8 L82.2,459.2 L84.5,458.5 L86.9,457.6 L89.3,456.7 L91.6,455.7 L94,454.5 L96.3,453.2 L98.7,451.8 L101,450.1 L103.4,448.3 L105.7,446.2 L108.1,444 L110.4,441.5 L112.8,438.8 L115.1,436 L117.5,432.9 L119.8,429.7 L122.2,426.4 L124.6,423 L126.9,419.7 L129.3,416.4 L131.6,413.2 L134,410.2 L136.3,407.5 L138.7,405.1 L141,403 L143.4,401.3 L145.7,400 L148.1,399.2 L150.4,398.8 L152.8,398.8 L155.1,399.3 L157.5,400.2 L159.9,401.5 L162.2,403.2 L164.6,405.2 L166.9,407.4 L169.3,409.9 L171.6,412.5 L174,415.1 L176.3,417.8 L178.7,420.5 L181,423.1 L183.4,425.6 L185.7,428 L188.1,430.2 L190.4,432.2 L192.8,434.2 L195.2,436.1 L197.5,437.9 L199.9,439.6 L202.2,441.4 L204.6,443.2 L206.9,444.9 L209.3,446.6 L211.6,448.3 L214,449.9 L216.3,451.5 L218.7,452.9 L221,454.2 L223.4,455.4 L225.7,456.5 L228.1,457.5 L230.5,458.3 L232.8,459.1 L235.2,459.8 L237.5,460.5 L239.9,461.1 L242.2,461.6 L244.6,462.1 L246.9,462.5 L249.3,462.9 L251.6,463.2 L254,463.6 L256.3,463.9 L258.7,464.1 L261,464.4 L263.4,464.6 L265.8,464.8 L268.1,465 L270.5,465.2 L272.8,465.4 L275.2,465.6 L277.5,465.7 L279.9,465.9 L282.2,466 L284.6,466.1 L286.9,466.2 L289.3,466.3 L291.6,466.4 L294,466.5 L296.3,466.6 L298.7,466.7 L301.1,466.8 L303.4,466.9 L305.8,467 L308.1,467 L310.5,467.1 L312.8,467.2 L315.2,467.2 L317.5,467.3 L319.9,467.3 L322.2,467.4 L324.6,467.4 L326.9,467.5 L329.3,467.5 L331.6,467.6 L334,467.6" fill="none" stroke="#ff0000" stroke-width="1.25"/>
</g>
<g clip-path="url(#cdc)">
<line x1="51.6" y1="491.3" x2="334" y2="491.3" stroke="#000" stroke-width="0.95" stroke-dasharray="3.2,2.3"/>
<path d="M51.6,492 L54,492.3 L56.3,492.5 L58.7,492.6 L61,492.7 L63.4,492.7 L65.7,492.6 L68.1,492.5 L70.4,492.4 L72.8,492.2 L75.1,492.1 L77.5,491.8 L79.8,491.6 L82.2,491.4 L84.5,491.2 L86.9,491 L89.3,490.9 L91.6,490.7 L94,490.6 L96.3,490.6 L98.7,490.6 L101,490.6 L103.4,490.8 L105.7,491 L108.1,491.3 L110.4,491.7 L112.8,492.2 L115.1,492.7 L117.5,493.3 L119.8,493.8 L122.2,494.4 L124.6,494.9 L126.9,495.3 L129.3,495.7 L131.6,495.9 L134,496.1 L136.3,496.2 L138.7,496.2 L141,496.2 L143.4,496.1 L145.7,495.9 L148.1,495.7 L150.4,495.5 L152.8,495.2 L155.1,494.8 L157.5,494.4 L159.9,494 L162.2,493.6 L164.6,493.1 L166.9,492.7 L169.3,492.2 L171.6,491.7 L174,491.2 L176.3,490.8 L178.7,490.4 L181,490 L183.4,489.6 L185.7,489.4 L188.1,489.1 L190.4,489 L192.8,488.9 L195.2,488.9 L197.5,489 L199.9,489.1 L202.2,489.2 L204.6,489.4 L206.9,489.6 L209.3,489.7 L211.6,489.8 L214,489.9 L216.3,489.9 L218.7,489.9 L221,489.8 L223.4,489.7 L225.7,489.6 L228.1,489.5 L230.5,489.4 L232.8,489.3 L235.2,489.2 L237.5,489.2 L239.9,489.2 L242.2,489.2 L244.6,489.2 L246.9,489.3 L249.3,489.4 L251.6,489.6 L254,489.9 L256.3,490.1 L258.7,490.4 L261,490.6 L263.4,490.9 L265.8,491.1 L268.1,491.3 L270.5,491.4 L272.8,491.5 L275.2,491.6 L277.5,491.6 L279.9,491.5 L282.2,491.5 L284.6,491.4 L286.9,491.3 L289.3,491.2 L291.6,491.1 L294,491 L296.3,490.9 L298.7,490.8 L301.1,490.8 L303.4,490.7 L305.8,490.7 L308.1,490.7 L310.5,490.8 L312.8,490.8 L315.2,490.9 L317.5,491 L319.9,491.1 L322.2,491.2 L324.6,491.2 L326.9,491.2 L329.3,491.3 L331.6,491.2 L334,491.1" fill="none" stroke="#333" stroke-width="0.8"/>
</g>
<g clip-path="url(#cfc)">
<path d="M51.6,625.3 L54,625.3 L56.3,625.3 L58.7,625.3 L61,625.3 L63.4,625.3 L65.7,625.2 L68.1,625.2 L70.4,625.2 L72.8,625.2 L75.1,625.2 L77.5,625.2 L79.8,625.2 L82.2,625.2 L84.5,625.2 L86.9,625.2 L89.3,625.2 L91.6,625.2 L94,625.2 L96.3,625.2 L98.7,625.2 L101,625.2 L103.4,625.2 L105.7,625.1 L108.1,625.1 L110.4,625.1 L112.8,625.1 L115.1,625.1 L117.5,625.1 L119.8,625.1 L122.2,625.1 L124.6,625.1 L126.9,625 L129.3,625 L131.6,625 L134,625 L136.3,625 L138.7,625 L141,624.9 L143.4,624.9 L145.7,624.9 L148.1,624.9 L150.4,624.8 L152.8,624.8 L155.1,624.8 L157.5,624.8 L159.9,624.7 L162.2,624.7 L164.6,624.7 L166.9,624.6 L169.3,624.6 L171.6,624.6 L174,624.5 L176.3,624.5 L178.7,624.4 L181,624.4 L183.4,624.4 L185.7,624.3 L188.1,624.3 L190.4,624.2 L192.8,624.1 L195.2,624.1 L197.5,624 L199.9,624 L202.2,623.9 L204.6,623.8 L206.9,623.8 L209.3,623.7 L211.6,623.6 L214,623.5 L216.3,623.4 L218.7,623.4 L221,623.3 L223.4,623.2 L225.7,623.1 L228.1,623 L230.5,622.9 L232.8,622.8 L235.2,622.7 L237.5,622.6 L239.9,622.5 L242.2,622.3 L244.6,622.2 L246.9,622.1 L249.3,622 L251.6,621.9 L254,621.7 L256.3,621.6 L258.7,621.5 L261,621.3 L263.4,621.2 L265.8,621.1 L268.1,620.9 L270.5,620.8 L272.8,620.6 L275.2,620.5 L277.5,620.4 L279.9,620.2 L282.2,620.1 L284.6,619.9 L286.9,619.8 L289.3,619.6 L291.6,619.5 L294,619.3 L296.3,619.2 L298.7,619.1 L301.1,618.9 L303.4,618.8 L305.8,618.6 L308.1,618.5 L310.5,618.4 L312.8,618.2 L315.2,618.1 L317.5,618 L319.9,617.9 L322.2,617.8 L324.6,617.7 L326.9,617.6 L329.3,617.5 L331.6,617.4 L334,617.3 L334,627.5 L51.6,627.5 Z" fill="#fff"/>
<path d="M51.6,625.3 L54,625.3 L56.3,625.3 L58.7,625.3 L61,625.3 L63.4,625.3 L65.7,625.2 L68.1,625.2 L70.4,625.2 L72.8,625.2 L75.1,625.2 L77.5,625.2 L79.8,625.2 L82.2,625.2 L84.5,625.2 L86.9,625.2 L89.3,625.2 L91.6,625.2 L94,625.2 L96.3,625.2 L98.7,625.2 L101,625.2 L103.4,625.2 L105.7,625.1 L108.1,625.1 L110.4,625.1 L112.8,625.1 L115.1,625.1 L117.5,625.1 L119.8,625.1 L122.2,625.1 L124.6,625.1 L126.9,625 L129.3,625 L131.6,625 L134,625 L136.3,625 L138.7,625 L141,624.9 L143.4,624.9 L145.7,624.9 L148.1,624.9 L150.4,624.8 L152.8,624.8 L155.1,624.8 L157.5,624.8 L159.9,624.7 L162.2,624.7 L164.6,624.7 L166.9,624.6 L169.3,624.6 L171.6,624.6 L174,624.5 L176.3,624.5 L178.7,624.4 L181,624.4 L183.4,624.4 L185.7,624.3 L188.1,624.3 L190.4,624.2 L192.8,624.1 L195.2,624.1 L197.5,624 L199.9,624 L202.2,623.9 L204.6,623.8 L206.9,623.8 L209.3,623.7 L211.6,623.6 L214,623.5 L216.3,623.4 L218.7,623.4 L221,623.3 L223.4,623.2 L225.7,623.1 L228.1,623 L230.5,622.9 L232.8,622.8 L235.2,622.7 L237.5,622.6 L239.9,622.5 L242.2,622.3 L244.6,622.2 L246.9,622.1 L249.3,622 L251.6,621.9 L254,621.7 L256.3,621.6 L258.7,621.5 L261,621.3 L263.4,621.2 L265.8,621.1 L268.1,620.9 L270.5,620.8 L272.8,620.6 L275.2,620.5 L277.5,620.4 L279.9,620.2 L282.2,620.1 L284.6,619.9 L286.9,619.8 L289.3,619.6 L291.6,619.5 L294,619.3 L296.3,619.2 L298.7,619.1 L301.1,618.9 L303.4,618.8 L305.8,618.6 L308.1,618.5 L310.5,618.4 L312.8,618.2 L315.2,618.1 L317.5,618 L319.9,617.9 L322.2,617.8 L324.6,617.7 L326.9,617.6 L329.3,617.5 L331.6,617.4 L334,617.3 L334,614.6 L331.6,614.7 L329.3,614.8 L326.9,614.9 L324.6,615.1 L322.2,615.2 L319.9,615.4 L317.5,615.5 L315.2,615.7 L312.8,615.8 L310.5,616 L308.1,616.2 L305.8,616.4 L303.4,616.5 L301.1,616.7 L298.7,616.9 L296.3,617.1 L294,617.3 L291.6,617.5 L289.3,617.7 L286.9,617.9 L284.6,618.1 L282.2,618.3 L279.9,618.4 L277.5,618.6 L275.2,618.8 L272.8,619 L270.5,619.2 L268.1,619.4 L265.8,619.6 L263.4,619.8 L261,619.9 L258.7,620.1 L256.3,620.3 L254,620.5 L251.6,620.6 L249.3,620.8 L246.9,621 L244.6,621.1 L242.2,621.3 L239.9,621.4 L237.5,621.6 L235.2,621.7 L232.8,621.9 L230.5,622 L228.1,622.1 L225.7,622.3 L223.4,622.4 L221,622.5 L218.7,622.6 L216.3,622.8 L214,622.9 L211.6,623 L209.3,623.1 L206.9,623.2 L204.6,623.3 L202.2,623.4 L199.9,623.4 L197.5,623.5 L195.2,623.6 L192.8,623.7 L190.4,623.8 L188.1,623.8 L185.7,623.9 L183.4,624 L181,624 L178.7,624.1 L176.3,624.2 L174,624.2 L171.6,624.3 L169.3,624.3 L166.9,624.4 L164.6,624.4 L162.2,624.4 L159.9,624.5 L157.5,624.5 L155.1,624.6 L152.8,624.6 L150.4,624.6 L148.1,624.7 L145.7,624.7 L143.4,624.7 L141,624.7 L138.7,624.8 L136.3,624.8 L134,624.8 L131.6,624.8 L129.3,624.9 L126.9,624.9 L124.6,624.9 L122.2,624.9 L119.8,624.9 L117.5,625 L115.1,625 L112.8,625 L110.4,625 L108.1,625 L105.7,625 L103.4,625 L101,625 L98.7,625.1 L96.3,625.1 L94,625.1 L91.6,625.1 L89.3,625.1 L86.9,625.1 L84.5,625.1 L82.2,625.1 L79.8,625.1 L77.5,625.1 L75.1,625.1 L72.8,625.1 L70.4,625.2 L68.1,625.2 L65.7,625.2 L63.4,625.2 L61,625.2 L58.7,625.2 L56.3,625.2 L54,625.2 L51.6,625.2 Z" fill="#f4a460"/>
<path d="M51.6,625.3 L54,625.3 L56.3,625.3 L58.7,625.3 L61,625.3 L63.4,625.3 L65.7,625.2 L68.1,625.2 L70.4,625.2 L72.8,625.2 L75.1,625.2 L77.5,625.2 L79.8,625.2 L82.2,625.2 L84.5,625.2 L86.9,625.2 L89.3,625.2 L91.6,625.2 L94,625.2 L96.3,625.2 L98.7,625.2 L101,625.2 L103.4,625.2 L105.7,625.1 L108.1,625.1 L110.4,625.1 L112.8,625.1 L115.1,625.1 L117.5,625.1 L119.8,625.1 L122.2,625.1 L124.6,625.1 L126.9,625 L129.3,625 L131.6,625 L134,625 L136.3,625 L138.7,625 L141,624.9 L143.4,624.9 L145.7,624.9 L148.1,624.9 L150.4,624.8 L152.8,624.8 L155.1,624.8 L157.5,624.8 L159.9,624.7 L162.2,624.7 L164.6,624.7 L166.9,624.6 L169.3,624.6 L171.6,624.6 L174,624.5 L176.3,624.5 L178.7,624.4 L181,624.4 L183.4,624.4 L185.7,624.3 L188.1,624.3 L190.4,624.2 L192.8,624.1 L195.2,624.1 L197.5,624 L199.9,624 L202.2,623.9 L204.6,623.8 L206.9,623.8 L209.3,623.7 L211.6,623.6 L214,623.5 L216.3,623.4 L218.7,623.4 L221,623.3 L223.4,623.2 L225.7,623.1 L228.1,623 L230.5,622.9 L232.8,622.8 L235.2,622.7 L237.5,622.6 L239.9,622.5 L242.2,622.3 L244.6,622.2 L246.9,622.1 L249.3,622 L251.6,621.9 L254,621.7 L256.3,621.6 L258.7,621.5 L261,621.3 L263.4,621.2 L265.8,621.1 L268.1,620.9 L270.5,620.8 L272.8,620.6 L275.2,620.5 L277.5,620.4 L279.9,620.2 L282.2,620.1 L284.6,619.9 L286.9,619.8 L289.3,619.6 L291.6,619.5 L294,619.3 L296.3,619.2 L298.7,619.1 L301.1,618.9 L303.4,618.8 L305.8,618.6 L308.1,618.5 L310.5,618.4 L312.8,618.2 L315.2,618.1 L317.5,618 L319.9,617.9 L322.2,617.8 L324.6,617.7 L326.9,617.6 L329.3,617.5 L331.6,617.4 L334,617.3" fill="none" stroke="#2020ff" stroke-width="0.85"/>
<path d="M51.6,625.2 L54,625.2 L56.3,625.2 L58.7,625.2 L61,625.2 L63.4,625.2 L65.7,625.2 L68.1,625.2 L70.4,625.2 L72.8,625.1 L75.1,625.1 L77.5,625.1 L79.8,625.1 L82.2,625.1 L84.5,625.1 L86.9,625.1 L89.3,625.1 L91.6,625.1 L94,625.1 L96.3,625.1 L98.7,625.1 L101,625 L103.4,625 L105.7,625 L108.1,625 L110.4,625 L112.8,625 L115.1,625 L117.5,625 L119.8,624.9 L122.2,624.9 L124.6,624.9 L126.9,624.9 L129.3,624.9 L131.6,624.8 L134,624.8 L136.3,624.8 L138.7,624.8 L141,624.7 L143.4,624.7 L145.7,624.7 L148.1,624.7 L150.4,624.6 L152.8,624.6 L155.1,624.6 L157.5,624.5 L159.9,624.5 L162.2,624.4 L164.6,624.4 L166.9,624.4 L169.3,624.3 L171.6,624.3 L174,624.2 L176.3,624.2 L178.7,624.1 L181,624 L183.4,624 L185.7,623.9 L188.1,623.8 L190.4,623.8 L192.8,623.7 L195.2,623.6 L197.5,623.5 L199.9,623.4 L202.2,623.4 L204.6,623.3 L206.9,623.2 L209.3,623.1 L211.6,623 L214,622.9 L216.3,622.8 L218.7,622.6 L221,622.5 L223.4,622.4 L225.7,622.3 L228.1,622.1 L230.5,622 L232.8,621.9 L235.2,621.7 L237.5,621.6 L239.9,621.4 L242.2,621.3 L244.6,621.1 L246.9,621 L249.3,620.8 L251.6,620.6 L254,620.5 L256.3,620.3 L258.7,620.1 L261,619.9 L263.4,619.8 L265.8,619.6 L268.1,619.4 L270.5,619.2 L272.8,619 L275.2,618.8 L277.5,618.6 L279.9,618.4 L282.2,618.3 L284.6,618.1 L286.9,617.9 L289.3,617.7 L291.6,617.5 L294,617.3 L296.3,617.1 L298.7,616.9 L301.1,616.7 L303.4,616.5 L305.8,616.4 L308.1,616.2 L310.5,616 L312.8,615.8 L315.2,615.7 L317.5,615.5 L319.9,615.4 L322.2,615.2 L324.6,615.1 L326.9,614.9 L329.3,614.8 L331.6,614.7 L334,614.6" fill="none" stroke="#ff2020" stroke-width="0.85"/>
<path d="M51.6,619 L54,618.8 L56.3,618.6 L58.7,618.4 L61,618.1 L63.4,617.9 L65.7,617.6 L68.1,617.4 L70.4,617.1 L72.8,616.8 L75.1,616.5 L77.5,616.1 L79.8,615.8 L82.2,615.4 L84.5,615 L86.9,614.6 L89.3,614.2 L91.6,613.7 L94,613.3 L96.3,612.7 L98.7,612.2 L101,611.6 L103.4,611 L105.7,610.4 L108.1,609.7 L110.4,608.9 L112.8,608.2 L115.1,607.3 L117.5,606.5 L119.8,605.5 L122.2,604.5 L124.6,603.4 L126.9,602.3 L129.3,601 L131.6,599.7 L134,598.3 L136.3,596.8 L138.7,595.2 L141,593.5 L143.4,591.6 L145.7,589.7 L148.1,587.6 L150.4,585.4 L152.8,583.1 L155.1,580.6 L157.5,578 L159.9,575.2 L162.2,572.4 L164.6,569.5 L166.9,566.5 L169.3,563.5 L171.6,560.5 L174,557.5 L176.3,554.7 L178.7,552 L181,549.6 L183.4,547.5 L185.7,545.8 L188.1,544.5 L190.4,543.8 L192.8,543.5 L195.2,543.7 L197.5,544.4 L199.9,545.4 L202.2,546.9 L204.6,548.6 L206.9,550.7 L209.3,553 L211.6,555.6 L214,558.3 L216.3,561.2 L218.7,564.1 L221,567.1 L223.4,570.1 L225.7,573.1 L228.1,576.1 L230.5,579 L232.8,581.8 L235.2,584.6 L237.5,587.2 L239.9,589.8 L242.2,592.3 L244.6,594.6 L246.9,596.8 L249.3,598.8 L251.6,600.8 L254,602.6 L256.3,604.3 L258.7,605.9 L261,607.4 L263.4,608.7 L265.8,610 L268.1,611.1 L270.5,612.1 L272.8,613.1 L275.2,614 L277.5,614.8 L279.9,615.5 L282.2,616.1 L284.6,616.7 L286.9,617.3 L289.3,617.8 L291.6,618.2 L294,618.6 L296.3,619 L298.7,619.3 L301.1,619.6 L303.4,619.9 L305.8,620.2 L308.1,620.4 L310.5,620.6 L312.8,620.8 L315.2,621 L317.5,621.2 L319.9,621.3 L322.2,621.5 L324.6,621.6 L326.9,621.7 L329.3,621.9 L331.6,622 L334,622.1 L334,624.4 L331.6,624.3 L329.3,624.3 L326.9,624.2 L324.6,624.2 L322.2,624.1 L319.9,624.1 L317.5,624.1 L315.2,624 L312.8,623.9 L310.5,623.9 L308.1,623.8 L305.8,623.8 L303.4,623.7 L301.1,623.6 L298.7,623.5 L296.3,623.5 L294,623.4 L291.6,623.3 L289.3,623.2 L286.9,623.1 L284.6,622.9 L282.2,622.8 L279.9,622.7 L277.5,622.5 L275.2,622.4 L272.8,622.2 L270.5,622 L268.1,621.8 L265.8,621.5 L263.4,621.3 L261,621 L258.7,620.7 L256.3,620.4 L254,620 L251.6,619.6 L249.3,619.2 L246.9,618.7 L244.6,618.2 L242.2,617.6 L239.9,617 L237.5,616.3 L235.2,615.6 L232.8,614.9 L230.5,614 L228.1,613.2 L225.7,612.2 L223.4,611.3 L221,610.3 L218.7,609.2 L216.3,608.1 L214,607 L211.6,605.9 L209.3,604.8 L206.9,603.8 L204.6,602.9 L202.2,602.1 L199.9,601.4 L197.5,600.9 L195.2,600.6 L192.8,600.4 L190.4,600.5 L188.1,600.8 L185.7,601.2 L183.4,601.8 L181,602.5 L178.7,603.4 L176.3,604.3 L174,605.2 L171.6,606.2 L169.3,607.2 L166.9,608.3 L164.6,609.3 L162.2,610.2 L159.9,611.2 L157.5,612.1 L155.1,613 L152.8,613.8 L150.4,614.6 L148.1,615.3 L145.7,616 L143.4,616.6 L141,617.2 L138.7,617.8 L136.3,618.3 L134,618.7 L131.6,619.2 L129.3,619.6 L126.9,620 L124.6,620.3 L122.2,620.6 L119.8,620.9 L117.5,621.2 L115.1,621.4 L112.8,621.6 L110.4,621.9 L108.1,622 L105.7,622.2 L103.4,622.4 L101,622.5 L98.7,622.7 L96.3,622.8 L94,622.9 L91.6,623 L89.3,623.1 L86.9,623.2 L84.5,623.3 L82.2,623.4 L79.8,623.5 L77.5,623.6 L75.1,623.6 L72.8,623.7 L70.4,623.8 L68.1,623.8 L65.7,623.9 L63.4,623.9 L61,624 L58.7,624 L56.3,624.1 L54,624.1 L51.6,624.2 Z" fill="#6495ed"/>
<path d="M51.6,619 L54,618.8 L56.3,618.6 L58.7,618.4 L61,618.1 L63.4,617.9 L65.7,617.6 L68.1,617.4 L70.4,617.1 L72.8,616.8 L75.1,616.5 L77.5,616.1 L79.8,615.8 L82.2,615.4 L84.5,615 L86.9,614.6 L89.3,614.2 L91.6,613.7 L94,613.3 L96.3,612.7 L98.7,612.2 L101,611.6 L103.4,611 L105.7,610.4 L108.1,609.7 L110.4,608.9 L112.8,608.2 L115.1,607.3 L117.5,606.5 L119.8,605.5 L122.2,604.5 L124.6,603.4 L126.9,602.3 L129.3,601 L131.6,599.7 L134,598.3 L136.3,596.8 L138.7,595.2 L141,593.5 L143.4,591.6 L145.7,589.7 L148.1,587.6 L150.4,585.4 L152.8,583.1 L155.1,580.6 L157.5,578 L159.9,575.2 L162.2,572.4 L164.6,569.5 L166.9,566.5 L169.3,563.5 L171.6,560.5 L174,557.5 L176.3,554.7 L178.7,552 L181,549.6 L183.4,547.5 L185.7,545.8 L188.1,544.5 L190.4,543.8 L192.8,543.5 L195.2,543.7 L197.5,544.4 L199.9,545.4 L202.2,546.9 L204.6,548.6 L206.9,550.7 L209.3,553 L211.6,555.6 L214,558.3 L216.3,561.2 L218.7,564.1 L221,567.1 L223.4,570.1 L225.7,573.1 L228.1,576.1 L230.5,579 L232.8,581.8 L235.2,584.6 L237.5,587.2 L239.9,589.8 L242.2,592.3 L244.6,594.6 L246.9,596.8 L249.3,598.8 L251.6,600.8 L254,602.6 L256.3,604.3 L258.7,605.9 L261,607.4 L263.4,608.7 L265.8,610 L268.1,611.1 L270.5,612.1 L272.8,613.1 L275.2,614 L277.5,614.8 L279.9,615.5 L282.2,616.1 L284.6,616.7 L286.9,617.3 L289.3,617.8 L291.6,618.2 L294,618.6 L296.3,619 L298.7,619.3 L301.1,619.6 L303.4,619.9 L305.8,620.2 L308.1,620.4 L310.5,620.6 L312.8,620.8 L315.2,621 L317.5,621.2 L319.9,621.3 L322.2,621.5 L324.6,621.6 L326.9,621.7 L329.3,621.9 L331.6,622 L334,622.1" fill="none" stroke="#2020ff" stroke-width="0.85"/>
<path d="M51.6,624.2 L54,624.1 L56.3,624.1 L58.7,624 L61,624 L63.4,623.9 L65.7,623.9 L68.1,623.8 L70.4,623.8 L72.8,623.7 L75.1,623.6 L77.5,623.6 L79.8,623.5 L82.2,623.4 L84.5,623.3 L86.9,623.2 L89.3,623.1 L91.6,623 L94,622.9 L96.3,622.8 L98.7,622.7 L101,622.5 L103.4,622.4 L105.7,622.2 L108.1,622 L110.4,621.9 L112.8,621.6 L115.1,621.4 L117.5,621.2 L119.8,620.9 L122.2,620.6 L124.6,620.3 L126.9,620 L129.3,619.6 L131.6,619.2 L134,618.7 L136.3,618.3 L138.7,617.8 L141,617.2 L143.4,616.6 L145.7,616 L148.1,615.3 L150.4,614.6 L152.8,613.8 L155.1,613 L157.5,612.1 L159.9,611.2 L162.2,610.2 L164.6,609.3 L166.9,608.3 L169.3,607.2 L171.6,606.2 L174,605.2 L176.3,604.3 L178.7,603.4 L181,602.5 L183.4,601.8 L185.7,601.2 L188.1,600.8 L190.4,600.5 L192.8,600.4 L195.2,600.6 L197.5,600.9 L199.9,601.4 L202.2,602.1 L204.6,602.9 L206.9,603.8 L209.3,604.8 L211.6,605.9 L214,607 L216.3,608.1 L218.7,609.2 L221,610.3 L223.4,611.3 L225.7,612.2 L228.1,613.2 L230.5,614 L232.8,614.9 L235.2,615.6 L237.5,616.3 L239.9,617 L242.2,617.6 L244.6,618.2 L246.9,618.7 L249.3,619.2 L251.6,619.6 L254,620 L256.3,620.4 L258.7,620.7 L261,621 L263.4,621.3 L265.8,621.5 L268.1,621.8 L270.5,622 L272.8,622.2 L275.2,622.4 L277.5,622.5 L279.9,622.7 L282.2,622.8 L284.6,622.9 L286.9,623.1 L289.3,623.2 L291.6,623.3 L294,623.4 L296.3,623.5 L298.7,623.5 L301.1,623.6 L303.4,623.7 L305.8,623.8 L308.1,623.8 L310.5,623.9 L312.8,623.9 L315.2,624 L317.5,624.1 L319.9,624.1 L322.2,624.1 L324.6,624.2 L326.9,624.2 L329.3,624.3 L331.6,624.3 L334,624.4" fill="none" stroke="#ff2020" stroke-width="0.85"/>
<path d="M51.6,625.3 L54,625.3 L56.3,625.2 L58.7,625.2 L61,625.2 L63.4,625.2 L65.7,625.2 L68.1,625.2 L70.4,625.2 L72.8,625.2 L75.1,625.1 L77.5,625.1 L79.8,625.1 L82.2,625.1 L84.5,625 L86.9,625 L89.3,625 L91.6,625 L94,624.9 L96.3,624.9 L98.7,624.9 L101,624.8 L103.4,624.8 L105.7,624.7 L108.1,624.7 L110.4,624.6 L112.8,624.5 L115.1,624.4 L117.5,624.4 L119.8,624.3 L122.2,624.2 L124.6,624.1 L126.9,623.9 L129.3,623.8 L131.6,623.6 L134,623.5 L136.3,623.3 L138.7,623.1 L141,622.9 L143.4,622.7 L145.7,622.6 L148.1,622.4 L150.4,622.2 L152.8,622.1 L155.1,622 L157.5,621.9 L159.9,621.9 L162.2,622 L164.6,622.1 L166.9,622.2 L169.3,622.3 L171.6,622.5 L174,622.7 L176.3,622.9 L178.7,623.1 L181,623.3 L183.4,623.5 L185.7,623.6 L188.1,623.8 L190.4,623.9 L192.8,624 L195.2,624.1 L197.5,624.3 L199.9,624.3 L202.2,624.4 L204.6,624.5 L206.9,624.6 L209.3,624.6 L211.6,624.7 L214,624.8 L216.3,624.8 L218.7,624.8 L221,624.9 L223.4,624.9 L225.7,625 L228.1,625 L230.5,625 L232.8,625 L235.2,625.1 L237.5,625.1 L239.9,625.1 L242.2,625.1 L244.6,625.1 L246.9,625.2 L249.3,625.2 L251.6,625.2 L254,625.2 L256.3,625.2 L258.7,625.2 L261,625.2 L263.4,625.3 L265.8,625.3 L268.1,625.3 L270.5,625.3 L272.8,625.3 L275.2,625.3 L277.5,625.3 L279.9,625.3 L282.2,625.3 L284.6,625.3 L286.9,625.3 L289.3,625.3 L291.6,625.3 L294,625.4 L296.3,625.4 L298.7,625.4 L301.1,625.4 L303.4,625.4 L305.8,625.4 L308.1,625.4 L310.5,625.4 L312.8,625.4 L315.2,625.4 L317.5,625.4 L319.9,625.4 L322.2,625.4 L324.6,625.4 L326.9,625.4 L329.3,625.4 L331.6,625.4 L334,625.4 L334,627.5 L51.6,627.5 Z" fill="#fff"/>
<path d="M51.6,625.3 L54,625.3 L56.3,625.2 L58.7,625.2 L61,625.2 L63.4,625.2 L65.7,625.2 L68.1,625.2 L70.4,625.2 L72.8,625.2 L75.1,625.1 L77.5,625.1 L79.8,625.1 L82.2,625.1 L84.5,625 L86.9,625 L89.3,625 L91.6,625 L94,624.9 L96.3,624.9 L98.7,624.9 L101,624.8 L103.4,624.8 L105.7,624.7 L108.1,624.7 L110.4,624.6 L112.8,624.5 L115.1,624.4 L117.5,624.4 L119.8,624.3 L122.2,624.2 L124.6,624.1 L126.9,623.9 L129.3,623.8 L131.6,623.6 L134,623.5 L136.3,623.3 L138.7,623.1 L141,622.9 L143.4,622.7 L145.7,622.6 L148.1,622.4 L150.4,622.2 L152.8,622.1 L155.1,622 L157.5,621.9 L159.9,621.9 L162.2,622 L164.6,622.1 L166.9,622.2 L169.3,622.3 L171.6,622.5 L174,622.7 L176.3,622.9 L178.7,623.1 L181,623.3 L183.4,623.5 L185.7,623.6 L188.1,623.8 L190.4,623.9 L192.8,624 L195.2,624.1 L197.5,624.3 L199.9,624.3 L202.2,624.4 L204.6,624.5 L206.9,624.6 L209.3,624.6 L211.6,624.7 L214,624.8 L216.3,624.8 L218.7,624.8 L221,624.9 L223.4,624.9 L225.7,625 L228.1,625 L230.5,625 L232.8,625 L235.2,625.1 L237.5,625.1 L239.9,625.1 L242.2,625.1 L244.6,625.1 L246.9,625.2 L249.3,625.2 L251.6,625.2 L254,625.2 L256.3,625.2 L258.7,625.2 L261,625.2 L263.4,625.3 L265.8,625.3 L268.1,625.3 L270.5,625.3 L272.8,625.3 L275.2,625.3 L277.5,625.3 L279.9,625.3 L282.2,625.3 L284.6,625.3 L286.9,625.3 L289.3,625.3 L291.6,625.3 L294,625.4 L296.3,625.4 L298.7,625.4 L301.1,625.4 L303.4,625.4 L305.8,625.4 L308.1,625.4 L310.5,625.4 L312.8,625.4 L315.2,625.4 L317.5,625.4 L319.9,625.4 L322.2,625.4 L324.6,625.4 L326.9,625.4 L329.3,625.4 L331.6,625.4 L334,625.4 L334,625.4 L331.6,625.4 L329.3,625.4 L326.9,625.4 L324.6,625.4 L322.2,625.4 L319.9,625.4 L317.5,625.3 L315.2,625.3 L312.8,625.3 L310.5,625.3 L308.1,625.3 L305.8,625.3 L303.4,625.3 L301.1,625.3 L298.7,625.3 L296.3,625.3 L294,625.3 L291.6,625.3 L289.3,625.3 L286.9,625.3 L284.6,625.3 L282.2,625.3 L279.9,625.2 L277.5,625.2 L275.2,625.2 L272.8,625.2 L270.5,625.2 L268.1,625.2 L265.8,625.2 L263.4,625.2 L261,625.1 L258.7,625.1 L256.3,625.1 L254,625.1 L251.6,625.1 L249.3,625.1 L246.9,625 L244.6,625 L242.2,625 L239.9,625 L237.5,624.9 L235.2,624.9 L232.8,624.9 L230.5,624.8 L228.1,624.8 L225.7,624.7 L223.4,624.7 L221,624.6 L218.7,624.6 L216.3,624.5 L214,624.5 L211.6,624.4 L209.3,624.3 L206.9,624.2 L204.6,624.1 L202.2,624 L199.9,623.9 L197.5,623.8 L195.2,623.6 L192.8,623.4 L190.4,623.3 L188.1,623.1 L185.7,622.9 L183.4,622.6 L181,622.4 L178.7,622.1 L176.3,621.9 L174,621.6 L171.6,621.3 L169.3,621.1 L166.9,620.9 L164.6,620.7 L162.2,620.6 L159.9,620.5 L157.5,620.5 L155.1,620.6 L152.8,620.7 L150.4,620.9 L148.1,621.1 L145.7,621.4 L143.4,621.6 L141,621.9 L138.7,622.2 L136.3,622.4 L134,622.7 L131.6,622.9 L129.3,623.1 L126.9,623.3 L124.6,623.5 L122.2,623.6 L119.8,623.8 L117.5,623.9 L115.1,624 L112.8,624.1 L110.4,624.2 L108.1,624.3 L105.7,624.4 L103.4,624.5 L101,624.5 L98.7,624.6 L96.3,624.7 L94,624.7 L91.6,624.7 L89.3,624.8 L86.9,624.8 L84.5,624.9 L82.2,624.9 L79.8,624.9 L77.5,625 L75.1,625 L72.8,625 L70.4,625 L68.1,625.1 L65.7,625.1 L63.4,625.1 L61,625.1 L58.7,625.1 L56.3,625.1 L54,625.2 L51.6,625.2 Z" fill="#e9967a"/>
<path d="M51.6,625.3 L54,625.3 L56.3,625.2 L58.7,625.2 L61,625.2 L63.4,625.2 L65.7,625.2 L68.1,625.2 L70.4,625.2 L72.8,625.2 L75.1,625.1 L77.5,625.1 L79.8,625.1 L82.2,625.1 L84.5,625 L86.9,625 L89.3,625 L91.6,625 L94,624.9 L96.3,624.9 L98.7,624.9 L101,624.8 L103.4,624.8 L105.7,624.7 L108.1,624.7 L110.4,624.6 L112.8,624.5 L115.1,624.4 L117.5,624.4 L119.8,624.3 L122.2,624.2 L124.6,624.1 L126.9,623.9 L129.3,623.8 L131.6,623.6 L134,623.5 L136.3,623.3 L138.7,623.1 L141,622.9 L143.4,622.7 L145.7,622.6 L148.1,622.4 L150.4,622.2 L152.8,622.1 L155.1,622 L157.5,621.9 L159.9,621.9 L162.2,622 L164.6,622.1 L166.9,622.2 L169.3,622.3 L171.6,622.5 L174,622.7 L176.3,622.9 L178.7,623.1 L181,623.3 L183.4,623.5 L185.7,623.6 L188.1,623.8 L190.4,623.9 L192.8,624 L195.2,624.1 L197.5,624.3 L199.9,624.3 L202.2,624.4 L204.6,624.5 L206.9,624.6 L209.3,624.6 L211.6,624.7 L214,624.8 L216.3,624.8 L218.7,624.8 L221,624.9 L223.4,624.9 L225.7,625 L228.1,625 L230.5,625 L232.8,625 L235.2,625.1 L237.5,625.1 L239.9,625.1 L242.2,625.1 L244.6,625.1 L246.9,625.2 L249.3,625.2 L251.6,625.2 L254,625.2 L256.3,625.2 L258.7,625.2 L261,625.2 L263.4,625.3 L265.8,625.3 L268.1,625.3 L270.5,625.3 L272.8,625.3 L275.2,625.3 L277.5,625.3 L279.9,625.3 L282.2,625.3 L284.6,625.3 L286.9,625.3 L289.3,625.3 L291.6,625.3 L294,625.4 L296.3,625.4 L298.7,625.4 L301.1,625.4 L303.4,625.4 L305.8,625.4 L308.1,625.4 L310.5,625.4 L312.8,625.4 L315.2,625.4 L317.5,625.4 L319.9,625.4 L322.2,625.4 L324.6,625.4 L326.9,625.4 L329.3,625.4 L331.6,625.4 L334,625.4" fill="none" stroke="#2020ff" stroke-width="0.85"/>
<path d="M51.6,625.2 L54,625.2 L56.3,625.1 L58.7,625.1 L61,625.1 L63.4,625.1 L65.7,625.1 L68.1,625.1 L70.4,625 L72.8,625 L75.1,625 L77.5,625 L79.8,624.9 L82.2,624.9 L84.5,624.9 L86.9,624.8 L89.3,624.8 L91.6,624.7 L94,624.7 L96.3,624.7 L98.7,624.6 L101,624.5 L103.4,624.5 L105.7,624.4 L108.1,624.3 L110.4,624.2 L112.8,624.1 L115.1,624 L117.5,623.9 L119.8,623.8 L122.2,623.6 L124.6,623.5 L126.9,623.3 L129.3,623.1 L131.6,622.9 L134,622.7 L136.3,622.4 L138.7,622.2 L141,621.9 L143.4,621.6 L145.7,621.4 L148.1,621.1 L150.4,620.9 L152.8,620.7 L155.1,620.6 L157.5,620.5 L159.9,620.5 L162.2,620.6 L164.6,620.7 L166.9,620.9 L169.3,621.1 L171.6,621.3 L174,621.6 L176.3,621.9 L178.7,622.1 L181,622.4 L183.4,622.6 L185.7,622.9 L188.1,623.1 L190.4,623.3 L192.8,623.4 L195.2,623.6 L197.5,623.8 L199.9,623.9 L202.2,624 L204.6,624.1 L206.9,624.2 L209.3,624.3 L211.6,624.4 L214,624.5 L216.3,624.5 L218.7,624.6 L221,624.6 L223.4,624.7 L225.7,624.7 L228.1,624.8 L230.5,624.8 L232.8,624.9 L235.2,624.9 L237.5,624.9 L239.9,625 L242.2,625 L244.6,625 L246.9,625 L249.3,625.1 L251.6,625.1 L254,625.1 L256.3,625.1 L258.7,625.1 L261,625.1 L263.4,625.2 L265.8,625.2 L268.1,625.2 L270.5,625.2 L272.8,625.2 L275.2,625.2 L277.5,625.2 L279.9,625.2 L282.2,625.3 L284.6,625.3 L286.9,625.3 L289.3,625.3 L291.6,625.3 L294,625.3 L296.3,625.3 L298.7,625.3 L301.1,625.3 L303.4,625.3 L305.8,625.3 L308.1,625.3 L310.5,625.3 L312.8,625.3 L315.2,625.3 L317.5,625.3 L319.9,625.4 L322.2,625.4 L324.6,625.4 L326.9,625.4 L329.3,625.4 L331.6,625.4 L334,625.4" fill="none" stroke="#ff2020" stroke-width="0.85"/>
<path d="M51.6,625 L54,625 L56.3,625 L58.7,624.9 L61,624.9 L63.4,624.9 L65.7,624.8 L68.1,624.8 L70.4,624.7 L72.8,624.7 L75.1,624.6 L77.5,624.6 L79.8,624.5 L82.2,624.4 L84.5,624.3 L86.9,624.2 L89.3,624.1 L91.6,624 L94,623.9 L96.3,623.7 L98.7,623.6 L101,623.4 L103.4,623.2 L105.7,623 L108.1,622.8 L110.4,622.5 L112.8,622.3 L115.1,622 L117.5,621.7 L119.8,621.5 L122.2,621.2 L124.6,621 L126.9,620.8 L129.3,620.6 L131.6,620.5 L134,620.5 L136.3,620.5 L138.7,620.6 L141,620.8 L143.4,621 L145.7,621.3 L148.1,621.6 L150.4,621.9 L152.8,622.2 L155.1,622.4 L157.5,622.7 L159.9,622.9 L162.2,623.2 L164.6,623.4 L166.9,623.6 L169.3,623.7 L171.6,623.9 L174,624 L176.3,624.2 L178.7,624.3 L181,624.4 L183.4,624.5 L185.7,624.5 L188.1,624.6 L190.4,624.7 L192.8,624.7 L195.2,624.8 L197.5,624.8 L199.9,624.9 L202.2,624.9 L204.6,624.9 L206.9,625 L209.3,625 L211.6,625 L214,625.1 L216.3,625.1 L218.7,625.1 L221,625.1 L223.4,625.1 L225.7,625.2 L228.1,625.2 L230.5,625.2 L232.8,625.2 L235.2,625.2 L237.5,625.2 L239.9,625.2 L242.2,625.2 L244.6,625.3 L246.9,625.3 L249.3,625.3 L251.6,625.3 L254,625.3 L256.3,625.3 L258.7,625.3 L261,625.3 L263.4,625.3 L265.8,625.3 L268.1,625.3 L270.5,625.3 L272.8,625.3 L275.2,625.3 L277.5,625.4 L279.9,625.4 L282.2,625.4 L284.6,625.4 L286.9,625.4 L289.3,625.4 L291.6,625.4 L294,625.4 L296.3,625.4 L298.7,625.4 L301.1,625.4 L303.4,625.4 L305.8,625.4 L308.1,625.4 L310.5,625.4 L312.8,625.4 L315.2,625.4 L317.5,625.4 L319.9,625.4 L322.2,625.4 L324.6,625.4 L326.9,625.4 L329.3,625.4 L331.6,625.4 L334,625.4 L334,627.5 L51.6,627.5 Z" fill="#fff"/>
<path d="M51.6,625 L54,625 L56.3,625 L58.7,624.9 L61,624.9 L63.4,624.9 L65.7,624.8 L68.1,624.8 L70.4,624.7 L72.8,624.7 L75.1,624.6 L77.5,624.6 L79.8,624.5 L82.2,624.4 L84.5,624.3 L86.9,624.2 L89.3,624.1 L91.6,624 L94,623.9 L96.3,623.7 L98.7,623.6 L101,623.4 L103.4,623.2 L105.7,623 L108.1,622.8 L110.4,622.5 L112.8,622.3 L115.1,622 L117.5,621.7 L119.8,621.5 L122.2,621.2 L124.6,621 L126.9,620.8 L129.3,620.6 L131.6,620.5 L134,620.5 L136.3,620.5 L138.7,620.6 L141,620.8 L143.4,621 L145.7,621.3 L148.1,621.6 L150.4,621.9 L152.8,622.2 L155.1,622.4 L157.5,622.7 L159.9,622.9 L162.2,623.2 L164.6,623.4 L166.9,623.6 L169.3,623.7 L171.6,623.9 L174,624 L176.3,624.2 L178.7,624.3 L181,624.4 L183.4,624.5 L185.7,624.5 L188.1,624.6 L190.4,624.7 L192.8,624.7 L195.2,624.8 L197.5,624.8 L199.9,624.9 L202.2,624.9 L204.6,624.9 L206.9,625 L209.3,625 L211.6,625 L214,625.1 L216.3,625.1 L218.7,625.1 L221,625.1 L223.4,625.1 L225.7,625.2 L228.1,625.2 L230.5,625.2 L232.8,625.2 L235.2,625.2 L237.5,625.2 L239.9,625.2 L242.2,625.2 L244.6,625.3 L246.9,625.3 L249.3,625.3 L251.6,625.3 L254,625.3 L256.3,625.3 L258.7,625.3 L261,625.3 L263.4,625.3 L265.8,625.3 L268.1,625.3 L270.5,625.3 L272.8,625.3 L275.2,625.3 L277.5,625.4 L279.9,625.4 L282.2,625.4 L284.6,625.4 L286.9,625.4 L289.3,625.4 L291.6,625.4 L294,625.4 L296.3,625.4 L298.7,625.4 L301.1,625.4 L303.4,625.4 L305.8,625.4 L308.1,625.4 L310.5,625.4 L312.8,625.4 L315.2,625.4 L317.5,625.4 L319.9,625.4 L322.2,625.4 L324.6,625.4 L326.9,625.4 L329.3,625.4 L331.6,625.4 L334,625.4 L334,625.3 L331.6,625.2 L329.3,625.2 L326.9,625.2 L324.6,625.2 L322.2,625.2 L319.9,625.2 L317.5,625.2 L315.2,625.2 L312.8,625.2 L310.5,625.2 L308.1,625.2 L305.8,625.2 L303.4,625.2 L301.1,625.2 L298.7,625.1 L296.3,625.1 L294,625.1 L291.6,625.1 L289.3,625.1 L286.9,625.1 L284.6,625.1 L282.2,625.1 L279.9,625 L277.5,625 L275.2,625 L272.8,625 L270.5,625 L268.1,625 L265.8,624.9 L263.4,624.9 L261,624.9 L258.7,624.9 L256.3,624.9 L254,624.8 L251.6,624.8 L249.3,624.8 L246.9,624.8 L244.6,624.7 L242.2,624.7 L239.9,624.7 L237.5,624.6 L235.2,624.6 L232.8,624.5 L230.5,624.5 L228.1,624.4 L225.7,624.4 L223.4,624.3 L221,624.3 L218.7,624.2 L216.3,624.1 L214,624.1 L211.6,624 L209.3,623.9 L206.9,623.8 L204.6,623.7 L202.2,623.6 L199.9,623.5 L197.5,623.3 L195.2,623.2 L192.8,623 L190.4,622.8 L188.1,622.6 L185.7,622.4 L183.4,622.1 L181,621.8 L178.7,621.5 L176.3,621.1 L174,620.7 L171.6,620.2 L169.3,619.7 L166.9,619 L164.6,618.4 L162.2,617.6 L159.9,616.8 L157.5,615.9 L155.1,614.9 L152.8,613.8 L150.4,612.7 L148.1,611.5 L145.7,610.4 L143.4,609.3 L141,608.4 L138.7,607.7 L136.3,607.2 L134,607 L131.6,607.1 L129.3,607.5 L126.9,608 L124.6,608.6 L122.2,609.4 L119.8,610.3 L117.5,611.2 L115.1,612.2 L112.8,613.1 L110.4,614 L108.1,614.9 L105.7,615.7 L103.4,616.4 L101,617.1 L98.7,617.8 L96.3,618.4 L94,619 L91.6,619.5 L89.3,619.9 L86.9,620.3 L84.5,620.7 L82.2,621.1 L79.8,621.4 L77.5,621.7 L75.1,621.9 L72.8,622.2 L70.4,622.4 L68.1,622.6 L65.7,622.7 L63.4,622.9 L61,623.1 L58.7,623.2 L56.3,623.3 L54,623.4 L51.6,623.5 Z" fill="#f08080"/>
<path d="M51.6,625 L54,625 L56.3,625 L58.7,624.9 L61,624.9 L63.4,624.9 L65.7,624.8 L68.1,624.8 L70.4,624.7 L72.8,624.7 L75.1,624.6 L77.5,624.6 L79.8,624.5 L82.2,624.4 L84.5,624.3 L86.9,624.2 L89.3,624.1 L91.6,624 L94,623.9 L96.3,623.7 L98.7,623.6 L101,623.4 L103.4,623.2 L105.7,623 L108.1,622.8 L110.4,622.5 L112.8,622.3 L115.1,622 L117.5,621.7 L119.8,621.5 L122.2,621.2 L124.6,621 L126.9,620.8 L129.3,620.6 L131.6,620.5 L134,620.5 L136.3,620.5 L138.7,620.6 L141,620.8 L143.4,621 L145.7,621.3 L148.1,621.6 L150.4,621.9 L152.8,622.2 L155.1,622.4 L157.5,622.7 L159.9,622.9 L162.2,623.2 L164.6,623.4 L166.9,623.6 L169.3,623.7 L171.6,623.9 L174,624 L176.3,624.2 L178.7,624.3 L181,624.4 L183.4,624.5 L185.7,624.5 L188.1,624.6 L190.4,624.7 L192.8,624.7 L195.2,624.8 L197.5,624.8 L199.9,624.9 L202.2,624.9 L204.6,624.9 L206.9,625 L209.3,625 L211.6,625 L214,625.1 L216.3,625.1 L218.7,625.1 L221,625.1 L223.4,625.1 L225.7,625.2 L228.1,625.2 L230.5,625.2 L232.8,625.2 L235.2,625.2 L237.5,625.2 L239.9,625.2 L242.2,625.2 L244.6,625.3 L246.9,625.3 L249.3,625.3 L251.6,625.3 L254,625.3 L256.3,625.3 L258.7,625.3 L261,625.3 L263.4,625.3 L265.8,625.3 L268.1,625.3 L270.5,625.3 L272.8,625.3 L275.2,625.3 L277.5,625.4 L279.9,625.4 L282.2,625.4 L284.6,625.4 L286.9,625.4 L289.3,625.4 L291.6,625.4 L294,625.4 L296.3,625.4 L298.7,625.4 L301.1,625.4 L303.4,625.4 L305.8,625.4 L308.1,625.4 L310.5,625.4 L312.8,625.4 L315.2,625.4 L317.5,625.4 L319.9,625.4 L322.2,625.4 L324.6,625.4 L326.9,625.4 L329.3,625.4 L331.6,625.4 L334,625.4" fill="none" stroke="#2020ff" stroke-width="0.85"/>
<path d="M51.6,623.5 L54,623.4 L56.3,623.3 L58.7,623.2 L61,623.1 L63.4,622.9 L65.7,622.7 L68.1,622.6 L70.4,622.4 L72.8,622.2 L75.1,621.9 L77.5,621.7 L79.8,621.4 L82.2,621.1 L84.5,620.7 L86.9,620.3 L89.3,619.9 L91.6,619.5 L94,619 L96.3,618.4 L98.7,617.8 L101,617.1 L103.4,616.4 L105.7,615.7 L108.1,614.9 L110.4,614 L112.8,613.1 L115.1,612.2 L117.5,611.2 L119.8,610.3 L122.2,609.4 L124.6,608.6 L126.9,608 L129.3,607.5 L131.6,607.1 L134,607 L136.3,607.2 L138.7,607.7 L141,608.4 L143.4,609.3 L145.7,610.4 L148.1,611.5 L150.4,612.7 L152.8,613.8 L155.1,614.9 L157.5,615.9 L159.9,616.8 L162.2,617.6 L164.6,618.4 L166.9,619 L169.3,619.7 L171.6,620.2 L174,620.7 L176.3,621.1 L178.7,621.5 L181,621.8 L183.4,622.1 L185.7,622.4 L188.1,622.6 L190.4,622.8 L192.8,623 L195.2,623.2 L197.5,623.3 L199.9,623.5 L202.2,623.6 L204.6,623.7 L206.9,623.8 L209.3,623.9 L211.6,624 L214,624.1 L216.3,624.1 L218.7,624.2 L221,624.3 L223.4,624.3 L225.7,624.4 L228.1,624.4 L230.5,624.5 L232.8,624.5 L235.2,624.6 L237.5,624.6 L239.9,624.7 L242.2,624.7 L244.6,624.7 L246.9,624.8 L249.3,624.8 L251.6,624.8 L254,624.8 L256.3,624.9 L258.7,624.9 L261,624.9 L263.4,624.9 L265.8,624.9 L268.1,625 L270.5,625 L272.8,625 L275.2,625 L277.5,625 L279.9,625 L282.2,625.1 L284.6,625.1 L286.9,625.1 L289.3,625.1 L291.6,625.1 L294,625.1 L296.3,625.1 L298.7,625.1 L301.1,625.2 L303.4,625.2 L305.8,625.2 L308.1,625.2 L310.5,625.2 L312.8,625.2 L315.2,625.2 L317.5,625.2 L319.9,625.2 L322.2,625.2 L324.6,625.2 L326.9,625.2 L329.3,625.2 L331.6,625.2 L334,625.3" fill="none" stroke="#ff2020" stroke-width="0.85"/>
<path d="M51.6,617.4 L54,617.2 L56.3,617 L58.7,616.8 L61,616.6 L63.4,616.4 L65.7,616.2 L68.1,615.9 L70.4,615.6 L72.8,615.3 L75.1,615 L77.5,614.6 L79.8,614.2 L82.2,613.8 L84.5,613.3 L86.9,612.8 L89.3,612.2 L91.6,611.6 L94,610.9 L96.3,610.2 L98.7,609.4 L101,608.6 L103.4,607.7 L105.7,606.7 L108.1,605.6 L110.4,604.5 L112.8,603.3 L115.1,602 L117.5,600.6 L119.8,599.2 L122.2,597.7 L124.6,596.2 L126.9,594.6 L129.3,592.9 L131.6,591.2 L134,589.4 L136.3,587.6 L138.7,585.7 L141,583.7 L143.4,581.7 L145.7,579.6 L148.1,577.4 L150.4,575.2 L152.8,572.8 L155.1,570.4 L157.5,567.9 L159.9,565.3 L162.2,562.6 L164.6,559.9 L166.9,557.1 L169.3,554.2 L171.6,551.4 L174,548.7 L176.3,546 L178.7,543.6 L181,541.4 L183.4,539.5 L185.7,538.1 L188.1,537 L190.4,536.5 L192.8,536.5 L195.2,537 L197.5,538.1 L199.9,539.6 L202.2,541.5 L204.6,543.8 L206.9,546.4 L209.3,549.1 L211.6,552.1 L214,555.1 L216.3,558.1 L218.7,561.1 L221,564 L223.4,566.9 L225.7,569.7 L228.1,572.4 L230.5,574.9 L232.8,577.4 L235.2,579.7 L237.5,581.8 L239.9,583.9 L242.2,585.8 L244.6,587.6 L246.9,589.3 L249.3,590.9 L251.6,592.4 L254,593.7 L256.3,595 L258.7,596.2 L261,597.3 L263.4,598.4 L265.8,599.3 L268.1,600.2 L270.5,601 L272.8,601.8 L275.2,602.5 L277.5,603.1 L279.9,603.7 L282.2,604.3 L284.6,604.8 L286.9,605.3 L289.3,605.7 L291.6,606.1 L294,606.5 L296.3,606.8 L298.7,607.1 L301.1,607.4 L303.4,607.7 L305.8,607.9 L308.1,608.1 L310.5,608.3 L312.8,608.5 L315.2,608.7 L317.5,608.9 L319.9,609.1 L322.2,609.2 L324.6,609.4 L326.9,609.5 L329.3,609.6 L331.6,609.8 L334,609.9" fill="none" stroke="#0000ff" stroke-width="1.25"/>
<path d="M51.6,620.8 L54,620.6 L56.3,620.4 L58.7,620.2 L61,620 L63.4,619.7 L65.7,619.5 L68.1,619.2 L70.4,618.9 L72.8,618.5 L75.1,618.1 L77.5,617.7 L79.8,617.3 L82.2,616.8 L84.5,616.3 L86.9,615.7 L89.3,615.1 L91.6,614.4 L94,613.7 L96.3,612.9 L98.7,612 L101,611.1 L103.4,610.1 L105.7,609 L108.1,607.8 L110.4,606.6 L112.8,605.3 L115.1,603.9 L117.5,602.4 L119.8,600.9 L122.2,599.4 L124.6,597.8 L126.9,596.3 L129.3,594.8 L131.6,593.4 L134,592.1 L136.3,591 L138.7,590 L141,589.3 L143.4,588.7 L145.7,588.3 L148.1,588.1 L150.4,588 L152.8,588 L155.1,588.1 L157.5,588.1 L159.9,588.1 L162.2,588.1 L164.6,588 L166.9,587.9 L169.3,587.7 L171.6,587.4 L174,587.1 L176.3,586.9 L178.7,586.6 L181,586.4 L183.4,586.3 L185.7,586.4 L188.1,586.6 L190.4,586.9 L192.8,587.4 L195.2,588.1 L197.5,588.8 L199.9,589.7 L202.2,590.6 L204.6,591.5 L206.9,592.4 L209.3,593.3 L211.6,594.1 L214,594.9 L216.3,595.7 L218.7,596.4 L221,597 L223.4,597.6 L225.7,598.2 L228.1,598.8 L230.5,599.3 L232.8,599.8 L235.2,600.3 L237.5,600.9 L239.9,601.4 L242.2,602 L244.6,602.6 L246.9,603.2 L249.3,603.7 L251.6,604.3 L254,604.9 L256.3,605.4 L258.7,606 L261,606.5 L263.4,606.9 L265.8,607.4 L268.1,607.8 L270.5,608.2 L272.8,608.5 L275.2,608.8 L277.5,609.1 L279.9,609.4 L282.2,609.6 L284.6,609.8 L286.9,609.9 L289.3,610.1 L291.6,610.2 L294,610.3 L296.3,610.3 L298.7,610.4 L301.1,610.4 L303.4,610.4 L305.8,610.4 L308.1,610.4 L310.5,610.4 L312.8,610.4 L315.2,610.4 L317.5,610.4 L319.9,610.4 L322.2,610.4 L324.6,610.4 L326.9,610.4 L329.3,610.4 L331.6,610.4 L334,610.4" fill="none" stroke="#ff0000" stroke-width="1.25"/>
</g>
<g clip-path="url(#clc)">
<line x1="51.6" y1="663" x2="334" y2="663" stroke="#555" stroke-width="0.8" stroke-dasharray="3.2,2.3"/>
<path d="M51.6,661.4 L54,661.5 L56.3,661.6 L58.7,661.6 L61,661.6 L63.4,661.7 L65.7,661.7 L68.1,661.6 L70.4,661.6 L72.8,661.6 L75.1,661.6 L77.5,661.5 L79.8,661.5 L82.2,661.5 L84.5,661.5 L86.9,661.6 L89.3,661.6 L91.6,661.7 L94,661.7 L96.3,661.8 L98.7,661.9 L101,662.1 L103.4,662.2 L105.7,662.3 L108.1,662.4 L110.4,662.4 L112.8,662.5 L115.1,662.6 L117.5,662.6 L119.8,662.6 L122.2,662.5 L124.6,662.4 L126.9,662.3 L129.3,662.1 L131.6,661.9 L134,661.6 L136.3,661.2 L138.7,660.8 L141,660.3 L143.4,659.7 L145.7,659 L148.1,658.2 L150.4,657.3 L152.8,656.3 L155.1,655.3 L157.5,654.2 L159.9,653.1 L162.2,652 L164.6,650.8 L166.9,649.7 L169.3,648.6 L171.6,647.4 L174,646.4 L176.3,645.4 L178.7,644.4 L181,643.6 L183.4,642.9 L185.7,642.2 L188.1,641.7 L190.4,641.4 L192.8,641.2 L195.2,641.2 L197.5,641.4 L199.9,641.7 L202.2,642.1 L204.6,642.7 L206.9,643.3 L209.3,644.1 L211.6,644.9 L214,645.8 L216.3,646.7 L218.7,647.7 L221,648.6 L223.4,649.6 L225.7,650.5 L228.1,651.5 L230.5,652.3 L232.8,653.1 L235.2,653.9 L237.5,654.6 L239.9,655.2 L242.2,655.8 L244.6,656.3 L246.9,656.8 L249.3,657.3 L251.6,657.7 L254,658.1 L256.3,658.4 L258.7,658.8 L261,659.1 L263.4,659.3 L265.8,659.6 L268.1,659.8 L270.5,660 L272.8,660.2 L275.2,660.4 L277.5,660.6 L279.9,660.7 L282.2,660.9 L284.6,661 L286.9,661.1 L289.3,661.2 L291.6,661.4 L294,661.5 L296.3,661.5 L298.7,661.6 L301.1,661.7 L303.4,661.8 L305.8,661.9 L308.1,662 L310.5,662 L312.8,662.1 L315.2,662.2 L317.5,662.2 L319.9,662.3 L322.2,662.4 L324.6,662.5 L326.9,662.5 L329.3,662.6 L331.6,662.7 L334,662.8" fill="none" stroke="#333" stroke-width="0.8"/>
</g>
<line x1="134" y1="383.6" x2="134" y2="507.1" stroke="#111" stroke-width="1.7" stroke-dasharray="2.8,2.0"/>
<line x1="134" y1="525.2" x2="134" y2="666.4" stroke="#111" stroke-width="1.7" stroke-dasharray="2.8,2.0"/>
<line x1="158.9" y1="383.6" x2="158.9" y2="507.1" stroke="#111" stroke-width="1.7" stroke-dasharray="2.8,2.0"/>
<line x1="158.9" y1="525.2" x2="158.9" y2="666.4" stroke="#111" stroke-width="1.7" stroke-dasharray="2.8,2.0"/>
<line x1="191.8" y1="383.6" x2="191.8" y2="507.1" stroke="#111" stroke-width="1.7" stroke-dasharray="2.8,2.0"/>
<line x1="191.8" y1="525.2" x2="191.8" y2="666.4" stroke="#111" stroke-width="1.7" stroke-dasharray="2.8,2.0"/>
<circle cx="51.6" cy="465.4" r="2.1" fill="#0000ff"/>
<circle cx="61" cy="465.1" r="2.1" fill="#0000ff"/>
<circle cx="70.4" cy="463.1" r="2.1" fill="#0000ff"/>
<circle cx="79.8" cy="460.8" r="2.1" fill="#0000ff"/>
<circle cx="89.2" cy="456.4" r="2.1" fill="#0000ff"/>
<circle cx="98.7" cy="450.5" r="2.1" fill="#0000ff"/>
<circle cx="108.1" cy="444" r="2.1" fill="#0000ff"/>
<circle cx="117.5" cy="435.7" r="2.1" fill="#0000ff"/>
<circle cx="126.9" cy="426" r="2.1" fill="#0000ff"/>
<circle cx="136.3" cy="416.8" r="2.1" fill="#0000ff"/>
<circle cx="145.7" cy="408.8" r="2.1" fill="#0000ff"/>
<circle cx="155.1" cy="405.7" r="2.1" fill="#0000ff"/>
<circle cx="164.5" cy="408.1" r="2.1" fill="#0000ff"/>
<circle cx="173.9" cy="414.5" r="2.1" fill="#0000ff"/>
<circle cx="183.3" cy="421.9" r="2.1" fill="#0000ff"/>
<circle cx="192.7" cy="430.3" r="2.1" fill="#0000ff"/>
<circle cx="202.2" cy="438.2" r="2.1" fill="#0000ff"/>
<circle cx="211.6" cy="445.3" r="2.1" fill="#0000ff"/>
<circle cx="221" cy="451.2" r="2.1" fill="#0000ff"/>
<circle cx="230.4" cy="455.8" r="2.1" fill="#0000ff"/>
<circle cx="239.8" cy="458.2" r="2.1" fill="#0000ff"/>
<circle cx="249.2" cy="460.7" r="2.1" fill="#0000ff"/>
<circle cx="258.6" cy="462.5" r="2.1" fill="#0000ff"/>
<circle cx="268" cy="464" r="2.1" fill="#0000ff"/>
<circle cx="277.4" cy="464.6" r="2.1" fill="#0000ff"/>
<circle cx="286.9" cy="465.6" r="2.1" fill="#0000ff"/>
<circle cx="296.3" cy="466.3" r="2.1" fill="#0000ff"/>
<circle cx="305.7" cy="466.8" r="2.1" fill="#0000ff"/>
<circle cx="315.1" cy="467.1" r="2.1" fill="#0000ff"/>
<circle cx="324.5" cy="467.2" r="2.1" fill="#0000ff"/>
<circle cx="333.9" cy="467.3" r="2.1" fill="#0000ff"/>
<circle cx="51.6" cy="464.1" r="2.1" fill="#ff0000"/>
<circle cx="61" cy="462.7" r="2.1" fill="#ff0000"/>
<circle cx="70.4" cy="461.8" r="2.1" fill="#ff0000"/>
<circle cx="79.8" cy="459.8" r="2.1" fill="#ff0000"/>
<circle cx="89.2" cy="456.4" r="2.1" fill="#ff0000"/>
<circle cx="98.7" cy="452.3" r="2.1" fill="#ff0000"/>
<circle cx="108.1" cy="444.2" r="2.1" fill="#ff0000"/>
<circle cx="117.5" cy="432.7" r="2.1" fill="#ff0000"/>
<circle cx="126.9" cy="419.9" r="2.1" fill="#ff0000"/>
<circle cx="136.3" cy="407.4" r="2.1" fill="#ff0000"/>
<circle cx="145.7" cy="400" r="2.1" fill="#ff0000"/>
<circle cx="155.1" cy="399.2" r="2.1" fill="#ff0000"/>
<circle cx="164.5" cy="405.3" r="2.1" fill="#ff0000"/>
<circle cx="173.9" cy="414.9" r="2.1" fill="#ff0000"/>
<circle cx="183.3" cy="425.7" r="2.1" fill="#ff0000"/>
<circle cx="192.7" cy="434.7" r="2.1" fill="#ff0000"/>
<circle cx="202.2" cy="440.6" r="2.1" fill="#ff0000"/>
<circle cx="211.6" cy="447.9" r="2.1" fill="#ff0000"/>
<circle cx="221" cy="454" r="2.1" fill="#ff0000"/>
<circle cx="230.4" cy="458.4" r="2.1" fill="#ff0000"/>
<circle cx="239.8" cy="463.1" r="2.1" fill="#ff0000"/>
<circle cx="249.2" cy="464.2" r="2.1" fill="#ff0000"/>
<circle cx="258.6" cy="463.6" r="2.1" fill="#ff0000"/>
<circle cx="268" cy="464" r="2.1" fill="#ff0000"/>
<circle cx="277.4" cy="463.7" r="2.1" fill="#ff0000"/>
<circle cx="286.9" cy="465.8" r="2.1" fill="#ff0000"/>
<circle cx="296.3" cy="467.3" r="2.1" fill="#ff0000"/>
<circle cx="305.7" cy="468" r="2.1" fill="#ff0000"/>
<circle cx="315.1" cy="467.3" r="2.1" fill="#ff0000"/>
<circle cx="324.5" cy="467.3" r="2.1" fill="#ff0000"/>
<circle cx="333.9" cy="467.7" r="2.1" fill="#ff0000"/>
<circle cx="51.6" cy="492" r="2.1" fill="#0b6e0b"/>
<circle cx="61" cy="492.7" r="2.1" fill="#0b6e0b"/>
<circle cx="70.4" cy="492.1" r="2.1" fill="#0b6e0b"/>
<circle cx="79.8" cy="491.9" r="2.1" fill="#0b6e0b"/>
<circle cx="89.2" cy="491.3" r="2.1" fill="#0b6e0b"/>
<circle cx="98.7" cy="490.2" r="2.1" fill="#0b6e0b"/>
<circle cx="108.1" cy="491.2" r="2.1" fill="#0b6e0b"/>
<circle cx="117.5" cy="493.1" r="2.1" fill="#0b6e0b"/>
<circle cx="126.9" cy="494.8" r="2.1" fill="#0b6e0b"/>
<circle cx="136.3" cy="496.7" r="2.1" fill="#0b6e0b"/>
<circle cx="145.7" cy="496.4" r="2.1" fill="#0b6e0b"/>
<circle cx="155.1" cy="495" r="2.1" fill="#0b6e0b"/>
<circle cx="164.5" cy="492.9" r="2.1" fill="#0b6e0b"/>
<circle cx="173.9" cy="491.1" r="2.1" fill="#0b6e0b"/>
<circle cx="183.3" cy="489.1" r="2.1" fill="#0b6e0b"/>
<circle cx="192.7" cy="488.8" r="2.1" fill="#0b6e0b"/>
<circle cx="202.2" cy="489.9" r="2.1" fill="#0b6e0b"/>
<circle cx="211.6" cy="489.8" r="2.1" fill="#0b6e0b"/>
<circle cx="221" cy="489.7" r="2.1" fill="#0b6e0b"/>
<circle cx="230.4" cy="489.8" r="2.1" fill="#0b6e0b"/>
<circle cx="239.8" cy="488.5" r="2.1" fill="#0b6e0b"/>
<circle cx="249.2" cy="489.3" r="2.1" fill="#0b6e0b"/>
<circle cx="258.6" cy="490.7" r="2.1" fill="#0b6e0b"/>
<circle cx="268" cy="491.3" r="2.1" fill="#0b6e0b"/>
<circle cx="277.4" cy="491.8" r="2.1" fill="#0b6e0b"/>
<circle cx="286.9" cy="491.2" r="2.1" fill="#0b6e0b"/>
<circle cx="296.3" cy="490.7" r="2.1" fill="#0b6e0b"/>
<circle cx="305.7" cy="490.6" r="2.1" fill="#0b6e0b"/>
<circle cx="315.1" cy="491.1" r="2.1" fill="#0b6e0b"/>
<circle cx="324.5" cy="491.2" r="2.1" fill="#0b6e0b"/>
<circle cx="333.9" cy="491.1" r="2.1" fill="#0b6e0b"/>
<circle cx="51.6" cy="617.5" r="2.1" fill="#0000ff"/>
<circle cx="61" cy="616.3" r="2.1" fill="#0000ff"/>
<circle cx="70.4" cy="615.3" r="2.1" fill="#0000ff"/>
<circle cx="79.8" cy="614.3" r="2.1" fill="#0000ff"/>
<circle cx="89.2" cy="612.3" r="2.1" fill="#0000ff"/>
<circle cx="98.7" cy="609.8" r="2.1" fill="#0000ff"/>
<circle cx="108.1" cy="606" r="2.1" fill="#0000ff"/>
<circle cx="117.5" cy="600.1" r="2.1" fill="#0000ff"/>
<circle cx="126.9" cy="594.4" r="2.1" fill="#0000ff"/>
<circle cx="136.3" cy="587.7" r="2.1" fill="#0000ff"/>
<circle cx="145.7" cy="579.9" r="2.1" fill="#0000ff"/>
<circle cx="155.1" cy="570.5" r="2.1" fill="#0000ff"/>
<circle cx="164.5" cy="559.8" r="2.1" fill="#0000ff"/>
<circle cx="173.9" cy="548.6" r="2.1" fill="#0000ff"/>
<circle cx="183.3" cy="539.5" r="2.1" fill="#0000ff"/>
<circle cx="192.7" cy="536.9" r="2.1" fill="#0000ff"/>
<circle cx="202.2" cy="541" r="2.1" fill="#0000ff"/>
<circle cx="211.6" cy="552.2" r="2.1" fill="#0000ff"/>
<circle cx="221" cy="563.8" r="2.1" fill="#0000ff"/>
<circle cx="230.4" cy="575" r="2.1" fill="#0000ff"/>
<circle cx="239.8" cy="584.1" r="2.1" fill="#0000ff"/>
<circle cx="249.2" cy="590.9" r="2.1" fill="#0000ff"/>
<circle cx="258.6" cy="595.6" r="2.1" fill="#0000ff"/>
<circle cx="268" cy="600" r="2.1" fill="#0000ff"/>
<circle cx="277.4" cy="603.2" r="2.1" fill="#0000ff"/>
<circle cx="286.9" cy="605.3" r="2.1" fill="#0000ff"/>
<circle cx="296.3" cy="607.2" r="2.1" fill="#0000ff"/>
<circle cx="305.7" cy="607.9" r="2.1" fill="#0000ff"/>
<circle cx="315.1" cy="608.5" r="2.1" fill="#0000ff"/>
<circle cx="324.5" cy="609.5" r="2.1" fill="#0000ff"/>
<circle cx="333.9" cy="609.7" r="2.1" fill="#0000ff"/>
<circle cx="51.6" cy="621.3" r="2.1" fill="#ff0000"/>
<circle cx="61" cy="619.5" r="2.1" fill="#ff0000"/>
<circle cx="70.4" cy="618.7" r="2.1" fill="#ff0000"/>
<circle cx="79.8" cy="617.5" r="2.1" fill="#ff0000"/>
<circle cx="89.2" cy="615" r="2.1" fill="#ff0000"/>
<circle cx="98.7" cy="611.9" r="2.1" fill="#ff0000"/>
<circle cx="108.1" cy="608.6" r="2.1" fill="#ff0000"/>
<circle cx="117.5" cy="601.9" r="2.1" fill="#ff0000"/>
<circle cx="126.9" cy="596.4" r="2.1" fill="#ff0000"/>
<circle cx="136.3" cy="590.7" r="2.1" fill="#ff0000"/>
<circle cx="145.7" cy="588.9" r="2.1" fill="#ff0000"/>
<circle cx="155.1" cy="587.7" r="2.1" fill="#ff0000"/>
<circle cx="164.5" cy="588.1" r="2.1" fill="#ff0000"/>
<circle cx="173.9" cy="586.6" r="2.1" fill="#ff0000"/>
<circle cx="183.3" cy="587.4" r="2.1" fill="#ff0000"/>
<circle cx="192.7" cy="586.8" r="2.1" fill="#ff0000"/>
<circle cx="202.2" cy="589.9" r="2.1" fill="#ff0000"/>
<circle cx="211.6" cy="595.1" r="2.1" fill="#ff0000"/>
<circle cx="221" cy="596.6" r="2.1" fill="#ff0000"/>
<circle cx="230.4" cy="599.4" r="2.1" fill="#ff0000"/>
<circle cx="239.8" cy="601.5" r="2.1" fill="#ff0000"/>
<circle cx="249.2" cy="603.6" r="2.1" fill="#ff0000"/>
<circle cx="258.6" cy="605.7" r="2.1" fill="#ff0000"/>
<circle cx="268" cy="607.9" r="2.1" fill="#ff0000"/>
<circle cx="277.4" cy="609.3" r="2.1" fill="#ff0000"/>
<circle cx="286.9" cy="610" r="2.1" fill="#ff0000"/>
<circle cx="296.3" cy="610" r="2.1" fill="#ff0000"/>
<circle cx="305.7" cy="610.6" r="2.1" fill="#ff0000"/>
<circle cx="315.1" cy="610.6" r="2.1" fill="#ff0000"/>
<circle cx="324.5" cy="610.2" r="2.1" fill="#ff0000"/>
<circle cx="333.9" cy="610.5" r="2.1" fill="#ff0000"/>
<circle cx="51.6" cy="661.4" r="2.1" fill="#0b6e0b"/>
<circle cx="61" cy="661.6" r="2.1" fill="#0b6e0b"/>
<circle cx="70.4" cy="661.5" r="2.1" fill="#0b6e0b"/>
<circle cx="79.8" cy="661.6" r="2.1" fill="#0b6e0b"/>
<circle cx="89.2" cy="661.9" r="2.1" fill="#0b6e0b"/>
<circle cx="98.7" cy="662.1" r="2.1" fill="#0b6e0b"/>
<circle cx="108.1" cy="661.9" r="2.1" fill="#0b6e0b"/>
<circle cx="117.5" cy="662.2" r="2.1" fill="#0b6e0b"/>
<circle cx="126.9" cy="662.1" r="2.1" fill="#0b6e0b"/>
<circle cx="136.3" cy="661.7" r="2.1" fill="#0b6e0b"/>
<circle cx="145.7" cy="659.1" r="2.1" fill="#0b6e0b"/>
<circle cx="155.1" cy="655.6" r="2.1" fill="#0b6e0b"/>
<circle cx="164.5" cy="650.8" r="2.1" fill="#0b6e0b"/>
<circle cx="173.9" cy="646.6" r="2.1" fill="#0b6e0b"/>
<circle cx="183.3" cy="642.3" r="2.1" fill="#0b6e0b"/>
<circle cx="192.7" cy="641.5" r="2.1" fill="#0b6e0b"/>
<circle cx="202.2" cy="641.9" r="2.1" fill="#0b6e0b"/>
<circle cx="211.6" cy="644.5" r="2.1" fill="#0b6e0b"/>
<circle cx="221" cy="648.8" r="2.1" fill="#0b6e0b"/>
<circle cx="230.4" cy="652.5" r="2.1" fill="#0b6e0b"/>
<circle cx="239.8" cy="655.5" r="2.1" fill="#0b6e0b"/>
<circle cx="249.2" cy="657.5" r="2.1" fill="#0b6e0b"/>
<circle cx="258.6" cy="658.6" r="2.1" fill="#0b6e0b"/>
<circle cx="268" cy="659.6" r="2.1" fill="#0b6e0b"/>
<circle cx="277.4" cy="660.4" r="2.1" fill="#0b6e0b"/>
<circle cx="286.9" cy="661" r="2.1" fill="#0b6e0b"/>
<circle cx="296.3" cy="661.8" r="2.1" fill="#0b6e0b"/>
<circle cx="305.7" cy="661.8" r="2.1" fill="#0b6e0b"/>
<circle cx="315.1" cy="662.1" r="2.1" fill="#0b6e0b"/>
<circle cx="324.5" cy="662.7" r="2.1" fill="#0b6e0b"/>
<circle cx="333.9" cy="662.7" r="2.1" fill="#0b6e0b"/>
<rect x="51.6" y="383.6" width="282.4" height="123.5" fill="none" stroke="#2a2a2a" stroke-width="1.1"/>
<line x1="51.6" y1="471.7" x2="334" y2="471.7" stroke="#1c1c50" stroke-width="1.6"/>
<rect x="51.6" y="525.2" width="282.4" height="141.2" fill="none" stroke="#2a2a2a" stroke-width="1.1"/>
<line x1="51.6" y1="625.7" x2="334" y2="625.7" stroke="#1c1c50" stroke-width="1.6"/>
<line x1="51.6" y1="390.2" x2="54.2" y2="390.2" stroke="#2a2a2a" stroke-width="1"/>
<line x1="334" y1="390.2" x2="331.4" y2="390.2" stroke="#2a2a2a" stroke-width="1"/>
<text x="45.4" y="394.3" font-size="12" text-anchor="end" font-weight="normal" font-style="normal" fill="#1a1a1a" stroke="#1a1a1a" >1.2</text>
<line x1="51.6" y1="410.5" x2="54.2" y2="410.5" stroke="#2a2a2a" stroke-width="1"/>
<line x1="334" y1="410.5" x2="331.4" y2="410.5" stroke="#2a2a2a" stroke-width="1"/>
<text x="45.4" y="414.6" font-size="12" text-anchor="end" font-weight="normal" font-style="normal" fill="#1a1a1a" stroke="#1a1a1a" >0.9</text>
<line x1="51.6" y1="430.8" x2="54.2" y2="430.8" stroke="#2a2a2a" stroke-width="1"/>
<line x1="334" y1="430.8" x2="331.4" y2="430.8" stroke="#2a2a2a" stroke-width="1"/>
<text x="45.4" y="434.9" font-size="12" text-anchor="end" font-weight="normal" font-style="normal" fill="#1a1a1a" stroke="#1a1a1a" >0.6</text>
<line x1="51.6" y1="451.1" x2="54.2" y2="451.1" stroke="#2a2a2a" stroke-width="1"/>
<line x1="334" y1="451.1" x2="331.4" y2="451.1" stroke="#2a2a2a" stroke-width="1"/>
<text x="45.4" y="455.2" font-size="12" text-anchor="end" font-weight="normal" font-style="normal" fill="#1a1a1a" stroke="#1a1a1a" >0.3</text>
<line x1="51.6" y1="475.7" x2="54.2" y2="475.7" stroke="#2a2a2a" stroke-width="1"/>
<line x1="334" y1="475.7" x2="331.4" y2="475.7" stroke="#2a2a2a" stroke-width="1"/>
<text x="45.4" y="479.8" font-size="12" text-anchor="end" font-weight="normal" font-style="normal" fill="#1a1a1a" stroke="#1a1a1a" >0.4</text>
<line x1="51.6" y1="491.3" x2="54.2" y2="491.3" stroke="#2a2a2a" stroke-width="1"/>
<line x1="334" y1="491.3" x2="331.4" y2="491.3" stroke="#2a2a2a" stroke-width="1"/>
<text x="45.4" y="495.4" font-size="12" text-anchor="end" font-weight="normal" font-style="normal" fill="#1a1a1a" stroke="#1a1a1a" >0.0</text>
<line x1="51.6" y1="506.9" x2="54.2" y2="506.9" stroke="#2a2a2a" stroke-width="1"/>
<line x1="334" y1="506.9" x2="331.4" y2="506.9" stroke="#2a2a2a" stroke-width="1"/>
<text x="45.4" y="511" font-size="12" text-anchor="end" font-weight="normal" font-style="normal" fill="#1a1a1a" stroke="#1a1a1a" >−0.4</text>
<line x1="51.6" y1="539.6" x2="54.2" y2="539.6" stroke="#2a2a2a" stroke-width="1"/>
<line x1="334" y1="539.6" x2="331.4" y2="539.6" stroke="#2a2a2a" stroke-width="1"/>
<text x="45.4" y="543.7" font-size="12" text-anchor="end" font-weight="normal" font-style="normal" fill="#1a1a1a" stroke="#1a1a1a" >1.2</text>
<line x1="51.6" y1="561.1" x2="54.2" y2="561.1" stroke="#2a2a2a" stroke-width="1"/>
<line x1="334" y1="561.1" x2="331.4" y2="561.1" stroke="#2a2a2a" stroke-width="1"/>
<text x="45.4" y="565.2" font-size="12" text-anchor="end" font-weight="normal" font-style="normal" fill="#1a1a1a" stroke="#1a1a1a" >0.9</text>
<line x1="51.6" y1="582.5" x2="54.2" y2="582.5" stroke="#2a2a2a" stroke-width="1"/>
<line x1="334" y1="582.5" x2="331.4" y2="582.5" stroke="#2a2a2a" stroke-width="1"/>
<text x="45.4" y="586.6" font-size="12" text-anchor="end" font-weight="normal" font-style="normal" fill="#1a1a1a" stroke="#1a1a1a" >0.6</text>
<line x1="51.6" y1="604" x2="54.2" y2="604" stroke="#2a2a2a" stroke-width="1"/>
<line x1="334" y1="604" x2="331.4" y2="604" stroke="#2a2a2a" stroke-width="1"/>
<text x="45.4" y="608.1" font-size="12" text-anchor="end" font-weight="normal" font-style="normal" fill="#1a1a1a" stroke="#1a1a1a" >0.3</text>
<line x1="51.6" y1="638.3" x2="54.2" y2="638.3" stroke="#2a2a2a" stroke-width="1"/>
<line x1="334" y1="638.3" x2="331.4" y2="638.3" stroke="#2a2a2a" stroke-width="1"/>
<text x="45.4" y="643" font-size="12" text-anchor="end" font-weight="normal" font-style="normal" fill="#1a1a1a" stroke="#1a1a1a" >0.8</text>
<line x1="51.6" y1="650.6" x2="54.2" y2="650.6" stroke="#2a2a2a" stroke-width="1"/>
<line x1="334" y1="650.6" x2="331.4" y2="650.6" stroke="#2a2a2a" stroke-width="1"/>
<text x="45.4" y="655.3" font-size="12" text-anchor="end" font-weight="normal" font-style="normal" fill="#1a1a1a" stroke="#1a1a1a" >0.4</text>
<line x1="51.6" y1="663" x2="54.2" y2="663" stroke="#2a2a2a" stroke-width="1"/>
<line x1="334" y1="663" x2="331.4" y2="663" stroke="#2a2a2a" stroke-width="1"/>
<text x="45.4" y="667.7" font-size="12" text-anchor="end" font-weight="normal" font-style="normal" fill="#1a1a1a" stroke="#1a1a1a" >0.0</text>
<line x1="51.6" y1="507.1" x2="51.6" y2="504.1" stroke="#2a2a2a" stroke-width="0.9"/>
<line x1="61" y1="507.1" x2="61" y2="505.1" stroke="#2a2a2a" stroke-width="0.9"/>
<line x1="70.4" y1="507.1" x2="70.4" y2="505.1" stroke="#2a2a2a" stroke-width="0.9"/>
<line x1="79.8" y1="507.1" x2="79.8" y2="505.1" stroke="#2a2a2a" stroke-width="0.9"/>
<line x1="89.2" y1="507.1" x2="89.2" y2="505.1" stroke="#2a2a2a" stroke-width="0.9"/>
<line x1="98.7" y1="507.1" x2="98.7" y2="504.1" stroke="#2a2a2a" stroke-width="0.9"/>
<line x1="108.1" y1="507.1" x2="108.1" y2="505.1" stroke="#2a2a2a" stroke-width="0.9"/>
<line x1="117.5" y1="507.1" x2="117.5" y2="505.1" stroke="#2a2a2a" stroke-width="0.9"/>
<line x1="126.9" y1="507.1" x2="126.9" y2="505.1" stroke="#2a2a2a" stroke-width="0.9"/>
<line x1="136.3" y1="507.1" x2="136.3" y2="505.1" stroke="#2a2a2a" stroke-width="0.9"/>
<line x1="145.7" y1="507.1" x2="145.7" y2="504.1" stroke="#2a2a2a" stroke-width="0.9"/>
<line x1="155.1" y1="507.1" x2="155.1" y2="505.1" stroke="#2a2a2a" stroke-width="0.9"/>
<line x1="164.5" y1="507.1" x2="164.5" y2="505.1" stroke="#2a2a2a" stroke-width="0.9"/>
<line x1="173.9" y1="507.1" x2="173.9" y2="505.1" stroke="#2a2a2a" stroke-width="0.9"/>
<line x1="183.3" y1="507.1" x2="183.3" y2="505.1" stroke="#2a2a2a" stroke-width="0.9"/>
<line x1="192.7" y1="507.1" x2="192.7" y2="504.1" stroke="#2a2a2a" stroke-width="0.9"/>
<line x1="202.2" y1="507.1" x2="202.2" y2="505.1" stroke="#2a2a2a" stroke-width="0.9"/>
<line x1="211.6" y1="507.1" x2="211.6" y2="505.1" stroke="#2a2a2a" stroke-width="0.9"/>
<line x1="221" y1="507.1" x2="221" y2="505.1" stroke="#2a2a2a" stroke-width="0.9"/>
<line x1="230.4" y1="507.1" x2="230.4" y2="505.1" stroke="#2a2a2a" stroke-width="0.9"/>
<line x1="239.8" y1="507.1" x2="239.8" y2="504.1" stroke="#2a2a2a" stroke-width="0.9"/>
<line x1="249.2" y1="507.1" x2="249.2" y2="505.1" stroke="#2a2a2a" stroke-width="0.9"/>
<line x1="258.6" y1="507.1" x2="258.6" y2="505.1" stroke="#2a2a2a" stroke-width="0.9"/>
<line x1="268" y1="507.1" x2="268" y2="505.1" stroke="#2a2a2a" stroke-width="0.9"/>
<line x1="277.4" y1="507.1" x2="277.4" y2="505.1" stroke="#2a2a2a" stroke-width="0.9"/>
<line x1="286.9" y1="507.1" x2="286.9" y2="504.1" stroke="#2a2a2a" stroke-width="0.9"/>
<line x1="296.3" y1="507.1" x2="296.3" y2="505.1" stroke="#2a2a2a" stroke-width="0.9"/>
<line x1="305.7" y1="507.1" x2="305.7" y2="505.1" stroke="#2a2a2a" stroke-width="0.9"/>
<line x1="315.1" y1="507.1" x2="315.1" y2="505.1" stroke="#2a2a2a" stroke-width="0.9"/>
<line x1="324.5" y1="507.1" x2="324.5" y2="505.1" stroke="#2a2a2a" stroke-width="0.9"/>
<line x1="51.6" y1="666.4" x2="51.6" y2="663.4" stroke="#2a2a2a" stroke-width="0.9"/>
<line x1="61" y1="666.4" x2="61" y2="664.4" stroke="#2a2a2a" stroke-width="0.9"/>
<line x1="70.4" y1="666.4" x2="70.4" y2="664.4" stroke="#2a2a2a" stroke-width="0.9"/>
<line x1="79.8" y1="666.4" x2="79.8" y2="664.4" stroke="#2a2a2a" stroke-width="0.9"/>
<line x1="89.2" y1="666.4" x2="89.2" y2="664.4" stroke="#2a2a2a" stroke-width="0.9"/>
<line x1="98.7" y1="666.4" x2="98.7" y2="663.4" stroke="#2a2a2a" stroke-width="0.9"/>
<line x1="108.1" y1="666.4" x2="108.1" y2="664.4" stroke="#2a2a2a" stroke-width="0.9"/>
<line x1="117.5" y1="666.4" x2="117.5" y2="664.4" stroke="#2a2a2a" stroke-width="0.9"/>
<line x1="126.9" y1="666.4" x2="126.9" y2="664.4" stroke="#2a2a2a" stroke-width="0.9"/>
<line x1="136.3" y1="666.4" x2="136.3" y2="664.4" stroke="#2a2a2a" stroke-width="0.9"/>
<line x1="145.7" y1="666.4" x2="145.7" y2="663.4" stroke="#2a2a2a" stroke-width="0.9"/>
<line x1="155.1" y1="666.4" x2="155.1" y2="664.4" stroke="#2a2a2a" stroke-width="0.9"/>
<line x1="164.5" y1="666.4" x2="164.5" y2="664.4" stroke="#2a2a2a" stroke-width="0.9"/>
<line x1="173.9" y1="666.4" x2="173.9" y2="664.4" stroke="#2a2a2a" stroke-width="0.9"/>
<line x1="183.3" y1="666.4" x2="183.3" y2="664.4" stroke="#2a2a2a" stroke-width="0.9"/>
<line x1="192.7" y1="666.4" x2="192.7" y2="663.4" stroke="#2a2a2a" stroke-width="0.9"/>
<line x1="202.2" y1="666.4" x2="202.2" y2="664.4" stroke="#2a2a2a" stroke-width="0.9"/>
<line x1="211.6" y1="666.4" x2="211.6" y2="664.4" stroke="#2a2a2a" stroke-width="0.9"/>
<line x1="221" y1="666.4" x2="221" y2="664.4" stroke="#2a2a2a" stroke-width="0.9"/>
<line x1="230.4" y1="666.4" x2="230.4" y2="664.4" stroke="#2a2a2a" stroke-width="0.9"/>
<line x1="239.8" y1="666.4" x2="239.8" y2="663.4" stroke="#2a2a2a" stroke-width="0.9"/>
<line x1="249.2" y1="666.4" x2="249.2" y2="664.4" stroke="#2a2a2a" stroke-width="0.9"/>
<line x1="258.6" y1="666.4" x2="258.6" y2="664.4" stroke="#2a2a2a" stroke-width="0.9"/>
<line x1="268" y1="666.4" x2="268" y2="664.4" stroke="#2a2a2a" stroke-width="0.9"/>
<line x1="277.4" y1="666.4" x2="277.4" y2="664.4" stroke="#2a2a2a" stroke-width="0.9"/>
<line x1="286.9" y1="666.4" x2="286.9" y2="663.4" stroke="#2a2a2a" stroke-width="0.9"/>
<line x1="296.3" y1="666.4" x2="296.3" y2="664.4" stroke="#2a2a2a" stroke-width="0.9"/>
<line x1="305.7" y1="666.4" x2="305.7" y2="664.4" stroke="#2a2a2a" stroke-width="0.9"/>
<line x1="315.1" y1="666.4" x2="315.1" y2="664.4" stroke="#2a2a2a" stroke-width="0.9"/>
<line x1="324.5" y1="666.4" x2="324.5" y2="664.4" stroke="#2a2a2a" stroke-width="0.9"/>
<text x="98.7" y="681.4" font-size="12" text-anchor="middle" font-weight="normal" font-style="normal" fill="#1a1a1a" stroke="#1a1a1a" >930</text>
<text x="192.7" y="681.4" font-size="12" text-anchor="middle" font-weight="normal" font-style="normal" fill="#1a1a1a" stroke="#1a1a1a" >931</text>
<text x="286.9" y="681.4" font-size="12" text-anchor="middle" font-weight="normal" font-style="normal" fill="#1a1a1a" stroke="#1a1a1a" >932</text>
<text x="192.2" y="698.9" font-size="12" text-anchor="middle" fill="#1a1a1a" stroke="#1a1a1a"><tspan font-style="italic">E</tspan> (eV)</text>
<text x="10.6" y="445.8" font-size="12.5" text-anchor="middle" fill="#1a1a1a" stroke="#1a1a1a" transform="rotate(-90 10.6 445.8)">XAS (a.u.)</text>
<text x="10.6" y="596.1" font-size="12.5" text-anchor="middle" fill="#1a1a1a" stroke="#1a1a1a" transform="rotate(-90 10.6 596.1)">XAS (a.u.)</text>
<text x="134" y="379.7" font-size="12.5" text-anchor="middle" font-weight="normal" font-style="normal" fill="#1a1a1a" stroke="#1a1a1a" >I</text>
<text x="158.9" y="379.7" font-size="12.5" text-anchor="middle" font-weight="normal" font-style="normal" fill="#1a1a1a" stroke="#1a1a1a" >II</text>
<text x="191.8" y="379.7" font-size="12.5" text-anchor="middle" font-weight="normal" font-style="normal" fill="#1a1a1a" stroke="#1a1a1a" >III</text>
<text x="28.7" y="375.9" font-size="12.5" text-anchor="start" font-weight="normal" font-style="normal" fill="#1a1a1a" stroke="#1a1a1a" >NYN <tspan font-style="italic">y</tspan> = 0.2</text>
<text x="0.1" y="372.7" font-size="17.5" text-anchor="start" font-weight="bold" font-style="normal" fill="#000" stroke="#000" >c</text>
<circle cx="64.6" cy="397.6" r="3.1" fill="#1111ee"/>
<text x="70" y="400.1" font-size="11.5" fill="#1a1a1a" stroke="#1a1a1a" text-anchor="start"><tspan font-style="italic">μ</tspan><tspan font-size="9" dy="2.2">ab</tspan></text>
<circle cx="64.6" cy="419.5" r="3.1" fill="#ee1111"/>
<text x="70" y="422" font-size="11.5" fill="#1a1a1a" stroke="#1a1a1a" text-anchor="start"><tspan font-style="italic">μ</tspan><tspan font-size="9" dy="2.2">c</tspan></text>
<circle cx="64.6" cy="542.4" r="3.1" fill="#1111ee"/>
<text x="70" y="544.9" font-size="11.5" fill="#1a1a1a" stroke="#1a1a1a" text-anchor="start"><tspan font-style="italic">μ</tspan><tspan font-size="9" dy="2.2">ab</tspan></text>
<circle cx="64.6" cy="564.8" r="3.1" fill="#ee1111"/>
<text x="70" y="567.3" font-size="11.5" fill="#1a1a1a" stroke="#1a1a1a" text-anchor="start"><tspan font-style="italic">μ</tspan><tspan font-size="9" dy="2.2">c</tspan></text>
<circle cx="64.6" cy="483" r="3.1" fill="#0b6e0b"/>
<text x="70.2" y="486.2" font-size="11.5" fill="#1a1a1a" stroke="#1a1a1a"><tspan font-style="italic">μ</tspan><tspan font-size="9" dy="2.2">ab</tspan><tspan dy="-2.2"> − </tspan><tspan font-style="italic">μ</tspan><tspan font-size="9" dy="2.2">c</tspan></text>
<text x="319.4" y="399.4" font-size="12.5" text-anchor="end" font-weight="normal" font-style="normal" fill="#1a1a1a" stroke="#1a1a1a" >TEY</text>
<text x="315.8" y="544.4" font-size="12.5" text-anchor="end" font-weight="normal" font-style="normal" fill="#1a1a1a" stroke="#1a1a1a" >FY</text>
<g clip-path="url(#ctd)">
<path d="M402,468.5 L404.4,468.4 L406.7,468.3 L409.1,468.1 L411.4,467.9 L413.8,467.8 L416.1,467.6 L418.5,467.4 L420.8,467.2 L423.2,467 L425.5,466.7 L427.9,466.5 L430.2,466.2 L432.6,465.9 L434.9,465.5 L437.3,465.1 L439.7,464.7 L442,464.3 L444.4,463.8 L446.7,463.2 L449.1,462.6 L451.4,461.9 L453.8,461.2 L456.1,460.4 L458.5,459.4 L460.8,458.4 L463.2,457.3 L465.5,456.1 L467.9,454.8 L470.2,453.3 L472.6,451.7 L475,450 L477.3,448.1 L479.7,446.1 L482,444.1 L484.4,441.9 L486.7,439.7 L489.1,437.5 L491.4,435.4 L493.8,433.5 L496.1,431.8 L498.5,430.5 L500.8,429.7 L503.2,429.3 L505.5,429.4 L507.9,429.9 L510.3,430.8 L512.6,432 L515,433.5 L517.3,435.2 L519.7,437.1 L522,439 L524.4,441 L526.7,443.1 L529.1,445.1 L531.4,447 L533.8,448.9 L536.1,450.7 L538.5,452.5 L540.8,454.1 L543.2,455.6 L545.6,457 L547.9,458.3 L550.3,459.5 L552.6,460.5 L555,461.5 L557.3,462.4 L559.7,463.2 L562,463.9 L564.4,464.5 L566.7,465.1 L569.1,465.6 L571.4,466.1 L573.8,466.5 L576.1,466.8 L578.5,467.1 L580.9,467.4 L583.2,467.7 L585.6,467.9 L587.9,468.1 L590.3,468.3 L592.6,468.4 L595,468.6 L597.3,468.7 L599.7,468.8 L602,469 L604.4,469.1 L606.7,469.2 L609.1,469.3 L611.4,469.3 L613.8,469.4 L616.2,469.5 L618.5,469.6 L620.9,469.6 L623.2,469.7 L625.6,469.8 L627.9,469.8 L630.3,469.9 L632.6,469.9 L635,470 L637.3,470 L639.7,470.1 L642,470.1 L644.4,470.2 L646.7,470.2 L649.1,470.2 L651.5,470.3 L653.8,470.3 L656.2,470.3 L658.5,470.4 L660.9,470.4 L663.2,470.4 L665.6,470.5 L667.9,470.5 L670.3,470.5 L672.6,470.5 L675,470.5 L677.3,470.6 L679.7,470.6 L682,470.6 L684.4,470.6 L684.4,469.8 L682,469.8 L679.7,469.8 L677.3,469.7 L675,469.7 L672.6,469.6 L670.3,469.6 L667.9,469.5 L665.6,469.5 L663.2,469.4 L660.9,469.4 L658.5,469.3 L656.2,469.2 L653.8,469.2 L651.5,469.1 L649.1,469 L646.7,469 L644.4,468.9 L642,468.8 L639.7,468.7 L637.3,468.6 L635,468.5 L632.6,468.4 L630.3,468.3 L627.9,468.2 L625.6,468.1 L623.2,468 L620.9,467.8 L618.5,467.7 L616.2,467.5 L613.8,467.4 L611.4,467.2 L609.1,467 L606.7,466.8 L604.4,466.5 L602,466.3 L599.7,466 L597.3,465.7 L595,465.3 L592.6,464.9 L590.3,464.5 L587.9,464 L585.6,463.5 L583.2,462.9 L580.9,462.3 L578.5,461.6 L576.1,460.8 L573.8,460 L571.4,459.1 L569.1,458.1 L566.7,457 L564.4,455.8 L562,454.5 L559.7,453.1 L557.3,451.6 L555,450 L552.6,448.2 L550.3,446.4 L547.9,444.5 L545.6,442.4 L543.2,440.3 L540.8,438.1 L538.5,435.8 L536.1,433.4 L533.8,431 L531.4,428.6 L529.1,426.2 L526.7,423.7 L524.4,421.4 L522,419.1 L519.7,417 L517.3,415 L515,413.3 L512.6,411.8 L510.3,410.6 L507.9,409.7 L505.5,409.2 L503.2,409.1 L500.8,409.5 L498.5,410.5 L496.1,411.9 L493.8,413.8 L491.4,416.1 L489.1,418.6 L486.7,421.3 L484.4,424.1 L482,426.9 L479.7,429.6 L477.3,432.3 L475,435 L472.6,437.4 L470.2,439.8 L467.9,442 L465.5,444 L463.2,446 L460.8,447.7 L458.5,449.4 L456.1,450.9 L453.8,452.3 L451.4,453.6 L449.1,454.8 L446.7,455.9 L444.4,456.9 L442,457.8 L439.7,458.6 L437.3,459.4 L434.9,460.1 L432.6,460.7 L430.2,461.3 L427.9,461.9 L425.5,462.4 L423.2,462.8 L420.8,463.3 L418.5,463.7 L416.1,464 L413.8,464.4 L411.4,464.7 L409.1,465 L406.7,465.3 L404.4,465.5 L402,465.8 Z" fill="#e9967a"/>
<path d="M402,468.5 L404.4,468.4 L406.7,468.3 L409.1,468.1 L411.4,467.9 L413.8,467.8 L416.1,467.6 L418.5,467.4 L420.8,467.2 L423.2,467 L425.5,466.7 L427.9,466.5 L430.2,466.2 L432.6,465.9 L434.9,465.5 L437.3,465.1 L439.7,464.7 L442,464.3 L444.4,463.8 L446.7,463.2 L449.1,462.6 L451.4,461.9 L453.8,461.2 L456.1,460.4 L458.5,459.4 L460.8,458.4 L463.2,457.3 L465.5,456.1 L467.9,454.8 L470.2,453.3 L472.6,451.7 L475,450 L477.3,448.1 L479.7,446.1 L482,444.1 L484.4,441.9 L486.7,439.7 L489.1,437.5 L491.4,435.4 L493.8,433.5 L496.1,431.8 L498.5,430.5 L500.8,429.7 L503.2,429.3 L505.5,429.4 L507.9,429.9 L510.3,430.8 L512.6,432 L515,433.5 L517.3,435.2 L519.7,437.1 L522,439 L524.4,441 L526.7,443.1 L529.1,445.1 L531.4,447 L533.8,448.9 L536.1,450.7 L538.5,452.5 L540.8,454.1 L543.2,455.6 L545.6,457 L547.9,458.3 L550.3,459.5 L552.6,460.5 L555,461.5 L557.3,462.4 L559.7,463.2 L562,463.9 L564.4,464.5 L566.7,465.1 L569.1,465.6 L571.4,466.1 L573.8,466.5 L576.1,466.8 L578.5,467.1 L580.9,467.4 L583.2,467.7 L585.6,467.9 L587.9,468.1 L590.3,468.3 L592.6,468.4 L595,468.6 L597.3,468.7 L599.7,468.8 L602,469 L604.4,469.1 L606.7,469.2 L609.1,469.3 L611.4,469.3 L613.8,469.4 L616.2,469.5 L618.5,469.6 L620.9,469.6 L623.2,469.7 L625.6,469.8 L627.9,469.8 L630.3,469.9 L632.6,469.9 L635,470 L637.3,470 L639.7,470.1 L642,470.1 L644.4,470.2 L646.7,470.2 L649.1,470.2 L651.5,470.3 L653.8,470.3 L656.2,470.3 L658.5,470.4 L660.9,470.4 L663.2,470.4 L665.6,470.5 L667.9,470.5 L670.3,470.5 L672.6,470.5 L675,470.5 L677.3,470.6 L679.7,470.6 L682,470.6 L684.4,470.6" fill="none" stroke="#2020ff" stroke-width="0.85"/>
<path d="M402,465.8 L404.4,465.5 L406.7,465.3 L409.1,465 L411.4,464.7 L413.8,464.4 L416.1,464 L418.5,463.7 L420.8,463.3 L423.2,462.8 L425.5,462.4 L427.9,461.9 L430.2,461.3 L432.6,460.7 L434.9,460.1 L437.3,459.4 L439.7,458.6 L442,457.8 L444.4,456.9 L446.7,455.9 L449.1,454.8 L451.4,453.6 L453.8,452.3 L456.1,450.9 L458.5,449.4 L460.8,447.7 L463.2,446 L465.5,444 L467.9,442 L470.2,439.8 L472.6,437.4 L475,435 L477.3,432.3 L479.7,429.6 L482,426.9 L484.4,424.1 L486.7,421.3 L489.1,418.6 L491.4,416.1 L493.8,413.8 L496.1,411.9 L498.5,410.5 L500.8,409.5 L503.2,409.1 L505.5,409.2 L507.9,409.7 L510.3,410.6 L512.6,411.8 L515,413.3 L517.3,415 L519.7,417 L522,419.1 L524.4,421.4 L526.7,423.7 L529.1,426.2 L531.4,428.6 L533.8,431 L536.1,433.4 L538.5,435.8 L540.8,438.1 L543.2,440.3 L545.6,442.4 L547.9,444.5 L550.3,446.4 L552.6,448.2 L555,450 L557.3,451.6 L559.7,453.1 L562,454.5 L564.4,455.8 L566.7,457 L569.1,458.1 L571.4,459.1 L573.8,460 L576.1,460.8 L578.5,461.6 L580.9,462.3 L583.2,462.9 L585.6,463.5 L587.9,464 L590.3,464.5 L592.6,464.9 L595,465.3 L597.3,465.7 L599.7,466 L602,466.3 L604.4,466.5 L606.7,466.8 L609.1,467 L611.4,467.2 L613.8,467.4 L616.2,467.5 L618.5,467.7 L620.9,467.8 L623.2,468 L625.6,468.1 L627.9,468.2 L630.3,468.3 L632.6,468.4 L635,468.5 L637.3,468.6 L639.7,468.7 L642,468.8 L644.4,468.9 L646.7,469 L649.1,469 L651.5,469.1 L653.8,469.2 L656.2,469.2 L658.5,469.3 L660.9,469.4 L663.2,469.4 L665.6,469.5 L667.9,469.5 L670.3,469.6 L672.6,469.6 L675,469.7 L677.3,469.7 L679.7,469.8 L682,469.8 L684.4,469.8" fill="none" stroke="#ff2020" stroke-width="0.85"/>
<path d="M402,469.7 L404.4,469.6 L406.7,469.6 L409.1,469.5 L411.4,469.4 L413.8,469.4 L416.1,469.3 L418.5,469.2 L420.8,469.1 L423.2,469.1 L425.5,469 L427.9,468.9 L430.2,468.8 L432.6,468.7 L434.9,468.6 L437.3,468.5 L439.7,468.3 L442,468.2 L444.4,468.1 L446.7,467.9 L449.1,467.8 L451.4,467.6 L453.8,467.4 L456.1,467.2 L458.5,467 L460.8,466.8 L463.2,466.6 L465.5,466.3 L467.9,466 L470.2,465.8 L472.6,465.4 L475,465.1 L477.3,464.7 L479.7,464.3 L482,463.9 L484.4,463.4 L486.7,462.9 L489.1,462.4 L491.4,461.8 L493.8,461.1 L496.1,460.4 L498.5,459.7 L500.8,458.8 L503.2,457.9 L505.5,456.9 L507.9,455.9 L510.3,454.7 L512.6,453.5 L515,452.2 L517.3,450.8 L519.7,449.3 L522,447.8 L524.4,446.3 L526.7,444.7 L529.1,443.2 L531.4,441.8 L533.8,440.6 L536.1,439.5 L538.5,438.7 L540.8,438.3 L543.2,438.1 L545.6,438.4 L547.9,439.2 L550.3,440.5 L552.6,442.1 L555,444 L557.3,446 L559.7,448 L562,449.9 L564.4,451.8 L566.7,453.5 L569.1,455.1 L571.4,456.5 L573.8,457.8 L576.1,459 L578.5,460.1 L580.9,461 L583.2,461.8 L585.6,462.6 L587.9,463.3 L590.3,463.9 L592.6,464.4 L595,464.9 L597.3,465.4 L599.7,465.8 L602,466.2 L604.4,466.5 L606.7,466.8 L609.1,467.1 L611.4,467.4 L613.8,467.6 L616.2,467.8 L618.5,468 L620.9,468.2 L623.2,468.4 L625.6,468.5 L627.9,468.7 L630.3,468.8 L632.6,468.9 L635,469 L637.3,469.1 L639.7,469.2 L642,469.3 L644.4,469.4 L646.7,469.5 L649.1,469.6 L651.5,469.7 L653.8,469.7 L656.2,469.8 L658.5,469.9 L660.9,469.9 L663.2,470 L665.6,470 L667.9,470.1 L670.3,470.1 L672.6,470.2 L675,470.2 L677.3,470.2 L679.7,470.3 L682,470.3 L684.4,470.4 L684.4,471.3 L682,471.3 L679.7,471.3 L677.3,471.3 L675,471.3 L672.6,471.3 L670.3,471.3 L667.9,471.3 L665.6,471.3 L663.2,471.3 L660.9,471.3 L658.5,471.3 L656.2,471.3 L653.8,471.3 L651.5,471.3 L649.1,471.3 L646.7,471.3 L644.4,471.3 L642,471.3 L639.7,471.3 L637.3,471.3 L635,471.3 L632.6,471.3 L630.3,471.3 L627.9,471.3 L625.6,471.3 L623.2,471.3 L620.9,471.2 L618.5,471.2 L616.2,471.2 L613.8,471.2 L611.4,471.2 L609.1,471.2 L606.7,471.2 L604.4,471.2 L602,471.2 L599.7,471.1 L597.3,471.1 L595,471.1 L592.6,471.1 L590.3,471.1 L587.9,471 L585.6,471 L583.2,471 L580.9,471 L578.5,470.9 L576.1,470.9 L573.8,470.9 L571.4,470.8 L569.1,470.8 L566.7,470.7 L564.4,470.7 L562,470.6 L559.7,470.6 L557.3,470.5 L555,470.5 L552.6,470.5 L550.3,470.4 L547.9,470.4 L545.6,470.4 L543.2,470.4 L540.8,470.4 L538.5,470.4 L536.1,470.4 L533.8,470.5 L531.4,470.5 L529.1,470.5 L526.7,470.6 L524.4,470.6 L522,470.7 L519.7,470.7 L517.3,470.8 L515,470.8 L512.6,470.9 L510.3,470.9 L507.9,470.9 L505.5,471 L503.2,471 L500.8,471 L498.5,471 L496.1,471.1 L493.8,471.1 L491.4,471.1 L489.1,471.1 L486.7,471.1 L484.4,471.2 L482,471.2 L479.7,471.2 L477.3,471.2 L475,471.2 L472.6,471.2 L470.2,471.2 L467.9,471.2 L465.5,471.2 L463.2,471.3 L460.8,471.3 L458.5,471.3 L456.1,471.3 L453.8,471.3 L451.4,471.3 L449.1,471.3 L446.7,471.3 L444.4,471.3 L442,471.3 L439.7,471.3 L437.3,471.3 L434.9,471.3 L432.6,471.3 L430.2,471.3 L427.9,471.3 L425.5,471.3 L423.2,471.3 L420.8,471.3 L418.5,471.3 L416.1,471.3 L413.8,471.3 L411.4,471.3 L409.1,471.3 L406.7,471.3 L404.4,471.3 L402,471.3 Z" fill="#6495ed"/>
<path d="M402,469.7 L404.4,469.6 L406.7,469.6 L409.1,469.5 L411.4,469.4 L413.8,469.4 L416.1,469.3 L418.5,469.2 L420.8,469.1 L423.2,469.1 L425.5,469 L427.9,468.9 L430.2,468.8 L432.6,468.7 L434.9,468.6 L437.3,468.5 L439.7,468.3 L442,468.2 L444.4,468.1 L446.7,467.9 L449.1,467.8 L451.4,467.6 L453.8,467.4 L456.1,467.2 L458.5,467 L460.8,466.8 L463.2,466.6 L465.5,466.3 L467.9,466 L470.2,465.8 L472.6,465.4 L475,465.1 L477.3,464.7 L479.7,464.3 L482,463.9 L484.4,463.4 L486.7,462.9 L489.1,462.4 L491.4,461.8 L493.8,461.1 L496.1,460.4 L498.5,459.7 L500.8,458.8 L503.2,457.9 L505.5,456.9 L507.9,455.9 L510.3,454.7 L512.6,453.5 L515,452.2 L517.3,450.8 L519.7,449.3 L522,447.8 L524.4,446.3 L526.7,444.7 L529.1,443.2 L531.4,441.8 L533.8,440.6 L536.1,439.5 L538.5,438.7 L540.8,438.3 L543.2,438.1 L545.6,438.4 L547.9,439.2 L550.3,440.5 L552.6,442.1 L555,444 L557.3,446 L559.7,448 L562,449.9 L564.4,451.8 L566.7,453.5 L569.1,455.1 L571.4,456.5 L573.8,457.8 L576.1,459 L578.5,460.1 L580.9,461 L583.2,461.8 L585.6,462.6 L587.9,463.3 L590.3,463.9 L592.6,464.4 L595,464.9 L597.3,465.4 L599.7,465.8 L602,466.2 L604.4,466.5 L606.7,466.8 L609.1,467.1 L611.4,467.4 L613.8,467.6 L616.2,467.8 L618.5,468 L620.9,468.2 L623.2,468.4 L625.6,468.5 L627.9,468.7 L630.3,468.8 L632.6,468.9 L635,469 L637.3,469.1 L639.7,469.2 L642,469.3 L644.4,469.4 L646.7,469.5 L649.1,469.6 L651.5,469.7 L653.8,469.7 L656.2,469.8 L658.5,469.9 L660.9,469.9 L663.2,470 L665.6,470 L667.9,470.1 L670.3,470.1 L672.6,470.2 L675,470.2 L677.3,470.2 L679.7,470.3 L682,470.3 L684.4,470.4" fill="none" stroke="#2020ff" stroke-width="0.85"/>
<path d="M402,471.3 L404.4,471.3 L406.7,471.3 L409.1,471.3 L411.4,471.3 L413.8,471.3 L416.1,471.3 L418.5,471.3 L420.8,471.3 L423.2,471.3 L425.5,471.3 L427.9,471.3 L430.2,471.3 L432.6,471.3 L434.9,471.3 L437.3,471.3 L439.7,471.3 L442,471.3 L444.4,471.3 L446.7,471.3 L449.1,471.3 L451.4,471.3 L453.8,471.3 L456.1,471.3 L458.5,471.3 L460.8,471.3 L463.2,471.3 L465.5,471.2 L467.9,471.2 L470.2,471.2 L472.6,471.2 L475,471.2 L477.3,471.2 L479.7,471.2 L482,471.2 L484.4,471.2 L486.7,471.1 L489.1,471.1 L491.4,471.1 L493.8,471.1 L496.1,471.1 L498.5,471 L500.8,471 L503.2,471 L505.5,471 L507.9,470.9 L510.3,470.9 L512.6,470.9 L515,470.8 L517.3,470.8 L519.7,470.7 L522,470.7 L524.4,470.6 L526.7,470.6 L529.1,470.5 L531.4,470.5 L533.8,470.5 L536.1,470.4 L538.5,470.4 L540.8,470.4 L543.2,470.4 L545.6,470.4 L547.9,470.4 L550.3,470.4 L552.6,470.5 L555,470.5 L557.3,470.5 L559.7,470.6 L562,470.6 L564.4,470.7 L566.7,470.7 L569.1,470.8 L571.4,470.8 L573.8,470.9 L576.1,470.9 L578.5,470.9 L580.9,471 L583.2,471 L585.6,471 L587.9,471 L590.3,471.1 L592.6,471.1 L595,471.1 L597.3,471.1 L599.7,471.1 L602,471.2 L604.4,471.2 L606.7,471.2 L609.1,471.2 L611.4,471.2 L613.8,471.2 L616.2,471.2 L618.5,471.2 L620.9,471.2 L623.2,471.3 L625.6,471.3 L627.9,471.3 L630.3,471.3 L632.6,471.3 L635,471.3 L637.3,471.3 L639.7,471.3 L642,471.3 L644.4,471.3 L646.7,471.3 L649.1,471.3 L651.5,471.3 L653.8,471.3 L656.2,471.3 L658.5,471.3 L660.9,471.3 L663.2,471.3 L665.6,471.3 L667.9,471.3 L670.3,471.3 L672.6,471.3 L675,471.3 L677.3,471.3 L679.7,471.3 L682,471.3 L684.4,471.3" fill="none" stroke="#ff2020" stroke-width="0.85"/>
<path d="M402,470.5 L404.4,470.5 L406.7,470.4 L409.1,470.4 L411.4,470.3 L413.8,470.2 L416.1,470.1 L418.5,470 L420.8,469.9 L423.2,469.8 L425.5,469.6 L427.9,469.5 L430.2,469.3 L432.6,469.1 L434.9,468.9 L437.3,468.7 L439.7,468.4 L442,468.1 L444.4,467.8 L446.7,467.4 L449.1,467.1 L451.4,466.7 L453.8,466.2 L456.1,465.8 L458.5,465.3 L460.8,464.9 L463.2,464.4 L465.5,464 L467.9,463.6 L470.2,463.2 L472.6,463 L475,462.8 L477.3,462.7 L479.7,462.8 L482,463 L484.4,463.2 L486.7,463.6 L489.1,464 L491.4,464.4 L493.8,464.9 L496.1,465.3 L498.5,465.8 L500.8,466.2 L503.2,466.7 L505.5,467.1 L507.9,467.4 L510.3,467.8 L512.6,468.1 L515,468.4 L517.3,468.7 L519.7,468.9 L522,469.1 L524.4,469.3 L526.7,469.5 L529.1,469.6 L531.4,469.8 L533.8,469.9 L536.1,470 L538.5,470.1 L540.8,470.2 L543.2,470.3 L545.6,470.4 L547.9,470.4 L550.3,470.5 L552.6,470.5 L555,470.6 L557.3,470.6 L559.7,470.7 L562,470.7 L564.4,470.7 L566.7,470.8 L569.1,470.8 L571.4,470.8 L573.8,470.9 L576.1,470.9 L578.5,470.9 L580.9,470.9 L583.2,470.9 L585.6,471 L587.9,471 L590.3,471 L592.6,471 L595,471 L597.3,471 L599.7,471 L602,471.1 L604.4,471.1 L606.7,471.1 L609.1,471.1 L611.4,471.1 L613.8,471.1 L616.2,471.1 L618.5,471.1 L620.9,471.1 L623.2,471.1 L625.6,471.2 L627.9,471.2 L630.3,471.2 L632.6,471.2 L635,471.2 L637.3,471.2 L639.7,471.2 L642,471.2 L644.4,471.2 L646.7,471.2 L649.1,471.2 L651.5,471.2 L653.8,471.2 L656.2,471.2 L658.5,471.2 L660.9,471.2 L663.2,471.2 L665.6,471.2 L667.9,471.3 L670.3,471.3 L672.6,471.3 L675,471.3 L677.3,471.3 L679.7,471.3 L682,471.3 L684.4,471.3 L684.4,471.1 L682,471.1 L679.7,471.1 L677.3,471.1 L675,471.1 L672.6,471 L670.3,471 L667.9,471 L665.6,471 L663.2,471 L660.9,471 L658.5,471 L656.2,471 L653.8,471 L651.5,471 L649.1,470.9 L646.7,470.9 L644.4,470.9 L642,470.9 L639.7,470.9 L637.3,470.9 L635,470.9 L632.6,470.8 L630.3,470.8 L627.9,470.8 L625.6,470.8 L623.2,470.8 L620.9,470.8 L618.5,470.7 L616.2,470.7 L613.8,470.7 L611.4,470.7 L609.1,470.6 L606.7,470.6 L604.4,470.6 L602,470.6 L599.7,470.5 L597.3,470.5 L595,470.5 L592.6,470.4 L590.3,470.4 L587.9,470.3 L585.6,470.3 L583.2,470.2 L580.9,470.2 L578.5,470.1 L576.1,470.1 L573.8,470 L571.4,470 L569.1,469.9 L566.7,469.8 L564.4,469.7 L562,469.6 L559.7,469.6 L557.3,469.5 L555,469.3 L552.6,469.2 L550.3,469.1 L547.9,468.9 L545.6,468.8 L543.2,468.6 L540.8,468.4 L538.5,468.2 L536.1,467.9 L533.8,467.6 L531.4,467.3 L529.1,467 L526.7,466.6 L524.4,466.1 L522,465.6 L519.7,465.1 L517.3,464.5 L515,463.8 L512.6,463 L510.3,462.2 L507.9,461.2 L505.5,460.2 L503.2,459.1 L500.8,458 L498.5,456.8 L496.1,455.5 L493.8,454.2 L491.4,452.9 L489.1,451.7 L486.7,450.5 L484.4,449.6 L482,448.8 L479.7,448.3 L477.3,448.2 L475,448.3 L472.6,448.8 L470.2,449.5 L467.9,450.5 L465.5,451.6 L463.2,452.9 L460.8,454.2 L458.5,455.5 L456.1,456.7 L453.8,458 L451.4,459.1 L449.1,460.2 L446.7,461.2 L444.4,462.1 L442,463 L439.7,463.8 L437.3,464.4 L434.9,465.1 L432.6,465.6 L430.2,466.1 L427.9,466.6 L425.5,467 L423.2,467.3 L420.8,467.6 L418.5,467.9 L416.1,468.2 L413.8,468.4 L411.4,468.6 L409.1,468.8 L406.7,468.9 L404.4,469.1 L402,469.2 Z" fill="#f08080"/>
<path d="M402,470.5 L404.4,470.5 L406.7,470.4 L409.1,470.4 L411.4,470.3 L413.8,470.2 L416.1,470.1 L418.5,470 L420.8,469.9 L423.2,469.8 L425.5,469.6 L427.9,469.5 L430.2,469.3 L432.6,469.1 L434.9,468.9 L437.3,468.7 L439.7,468.4 L442,468.1 L444.4,467.8 L446.7,467.4 L449.1,467.1 L451.4,466.7 L453.8,466.2 L456.1,465.8 L458.5,465.3 L460.8,464.9 L463.2,464.4 L465.5,464 L467.9,463.6 L470.2,463.2 L472.6,463 L475,462.8 L477.3,462.7 L479.7,462.8 L482,463 L484.4,463.2 L486.7,463.6 L489.1,464 L491.4,464.4 L493.8,464.9 L496.1,465.3 L498.5,465.8 L500.8,466.2 L503.2,466.7 L505.5,467.1 L507.9,467.4 L510.3,467.8 L512.6,468.1 L515,468.4 L517.3,468.7 L519.7,468.9 L522,469.1 L524.4,469.3 L526.7,469.5 L529.1,469.6 L531.4,469.8 L533.8,469.9 L536.1,470 L538.5,470.1 L540.8,470.2 L543.2,470.3 L545.6,470.4 L547.9,470.4 L550.3,470.5 L552.6,470.5 L555,470.6 L557.3,470.6 L559.7,470.7 L562,470.7 L564.4,470.7 L566.7,470.8 L569.1,470.8 L571.4,470.8 L573.8,470.9 L576.1,470.9 L578.5,470.9 L580.9,470.9 L583.2,470.9 L585.6,471 L587.9,471 L590.3,471 L592.6,471 L595,471 L597.3,471 L599.7,471 L602,471.1 L604.4,471.1 L606.7,471.1 L609.1,471.1 L611.4,471.1 L613.8,471.1 L616.2,471.1 L618.5,471.1 L620.9,471.1 L623.2,471.1 L625.6,471.2 L627.9,471.2 L630.3,471.2 L632.6,471.2 L635,471.2 L637.3,471.2 L639.7,471.2 L642,471.2 L644.4,471.2 L646.7,471.2 L649.1,471.2 L651.5,471.2 L653.8,471.2 L656.2,471.2 L658.5,471.2 L660.9,471.2 L663.2,471.2 L665.6,471.2 L667.9,471.3 L670.3,471.3 L672.6,471.3 L675,471.3 L677.3,471.3 L679.7,471.3 L682,471.3 L684.4,471.3" fill="none" stroke="#2020ff" stroke-width="0.85"/>
<path d="M402,469.2 L404.4,469.1 L406.7,468.9 L409.1,468.8 L411.4,468.6 L413.8,468.4 L416.1,468.2 L418.5,467.9 L420.8,467.6 L423.2,467.3 L425.5,467 L427.9,466.6 L430.2,466.1 L432.6,465.6 L434.9,465.1 L437.3,464.4 L439.7,463.8 L442,463 L444.4,462.1 L446.7,461.2 L449.1,460.2 L451.4,459.1 L453.8,458 L456.1,456.7 L458.5,455.5 L460.8,454.2 L463.2,452.9 L465.5,451.6 L467.9,450.5 L470.2,449.5 L472.6,448.8 L475,448.3 L477.3,448.2 L479.7,448.3 L482,448.8 L484.4,449.6 L486.7,450.5 L489.1,451.7 L491.4,452.9 L493.8,454.2 L496.1,455.5 L498.5,456.8 L500.8,458 L503.2,459.1 L505.5,460.2 L507.9,461.2 L510.3,462.2 L512.6,463 L515,463.8 L517.3,464.5 L519.7,465.1 L522,465.6 L524.4,466.1 L526.7,466.6 L529.1,467 L531.4,467.3 L533.8,467.6 L536.1,467.9 L538.5,468.2 L540.8,468.4 L543.2,468.6 L545.6,468.8 L547.9,468.9 L550.3,469.1 L552.6,469.2 L555,469.3 L557.3,469.5 L559.7,469.6 L562,469.6 L564.4,469.7 L566.7,469.8 L569.1,469.9 L571.4,470 L573.8,470 L576.1,470.1 L578.5,470.1 L580.9,470.2 L583.2,470.2 L585.6,470.3 L587.9,470.3 L590.3,470.4 L592.6,470.4 L595,470.5 L597.3,470.5 L599.7,470.5 L602,470.6 L604.4,470.6 L606.7,470.6 L609.1,470.6 L611.4,470.7 L613.8,470.7 L616.2,470.7 L618.5,470.7 L620.9,470.8 L623.2,470.8 L625.6,470.8 L627.9,470.8 L630.3,470.8 L632.6,470.8 L635,470.9 L637.3,470.9 L639.7,470.9 L642,470.9 L644.4,470.9 L646.7,470.9 L649.1,470.9 L651.5,471 L653.8,471 L656.2,471 L658.5,471 L660.9,471 L663.2,471 L665.6,471 L667.9,471 L670.3,471 L672.6,471 L675,471.1 L677.3,471.1 L679.7,471.1 L682,471.1 L684.4,471.1" fill="none" stroke="#ff2020" stroke-width="0.85"/>
<path d="M402,465.7 L404.4,465.4 L406.7,465.1 L409.1,464.8 L411.4,464.4 L413.8,464 L416.1,463.6 L418.5,463.1 L420.8,462.7 L423.2,462.1 L425.5,461.5 L427.9,460.9 L430.2,460.2 L432.6,459.5 L434.9,458.6 L437.3,457.7 L439.7,456.8 L442,455.7 L444.4,454.5 L446.7,453.3 L449.1,451.9 L451.4,450.4 L453.8,448.8 L456.1,447.1 L458.5,445.3 L460.8,443.3 L463.2,441.2 L465.5,439 L467.9,436.7 L470.2,434.3 L472.6,431.8 L475,429.3 L477.3,426.7 L479.7,424.1 L482,421.5 L484.4,419.1 L486.7,416.7 L489.1,414.6 L491.4,412.7 L493.8,411 L496.1,409.6 L498.5,408.6 L500.8,407.8 L503.2,407.3 L505.5,406.9 L507.9,406.8 L510.3,406.8 L512.6,406.9 L515,407 L517.3,407.2 L519.7,407.4 L522,407.7 L524.4,408.1 L526.7,408.7 L529.1,409.3 L531.4,410.2 L533.8,411.1 L536.1,412.2 L538.5,413.4 L540.8,414.6 L543.2,415.9 L545.6,417.2 L547.9,418.6 L550.3,420 L552.6,421.4 L555,422.8 L557.3,424.3 L559.7,425.8 L562,427.4 L564.4,428.9 L566.7,430.5 L569.1,432.1 L571.4,433.6 L573.8,435.2 L576.1,436.7 L578.5,438.2 L580.9,439.7 L583.2,441.1 L585.6,442.4 L587.9,443.7 L590.3,444.9 L592.6,446.1 L595,447.2 L597.3,448.2 L599.7,449.2 L602,450.1 L604.4,450.9 L606.7,451.7 L609.1,452.4 L611.4,453.1 L613.8,453.7 L616.2,454.3 L618.5,454.8 L620.9,455.3 L623.2,455.8 L625.6,456.2 L627.9,456.6 L630.3,457 L632.6,457.3 L635,457.6 L637.3,457.8 L639.7,458.1 L642,458.3 L644.4,458.5 L646.7,458.7 L649.1,458.9 L651.5,459 L653.8,459.1 L656.2,459.2 L658.5,459.3 L660.9,459.4 L663.2,459.5 L665.6,459.6 L667.9,459.7 L670.3,459.7 L672.6,459.8 L675,459.8 L677.3,459.9 L679.7,459.9 L682,459.9 L684.4,460" fill="none" stroke="#0000ff" stroke-width="1.25"/>
<path d="M402,463.1 L404.4,462.8 L406.7,462.4 L409.1,462.1 L411.4,461.7 L413.8,461.2 L416.1,460.7 L418.5,460.2 L420.8,459.6 L423.2,459 L425.5,458.3 L427.9,457.5 L430.2,456.6 L432.6,455.7 L434.9,454.6 L437.3,453.4 L439.7,452.1 L442,450.7 L444.4,449.1 L446.7,447.3 L449.1,445.4 L451.4,443.3 L453.8,441 L456.1,438.5 L458.5,435.9 L460.8,433 L463.2,430 L465.5,426.8 L467.9,423.5 L470.2,420.1 L472.6,416.6 L475,413.2 L477.3,409.8 L479.7,406.6 L482,403.7 L484.4,401.1 L486.7,398.9 L489.1,397.2 L491.4,395.8 L493.8,395 L496.1,394.5 L498.5,394.6 L500.8,395 L503.2,395.8 L505.5,397.1 L507.9,398.6 L510.3,400.6 L512.6,402.7 L515,405.2 L517.3,407.8 L519.7,410.6 L522,413.4 L524.4,416.3 L526.7,419.2 L529.1,422 L531.4,424.8 L533.8,427.5 L536.1,430 L538.5,432.4 L540.8,434.7 L543.2,436.8 L545.6,438.8 L547.9,440.6 L550.3,442.3 L552.6,443.9 L555,445.3 L557.3,446.6 L559.7,447.8 L562,448.9 L564.4,449.8 L566.7,450.7 L569.1,451.5 L571.4,452.3 L573.8,452.9 L576.1,453.5 L578.5,454.1 L580.9,454.5 L583.2,455 L585.6,455.4 L587.9,455.8 L590.3,456.1 L592.6,456.4 L595,456.7 L597.3,457 L599.7,457.2 L602,457.5 L604.4,457.7 L606.7,457.9 L609.1,458.1 L611.4,458.3 L613.8,458.5 L616.2,458.7 L618.5,458.9 L620.9,459.1 L623.2,459.2 L625.6,459.4 L627.9,459.6 L630.3,459.7 L632.6,459.9 L635,460 L637.3,460.1 L639.7,460.3 L642,460.4 L644.4,460.5 L646.7,460.6 L649.1,460.7 L651.5,460.8 L653.8,460.8 L656.2,460.9 L658.5,461 L660.9,461 L663.2,461 L665.6,461 L667.9,461 L670.3,461 L672.6,461 L675,461 L677.3,461 L679.7,461.1 L682,461.1 L684.4,461.2" fill="none" stroke="#ff0000" stroke-width="1.25"/>
</g>
<g clip-path="url(#cdd)">
<line x1="402" y1="491.3" x2="684.4" y2="491.3" stroke="#000" stroke-width="0.95" stroke-dasharray="3.2,2.3"/>
<path d="M402,492.7 L404.4,492.9 L406.7,493.1 L409.1,493.1 L411.4,493.2 L413.8,493.2 L416.1,493.2 L418.5,493.1 L420.8,493.1 L423.2,493 L425.5,493 L427.9,493 L430.2,493 L432.6,493.1 L434.9,493.2 L437.3,493.3 L439.7,493.6 L442,493.9 L444.4,494.2 L446.7,494.7 L449.1,495.1 L451.4,495.6 L453.8,496.2 L456.1,496.7 L458.5,497.3 L460.8,497.8 L463.2,498.4 L465.5,498.9 L467.9,499.4 L470.2,499.8 L472.6,500.2 L475,500.6 L477.3,500.8 L479.7,501 L482,501.1 L484.4,501.1 L486.7,501 L489.1,500.9 L491.4,500.6 L493.8,500.2 L496.1,499.8 L498.5,499.3 L500.8,498.6 L503.2,497.9 L505.5,497 L507.9,496.1 L510.3,495 L512.6,493.9 L515,492.6 L517.3,491.2 L519.7,489.8 L522,488.3 L524.4,486.8 L526.7,485.4 L529.1,484 L531.4,482.8 L533.8,481.8 L536.1,480.9 L538.5,480.2 L540.8,479.6 L543.2,479.2 L545.6,478.9 L547.9,478.6 L550.3,478.4 L552.6,478.4 L555,478.4 L557.3,478.5 L559.7,478.6 L562,478.9 L564.4,479.2 L566.7,479.6 L569.1,480.1 L571.4,480.6 L573.8,481.1 L576.1,481.7 L578.5,482.2 L580.9,482.8 L583.2,483.3 L585.6,483.8 L587.9,484.3 L590.3,484.8 L592.6,485.3 L595,485.7 L597.3,486.1 L599.7,486.5 L602,486.9 L604.4,487.3 L606.7,487.6 L609.1,488 L611.4,488.3 L613.8,488.5 L616.2,488.8 L618.5,489 L620.9,489.2 L623.2,489.4 L625.6,489.6 L627.9,489.7 L630.3,489.8 L632.6,489.9 L635,490 L637.3,490.1 L639.7,490.1 L642,490.2 L644.4,490.2 L646.7,490.3 L649.1,490.3 L651.5,490.3 L653.8,490.3 L656.2,490.3 L658.5,490.3 L660.9,490.4 L663.2,490.4 L665.6,490.4 L667.9,490.4 L670.3,490.4 L672.6,490.4 L675,490.5 L677.3,490.5 L679.7,490.6 L682,490.6 L684.4,490.7" fill="none" stroke="#333" stroke-width="0.8"/>
</g>
<g clip-path="url(#cfd)">
<path d="M402,625.1 L404.4,625.1 L406.7,625.1 L409.1,625.1 L411.4,625.1 L413.8,625.1 L416.1,625.1 L418.5,625.1 L420.8,625.1 L423.2,625.1 L425.5,625.1 L427.9,625.1 L430.2,625.1 L432.6,625 L434.9,625 L437.3,625 L439.7,625 L442,625 L444.4,625 L446.7,625 L449.1,625 L451.4,625 L453.8,625 L456.1,624.9 L458.5,624.9 L460.8,624.9 L463.2,624.9 L465.5,624.9 L467.9,624.9 L470.2,624.9 L472.6,624.9 L475,624.8 L477.3,624.8 L479.7,624.8 L482,624.8 L484.4,624.8 L486.7,624.7 L489.1,624.7 L491.4,624.7 L493.8,624.7 L496.1,624.6 L498.5,624.6 L500.8,624.6 L503.2,624.5 L505.5,624.5 L507.9,624.5 L510.3,624.4 L512.6,624.4 L515,624.3 L517.3,624.3 L519.7,624.2 L522,624.2 L524.4,624.1 L526.7,624.1 L529.1,624 L531.4,623.9 L533.8,623.9 L536.1,623.8 L538.5,623.7 L540.8,623.6 L543.2,623.5 L545.6,623.5 L547.9,623.4 L550.3,623.3 L552.6,623.1 L555,623 L557.3,622.9 L559.7,622.8 L562,622.7 L564.4,622.5 L566.7,622.4 L569.1,622.2 L571.4,622.1 L573.8,621.9 L576.1,621.7 L578.5,621.6 L580.9,621.4 L583.2,621.2 L585.6,621 L587.9,620.8 L590.3,620.6 L592.6,620.4 L595,620.1 L597.3,619.9 L599.7,619.7 L602,619.4 L604.4,619.2 L606.7,618.9 L609.1,618.6 L611.4,618.4 L613.8,618.1 L616.2,617.8 L618.5,617.5 L620.9,617.2 L623.2,616.9 L625.6,616.6 L627.9,616.3 L630.3,616.1 L632.6,615.9 L635,615.7 L637.3,615.6 L639.7,615.4 L642,615.2 L644.4,615 L646.7,614.9 L649.1,614.7 L651.5,614.5 L653.8,614.4 L656.2,614.2 L658.5,614 L660.9,613.9 L663.2,613.7 L665.6,613.6 L667.9,613.5 L670.3,613.3 L672.6,613.2 L675,613.1 L677.3,613 L679.7,612.9 L682,612.8 L684.4,612.7 L684.4,627.5 L402,627.5 Z" fill="#fff"/>
<path d="M402,625 L404.4,625 L406.7,624.9 L409.1,624.9 L411.4,624.9 L413.8,624.9 L416.1,624.9 L418.5,624.9 L420.8,624.9 L423.2,624.8 L425.5,624.8 L427.9,624.8 L430.2,624.8 L432.6,624.8 L434.9,624.8 L437.3,624.7 L439.7,624.7 L442,624.7 L444.4,624.7 L446.7,624.6 L449.1,624.6 L451.4,624.6 L453.8,624.6 L456.1,624.5 L458.5,624.5 L460.8,624.5 L463.2,624.4 L465.5,624.4 L467.9,624.4 L470.2,624.3 L472.6,624.3 L475,624.3 L477.3,624.2 L479.7,624.2 L482,624.1 L484.4,624.1 L486.7,624 L489.1,624 L491.4,623.9 L493.8,623.9 L496.1,623.8 L498.5,623.7 L500.8,623.7 L503.2,623.6 L505.5,623.6 L507.9,623.5 L510.3,623.4 L512.6,623.3 L515,623.3 L517.3,623.2 L519.7,623.1 L522,623 L524.4,622.9 L526.7,622.8 L529.1,622.7 L531.4,622.6 L533.8,622.5 L536.1,622.4 L538.5,622.3 L540.8,622.2 L543.2,622.1 L545.6,622 L547.9,621.9 L550.3,621.7 L552.6,621.6 L555,621.5 L557.3,621.4 L559.7,621.2 L562,621.1 L564.4,620.9 L566.7,620.8 L569.1,620.7 L571.4,620.5 L573.8,620.4 L576.1,620.2 L578.5,620 L580.9,619.9 L583.2,619.7 L585.6,619.6 L587.9,619.4 L590.3,619.2 L592.6,619 L595,618.9 L597.3,618.7 L599.7,618.5 L602,618.3 L604.4,618.2 L606.7,618 L609.1,617.8 L611.4,617.6 L613.8,617.4 L616.2,617.2 L618.5,617 L620.9,616.9 L623.2,616.7 L625.6,616.5 L627.9,616.3 L630.3,616.1 L632.6,615.9 L635,615.7 L637.3,615.6 L639.7,615.4 L642,615.2 L644.4,615 L646.7,614.9 L649.1,614.7 L651.5,614.5 L653.8,614.4 L656.2,614.2 L658.5,614 L660.9,613.9 L663.2,613.7 L665.6,613.6 L667.9,613.5 L670.3,613.3 L672.6,613.2 L675,613.1 L677.3,613 L679.7,612.9 L682,612.8 L684.4,612.7 L684.4,609.3 L682,609.5 L679.7,609.7 L677.3,609.9 L675,610.2 L672.6,610.4 L670.3,610.7 L667.9,611 L665.6,611.2 L663.2,611.5 L660.9,611.8 L658.5,612.1 L656.2,612.4 L653.8,612.8 L651.5,613.1 L649.1,613.4 L646.7,613.7 L644.4,614 L642,614.4 L639.7,614.7 L637.3,615 L635,615.3 L632.6,615.7 L630.3,616 L627.9,616.3 L625.6,616.6 L623.2,616.9 L620.9,617.2 L618.5,617.5 L616.2,617.8 L613.8,618.1 L611.4,618.4 L609.1,618.6 L606.7,618.9 L604.4,619.2 L602,619.4 L599.7,619.7 L597.3,619.9 L595,620.1 L592.6,620.4 L590.3,620.6 L587.9,620.8 L585.6,621 L583.2,621.2 L580.9,621.4 L578.5,621.6 L576.1,621.7 L573.8,621.9 L571.4,622.1 L569.1,622.2 L566.7,622.4 L564.4,622.5 L562,622.7 L559.7,622.8 L557.3,622.9 L555,623 L552.6,623.1 L550.3,623.3 L547.9,623.4 L545.6,623.5 L543.2,623.5 L540.8,623.6 L538.5,623.7 L536.1,623.8 L533.8,623.9 L531.4,623.9 L529.1,624 L526.7,624.1 L524.4,624.1 L522,624.2 L519.7,624.2 L517.3,624.3 L515,624.3 L512.6,624.4 L510.3,624.4 L507.9,624.5 L505.5,624.5 L503.2,624.5 L500.8,624.6 L498.5,624.6 L496.1,624.6 L493.8,624.7 L491.4,624.7 L489.1,624.7 L486.7,624.7 L484.4,624.8 L482,624.8 L479.7,624.8 L477.3,624.8 L475,624.8 L472.6,624.9 L470.2,624.9 L467.9,624.9 L465.5,624.9 L463.2,624.9 L460.8,624.9 L458.5,624.9 L456.1,624.9 L453.8,625 L451.4,625 L449.1,625 L446.7,625 L444.4,625 L442,625 L439.7,625 L437.3,625 L434.9,625 L432.6,625 L430.2,625.1 L427.9,625.1 L425.5,625.1 L423.2,625.1 L420.8,625.1 L418.5,625.1 L416.1,625.1 L413.8,625.1 L411.4,625.1 L409.1,625.1 L406.7,625.1 L404.4,625.1 L402,625.1 Z" fill="#f4a460"/>
<path d="M402,625 L404.4,625 L406.7,624.9 L409.1,624.9 L411.4,624.9 L413.8,624.9 L416.1,624.9 L418.5,624.9 L420.8,624.9 L423.2,624.8 L425.5,624.8 L427.9,624.8 L430.2,624.8 L432.6,624.8 L434.9,624.8 L437.3,624.7 L439.7,624.7 L442,624.7 L444.4,624.7 L446.7,624.6 L449.1,624.6 L451.4,624.6 L453.8,624.6 L456.1,624.5 L458.5,624.5 L460.8,624.5 L463.2,624.4 L465.5,624.4 L467.9,624.4 L470.2,624.3 L472.6,624.3 L475,624.3 L477.3,624.2 L479.7,624.2 L482,624.1 L484.4,624.1 L486.7,624 L489.1,624 L491.4,623.9 L493.8,623.9 L496.1,623.8 L498.5,623.7 L500.8,623.7 L503.2,623.6 L505.5,623.6 L507.9,623.5 L510.3,623.4 L512.6,623.3 L515,623.3 L517.3,623.2 L519.7,623.1 L522,623 L524.4,622.9 L526.7,622.8 L529.1,622.7 L531.4,622.6 L533.8,622.5 L536.1,622.4 L538.5,622.3 L540.8,622.2 L543.2,622.1 L545.6,622 L547.9,621.9 L550.3,621.7 L552.6,621.6 L555,621.5 L557.3,621.4 L559.7,621.2 L562,621.1 L564.4,620.9 L566.7,620.8 L569.1,620.7 L571.4,620.5 L573.8,620.4 L576.1,620.2 L578.5,620 L580.9,619.9 L583.2,619.7 L585.6,619.6 L587.9,619.4 L590.3,619.2 L592.6,619 L595,618.9 L597.3,618.7 L599.7,618.5 L602,618.3 L604.4,618.2 L606.7,618 L609.1,617.8 L611.4,617.6 L613.8,617.4 L616.2,617.2 L618.5,617 L620.9,616.9 L623.2,616.7 L625.6,616.5 L627.9,616.3 L630.3,616.1 L632.6,615.9 L635,615.7 L637.3,615.6 L639.7,615.4 L642,615.2 L644.4,615 L646.7,614.9 L649.1,614.7 L651.5,614.5 L653.8,614.4 L656.2,614.2 L658.5,614 L660.9,613.9 L663.2,613.7 L665.6,613.6 L667.9,613.5 L670.3,613.3 L672.6,613.2 L675,613.1 L677.3,613 L679.7,612.9 L682,612.8 L684.4,612.7" fill="none" stroke="#2020ff" stroke-width="0.85"/>
<path d="M402,625.1 L404.4,625.1 L406.7,625.1 L409.1,625.1 L411.4,625.1 L413.8,625.1 L416.1,625.1 L418.5,625.1 L420.8,625.1 L423.2,625.1 L425.5,625.1 L427.9,625.1 L430.2,625.1 L432.6,625 L434.9,625 L437.3,625 L439.7,625 L442,625 L444.4,625 L446.7,625 L449.1,625 L451.4,625 L453.8,625 L456.1,624.9 L458.5,624.9 L460.8,624.9 L463.2,624.9 L465.5,624.9 L467.9,624.9 L470.2,624.9 L472.6,624.9 L475,624.8 L477.3,624.8 L479.7,624.8 L482,624.8 L484.4,624.8 L486.7,624.7 L489.1,624.7 L491.4,624.7 L493.8,624.7 L496.1,624.6 L498.5,624.6 L500.8,624.6 L503.2,624.5 L505.5,624.5 L507.9,624.5 L510.3,624.4 L512.6,624.4 L515,624.3 L517.3,624.3 L519.7,624.2 L522,624.2 L524.4,624.1 L526.7,624.1 L529.1,624 L531.4,623.9 L533.8,623.9 L536.1,623.8 L538.5,623.7 L540.8,623.6 L543.2,623.5 L545.6,623.5 L547.9,623.4 L550.3,623.3 L552.6,623.1 L555,623 L557.3,622.9 L559.7,622.8 L562,622.7 L564.4,622.5 L566.7,622.4 L569.1,622.2 L571.4,622.1 L573.8,621.9 L576.1,621.7 L578.5,621.6 L580.9,621.4 L583.2,621.2 L585.6,621 L587.9,620.8 L590.3,620.6 L592.6,620.4 L595,620.1 L597.3,619.9 L599.7,619.7 L602,619.4 L604.4,619.2 L606.7,618.9 L609.1,618.6 L611.4,618.4 L613.8,618.1 L616.2,617.8 L618.5,617.5 L620.9,617.2 L623.2,616.9 L625.6,616.6 L627.9,616.3 L630.3,616 L632.6,615.7 L635,615.3 L637.3,615 L639.7,614.7 L642,614.4 L644.4,614 L646.7,613.7 L649.1,613.4 L651.5,613.1 L653.8,612.8 L656.2,612.4 L658.5,612.1 L660.9,611.8 L663.2,611.5 L665.6,611.2 L667.9,611 L670.3,610.7 L672.6,610.4 L675,610.2 L677.3,609.9 L679.7,609.7 L682,609.5 L684.4,609.3" fill="none" stroke="#ff2020" stroke-width="0.85"/>
<path d="M402,619.5 L404.4,619.4 L406.7,619.2 L409.1,619 L411.4,618.7 L413.8,618.5 L416.1,618.3 L418.5,618 L420.8,617.8 L423.2,617.5 L425.5,617.2 L427.9,616.9 L430.2,616.5 L432.6,616.2 L434.9,615.8 L437.3,615.5 L439.7,615.1 L442,614.6 L444.4,614.2 L446.7,613.7 L449.1,613.2 L451.4,612.6 L453.8,612 L456.1,611.4 L458.5,610.8 L460.8,610.1 L463.2,609.3 L465.5,608.5 L467.9,607.7 L470.2,606.8 L472.6,605.8 L475,604.7 L477.3,603.6 L479.7,602.4 L482,601.1 L484.4,599.7 L486.7,598.2 L489.1,596.6 L491.4,594.9 L493.8,593 L496.1,591 L498.5,588.9 L500.8,586.6 L503.2,584.2 L505.5,581.6 L507.9,578.8 L510.3,575.9 L512.6,572.9 L515,569.7 L517.3,566.4 L519.7,563 L522,559.6 L524.4,556.3 L526.7,553 L529.1,549.9 L531.4,547.1 L533.8,544.6 L536.1,542.6 L538.5,541.1 L540.8,540.2 L543.2,539.9 L545.6,540.1 L547.9,540.8 L550.3,542 L552.6,543.6 L555,545.6 L557.3,547.9 L559.7,550.5 L562,553.3 L564.4,556.4 L566.7,559.5 L569.1,562.8 L571.4,566.1 L573.8,569.4 L576.1,572.7 L578.5,575.9 L580.9,579.1 L583.2,582.2 L585.6,585.1 L587.9,588 L590.3,590.7 L592.6,593.3 L595,595.8 L597.3,598.1 L599.7,600.3 L602,602.3 L604.4,604.2 L606.7,605.9 L609.1,607.5 L611.4,609 L613.8,610.3 L616.2,611.5 L618.5,612.6 L620.9,613.6 L623.2,614.5 L625.6,615.4 L627.9,616.1 L630.3,616.8 L632.6,617.4 L635,617.9 L637.3,618.4 L639.7,618.8 L642,619.2 L644.4,619.6 L646.7,619.9 L649.1,620.2 L651.5,620.5 L653.8,620.7 L656.2,620.9 L658.5,621.1 L660.9,621.3 L663.2,621.5 L665.6,621.6 L667.9,621.8 L670.3,621.9 L672.6,622 L675,622.2 L677.3,622.3 L679.7,622.4 L682,622.5 L684.4,622.6 L684.4,622.8 L682,622.7 L679.7,622.6 L677.3,622.5 L675,622.4 L672.6,622.3 L670.3,622.1 L667.9,622 L665.6,621.8 L663.2,621.7 L660.9,621.5 L658.5,621.4 L656.2,621.2 L653.8,621 L651.5,620.9 L649.1,620.7 L646.7,620.5 L644.4,620.3 L642,620.1 L639.7,619.9 L637.3,619.7 L635,619.5 L632.6,619.3 L630.3,619.1 L627.9,618.9 L625.6,618.7 L623.2,618.5 L620.9,618.3 L618.5,618 L616.2,617.8 L613.8,617.6 L611.4,617.4 L609.1,617.2 L606.7,616.9 L604.4,616.7 L602,616.5 L599.7,616.3 L597.3,616.1 L595,616 L592.6,615.8 L590.3,615.6 L587.9,615.5 L585.6,615.3 L583.2,615.2 L580.9,615.1 L578.5,615 L576.1,614.9 L573.8,614.8 L571.4,614.8 L569.1,614.8 L566.7,614.8 L564.4,614.8 L562,614.9 L559.7,615 L557.3,615.2 L555,615.4 L552.6,615.7 L550.3,616 L547.9,616.4 L545.6,616.7 L543.2,617.1 L540.8,617.5 L538.5,617.9 L536.1,618.3 L533.8,618.7 L531.4,619 L529.1,619.4 L526.7,619.8 L524.4,620.1 L522,620.5 L519.7,620.8 L517.3,621.1 L515,621.4 L512.6,621.7 L510.3,621.9 L507.9,622.2 L505.5,622.4 L503.2,622.6 L500.8,622.8 L498.5,623 L496.1,623.2 L493.8,623.3 L491.4,623.5 L489.1,623.6 L486.7,623.7 L484.4,623.8 L482,623.9 L479.7,624 L477.3,624.1 L475,624.2 L472.6,624.3 L470.2,624.3 L467.9,624.4 L465.5,624.5 L463.2,624.5 L460.8,624.6 L458.5,624.6 L456.1,624.6 L453.8,624.7 L451.4,624.7 L449.1,624.7 L446.7,624.8 L444.4,624.8 L442,624.8 L439.7,624.8 L437.3,624.9 L434.9,624.9 L432.6,624.9 L430.2,624.9 L427.9,624.9 L425.5,625 L423.2,625 L420.8,625 L418.5,625 L416.1,625 L413.8,625 L411.4,625.1 L409.1,625.1 L406.7,625.1 L404.4,625.1 L402,625.1 Z" fill="#6495ed"/>
<path d="M402,619.5 L404.4,619.4 L406.7,619.2 L409.1,619 L411.4,618.7 L413.8,618.5 L416.1,618.3 L418.5,618 L420.8,617.8 L423.2,617.5 L425.5,617.2 L427.9,616.9 L430.2,616.5 L432.6,616.2 L434.9,615.8 L437.3,615.5 L439.7,615.1 L442,614.6 L444.4,614.2 L446.7,613.7 L449.1,613.2 L451.4,612.6 L453.8,612 L456.1,611.4 L458.5,610.8 L460.8,610.1 L463.2,609.3 L465.5,608.5 L467.9,607.7 L470.2,606.8 L472.6,605.8 L475,604.7 L477.3,603.6 L479.7,602.4 L482,601.1 L484.4,599.7 L486.7,598.2 L489.1,596.6 L491.4,594.9 L493.8,593 L496.1,591 L498.5,588.9 L500.8,586.6 L503.2,584.2 L505.5,581.6 L507.9,578.8 L510.3,575.9 L512.6,572.9 L515,569.7 L517.3,566.4 L519.7,563 L522,559.6 L524.4,556.3 L526.7,553 L529.1,549.9 L531.4,547.1 L533.8,544.6 L536.1,542.6 L538.5,541.1 L540.8,540.2 L543.2,539.9 L545.6,540.1 L547.9,540.8 L550.3,542 L552.6,543.6 L555,545.6 L557.3,547.9 L559.7,550.5 L562,553.3 L564.4,556.4 L566.7,559.5 L569.1,562.8 L571.4,566.1 L573.8,569.4 L576.1,572.7 L578.5,575.9 L580.9,579.1 L583.2,582.2 L585.6,585.1 L587.9,588 L590.3,590.7 L592.6,593.3 L595,595.8 L597.3,598.1 L599.7,600.3 L602,602.3 L604.4,604.2 L606.7,605.9 L609.1,607.5 L611.4,609 L613.8,610.3 L616.2,611.5 L618.5,612.6 L620.9,613.6 L623.2,614.5 L625.6,615.4 L627.9,616.1 L630.3,616.8 L632.6,617.4 L635,617.9 L637.3,618.4 L639.7,618.8 L642,619.2 L644.4,619.6 L646.7,619.9 L649.1,620.2 L651.5,620.5 L653.8,620.7 L656.2,620.9 L658.5,621.1 L660.9,621.3 L663.2,621.5 L665.6,621.6 L667.9,621.8 L670.3,621.9 L672.6,622 L675,622.2 L677.3,622.3 L679.7,622.4 L682,622.5 L684.4,622.6" fill="none" stroke="#2020ff" stroke-width="0.85"/>
<path d="M402,625.1 L404.4,625.1 L406.7,625.1 L409.1,625.1 L411.4,625.1 L413.8,625 L416.1,625 L418.5,625 L420.8,625 L423.2,625 L425.5,625 L427.9,624.9 L430.2,624.9 L432.6,624.9 L434.9,624.9 L437.3,624.9 L439.7,624.8 L442,624.8 L444.4,624.8 L446.7,624.8 L449.1,624.7 L451.4,624.7 L453.8,624.7 L456.1,624.6 L458.5,624.6 L460.8,624.6 L463.2,624.5 L465.5,624.5 L467.9,624.4 L470.2,624.3 L472.6,624.3 L475,624.2 L477.3,624.1 L479.7,624 L482,623.9 L484.4,623.8 L486.7,623.7 L489.1,623.6 L491.4,623.5 L493.8,623.3 L496.1,623.2 L498.5,623 L500.8,622.8 L503.2,622.6 L505.5,622.4 L507.9,622.2 L510.3,621.9 L512.6,621.7 L515,621.4 L517.3,621.1 L519.7,620.8 L522,620.5 L524.4,620.1 L526.7,619.8 L529.1,619.4 L531.4,619 L533.8,618.7 L536.1,618.3 L538.5,617.9 L540.8,617.5 L543.2,617.1 L545.6,616.7 L547.9,616.4 L550.3,616 L552.6,615.7 L555,615.4 L557.3,615.2 L559.7,615 L562,614.9 L564.4,614.8 L566.7,614.8 L569.1,614.8 L571.4,614.8 L573.8,614.8 L576.1,614.9 L578.5,615 L580.9,615.1 L583.2,615.2 L585.6,615.3 L587.9,615.5 L590.3,615.6 L592.6,615.8 L595,616 L597.3,616.1 L599.7,616.3 L602,616.5 L604.4,616.7 L606.7,616.9 L609.1,617.2 L611.4,617.4 L613.8,617.6 L616.2,617.8 L618.5,618 L620.9,618.3 L623.2,618.5 L625.6,618.7 L627.9,618.9 L630.3,619.1 L632.6,619.3 L635,619.5 L637.3,619.7 L639.7,619.9 L642,620.1 L644.4,620.3 L646.7,620.5 L649.1,620.7 L651.5,620.9 L653.8,621 L656.2,621.2 L658.5,621.4 L660.9,621.5 L663.2,621.7 L665.6,621.8 L667.9,622 L670.3,622.1 L672.6,622.3 L675,622.4 L677.3,622.5 L679.7,622.6 L682,622.7 L684.4,622.8" fill="none" stroke="#ff2020" stroke-width="0.85"/>
<path d="M402,625 L404.4,625 L406.7,625 L409.1,625 L411.4,624.9 L413.8,624.9 L416.1,624.9 L418.5,624.9 L420.8,624.9 L423.2,624.9 L425.5,624.9 L427.9,624.8 L430.2,624.8 L432.6,624.8 L434.9,624.8 L437.3,624.8 L439.7,624.7 L442,624.7 L444.4,624.7 L446.7,624.7 L449.1,624.6 L451.4,624.6 L453.8,624.6 L456.1,624.5 L458.5,624.5 L460.8,624.5 L463.2,624.4 L465.5,624.4 L467.9,624.4 L470.2,624.3 L472.6,624.3 L475,624.2 L477.3,624.2 L479.7,624.1 L482,624.1 L484.4,624 L486.7,623.9 L489.1,623.8 L491.4,623.8 L493.8,623.7 L496.1,623.6 L498.5,623.4 L500.8,623.3 L503.2,623.2 L505.5,623 L507.9,622.9 L510.3,622.7 L512.6,622.5 L515,622.3 L517.3,622 L519.7,621.8 L522,621.5 L524.4,621.2 L526.7,620.8 L529.1,620.5 L531.4,620.1 L533.8,619.6 L536.1,619.2 L538.5,618.7 L540.8,618.2 L543.2,617.6 L545.6,617 L547.9,616.4 L550.3,615.7 L552.6,615 L555,614.3 L557.3,613.6 L559.7,612.8 L562,612 L564.4,611.3 L566.7,610.5 L569.1,609.7 L571.4,609 L573.8,608.3 L576.1,607.7 L578.5,607.1 L580.9,606.6 L583.2,606.2 L585.6,605.9 L587.9,605.7 L590.3,605.7 L592.6,605.7 L595,605.9 L597.3,606.1 L599.7,606.5 L602,606.9 L604.4,607.5 L606.7,608 L609.1,608.7 L611.4,609.3 L613.8,610 L616.2,610.7 L618.5,611.5 L620.9,612.2 L623.2,612.9 L625.6,613.6 L627.9,614.3 L630.3,615 L632.6,615.6 L635,616.2 L637.3,616.8 L639.7,617.4 L642,617.9 L644.4,618.4 L646.7,618.9 L649.1,619.4 L651.5,619.8 L653.8,620.2 L656.2,620.6 L658.5,620.9 L660.9,621.2 L663.2,621.5 L665.6,621.8 L667.9,622 L670.3,622.2 L672.6,622.4 L675,622.6 L677.3,622.8 L679.7,623 L682,623.1 L684.4,623.2 L684.4,624.1 L682,624 L679.7,623.9 L677.3,623.8 L675,623.7 L672.6,623.6 L670.3,623.5 L667.9,623.3 L665.6,623.2 L663.2,623 L660.9,622.8 L658.5,622.6 L656.2,622.4 L653.8,622.2 L651.5,621.9 L649.1,621.7 L646.7,621.4 L644.4,621.1 L642,620.8 L639.7,620.4 L637.3,620.1 L635,619.7 L632.6,619.3 L630.3,618.9 L627.9,618.5 L625.6,618.1 L623.2,617.6 L620.9,617.2 L618.5,616.7 L616.2,616.3 L613.8,615.8 L611.4,615.4 L609.1,615 L606.7,614.6 L604.4,614.2 L602,613.9 L599.7,613.6 L597.3,613.4 L595,613.2 L592.6,613.1 L590.3,613.1 L587.9,613.1 L585.6,613.3 L583.2,613.4 L580.9,613.7 L578.5,614 L576.1,614.4 L573.8,614.8 L571.4,615.2 L569.1,615.7 L566.7,616.1 L564.4,616.6 L562,617.1 L559.7,617.6 L557.3,618 L555,618.5 L552.6,619 L550.3,619.4 L547.9,619.8 L545.6,620.2 L543.2,620.6 L540.8,620.9 L538.5,621.2 L536.1,621.6 L533.8,621.8 L531.4,622.1 L529.1,622.4 L526.7,622.6 L524.4,622.8 L522,623 L519.7,623.2 L517.3,623.3 L515,623.5 L512.6,623.6 L510.3,623.7 L507.9,623.9 L505.5,624 L503.2,624.1 L500.8,624.1 L498.5,624.2 L496.1,624.3 L493.8,624.4 L491.4,624.4 L489.1,624.5 L486.7,624.5 L484.4,624.6 L482,624.6 L479.7,624.6 L477.3,624.7 L475,624.7 L472.6,624.7 L470.2,624.8 L467.9,624.8 L465.5,624.8 L463.2,624.8 L460.8,624.9 L458.5,624.9 L456.1,624.9 L453.8,624.9 L451.4,624.9 L449.1,625 L446.7,625 L444.4,625 L442,625 L439.7,625 L437.3,625 L434.9,625 L432.6,625.1 L430.2,625.1 L427.9,625.1 L425.5,625.1 L423.2,625.1 L420.8,625.1 L418.5,625.1 L416.1,625.1 L413.8,625.1 L411.4,625.2 L409.1,625.2 L406.7,625.2 L404.4,625.2 L402,625.2 Z" fill="#87cefa"/>
<path d="M402,625 L404.4,625 L406.7,625 L409.1,625 L411.4,624.9 L413.8,624.9 L416.1,624.9 L418.5,624.9 L420.8,624.9 L423.2,624.9 L425.5,624.9 L427.9,624.8 L430.2,624.8 L432.6,624.8 L434.9,624.8 L437.3,624.8 L439.7,624.7 L442,624.7 L444.4,624.7 L446.7,624.7 L449.1,624.6 L451.4,624.6 L453.8,624.6 L456.1,624.5 L458.5,624.5 L460.8,624.5 L463.2,624.4 L465.5,624.4 L467.9,624.4 L470.2,624.3 L472.6,624.3 L475,624.2 L477.3,624.2 L479.7,624.1 L482,624.1 L484.4,624 L486.7,623.9 L489.1,623.8 L491.4,623.8 L493.8,623.7 L496.1,623.6 L498.5,623.4 L500.8,623.3 L503.2,623.2 L505.5,623 L507.9,622.9 L510.3,622.7 L512.6,622.5 L515,622.3 L517.3,622 L519.7,621.8 L522,621.5 L524.4,621.2 L526.7,620.8 L529.1,620.5 L531.4,620.1 L533.8,619.6 L536.1,619.2 L538.5,618.7 L540.8,618.2 L543.2,617.6 L545.6,617 L547.9,616.4 L550.3,615.7 L552.6,615 L555,614.3 L557.3,613.6 L559.7,612.8 L562,612 L564.4,611.3 L566.7,610.5 L569.1,609.7 L571.4,609 L573.8,608.3 L576.1,607.7 L578.5,607.1 L580.9,606.6 L583.2,606.2 L585.6,605.9 L587.9,605.7 L590.3,605.7 L592.6,605.7 L595,605.9 L597.3,606.1 L599.7,606.5 L602,606.9 L604.4,607.5 L606.7,608 L609.1,608.7 L611.4,609.3 L613.8,610 L616.2,610.7 L618.5,611.5 L620.9,612.2 L623.2,612.9 L625.6,613.6 L627.9,614.3 L630.3,615 L632.6,615.6 L635,616.2 L637.3,616.8 L639.7,617.4 L642,617.9 L644.4,618.4 L646.7,618.9 L649.1,619.4 L651.5,619.8 L653.8,620.2 L656.2,620.6 L658.5,620.9 L660.9,621.2 L663.2,621.5 L665.6,621.8 L667.9,622 L670.3,622.2 L672.6,622.4 L675,622.6 L677.3,622.8 L679.7,623 L682,623.1 L684.4,623.2" fill="none" stroke="#2020ff" stroke-width="0.85"/>
<path d="M402,625.2 L404.4,625.2 L406.7,625.2 L409.1,625.2 L411.4,625.2 L413.8,625.1 L416.1,625.1 L418.5,625.1 L420.8,625.1 L423.2,625.1 L425.5,625.1 L427.9,625.1 L430.2,625.1 L432.6,625.1 L434.9,625 L437.3,625 L439.7,625 L442,625 L444.4,625 L446.7,625 L449.1,625 L451.4,624.9 L453.8,624.9 L456.1,624.9 L458.5,624.9 L460.8,624.9 L463.2,624.8 L465.5,624.8 L467.9,624.8 L470.2,624.8 L472.6,624.7 L475,624.7 L477.3,624.7 L479.7,624.6 L482,624.6 L484.4,624.6 L486.7,624.5 L489.1,624.5 L491.4,624.4 L493.8,624.4 L496.1,624.3 L498.5,624.2 L500.8,624.1 L503.2,624.1 L505.5,624 L507.9,623.9 L510.3,623.7 L512.6,623.6 L515,623.5 L517.3,623.3 L519.7,623.2 L522,623 L524.4,622.8 L526.7,622.6 L529.1,622.4 L531.4,622.1 L533.8,621.8 L536.1,621.6 L538.5,621.2 L540.8,620.9 L543.2,620.6 L545.6,620.2 L547.9,619.8 L550.3,619.4 L552.6,619 L555,618.5 L557.3,618 L559.7,617.6 L562,617.1 L564.4,616.6 L566.7,616.1 L569.1,615.7 L571.4,615.2 L573.8,614.8 L576.1,614.4 L578.5,614 L580.9,613.7 L583.2,613.4 L585.6,613.3 L587.9,613.1 L590.3,613.1 L592.6,613.1 L595,613.2 L597.3,613.4 L599.7,613.6 L602,613.9 L604.4,614.2 L606.7,614.6 L609.1,615 L611.4,615.4 L613.8,615.8 L616.2,616.3 L618.5,616.7 L620.9,617.2 L623.2,617.6 L625.6,618.1 L627.9,618.5 L630.3,618.9 L632.6,619.3 L635,619.7 L637.3,620.1 L639.7,620.4 L642,620.8 L644.4,621.1 L646.7,621.4 L649.1,621.7 L651.5,621.9 L653.8,622.2 L656.2,622.4 L658.5,622.6 L660.9,622.8 L663.2,623 L665.6,623.2 L667.9,623.3 L670.3,623.5 L672.6,623.6 L675,623.7 L677.3,623.8 L679.7,623.9 L682,624 L684.4,624.1" fill="none" stroke="#3050ff" stroke-width="0.85"/>
<path d="M402,625.3 L404.4,625.3 L406.7,625.3 L409.1,625.3 L411.4,625.3 L413.8,625.3 L416.1,625.3 L418.5,625.3 L420.8,625.2 L423.2,625.2 L425.5,625.2 L427.9,625.2 L430.2,625.2 L432.6,625.1 L434.9,625.1 L437.3,625.1 L439.7,625.1 L442,625 L444.4,625 L446.7,625 L449.1,624.9 L451.4,624.9 L453.8,624.9 L456.1,624.8 L458.5,624.8 L460.8,624.8 L463.2,624.7 L465.5,624.7 L467.9,624.7 L470.2,624.7 L472.6,624.7 L475,624.6 L477.3,624.6 L479.7,624.6 L482,624.7 L484.4,624.7 L486.7,624.7 L489.1,624.7 L491.4,624.7 L493.8,624.8 L496.1,624.8 L498.5,624.8 L500.8,624.9 L503.2,624.9 L505.5,625 L507.9,625 L510.3,625 L512.6,625 L515,625.1 L517.3,625.1 L519.7,625.1 L522,625.1 L524.4,625.2 L526.7,625.2 L529.1,625.2 L531.4,625.2 L533.8,625.2 L536.1,625.3 L538.5,625.3 L540.8,625.3 L543.2,625.3 L545.6,625.3 L547.9,625.3 L550.3,625.3 L552.6,625.3 L555,625.3 L557.3,625.3 L559.7,625.4 L562,625.4 L564.4,625.4 L566.7,625.4 L569.1,625.4 L571.4,625.4 L573.8,625.4 L576.1,625.4 L578.5,625.4 L580.9,625.4 L583.2,625.4 L585.6,625.4 L587.9,625.4 L590.3,625.4 L592.6,625.4 L595,625.4 L597.3,625.4 L599.7,625.4 L602,625.4 L604.4,625.4 L606.7,625.4 L609.1,625.4 L611.4,625.4 L613.8,625.4 L616.2,625.4 L618.5,625.4 L620.9,625.4 L623.2,625.4 L625.6,625.4 L627.9,625.4 L630.3,625.5 L632.6,625.5 L635,625.5 L637.3,625.5 L639.7,625.5 L642,625.5 L644.4,625.5 L646.7,625.5 L649.1,625.5 L651.5,625.5 L653.8,625.5 L656.2,625.5 L658.5,625.5 L660.9,625.5 L663.2,625.5 L665.6,625.5 L667.9,625.5 L670.3,625.5 L672.6,625.5 L675,625.5 L677.3,625.5 L679.7,625.5 L682,625.5 L684.4,625.5 L684.4,625.3 L682,625.3 L679.7,625.3 L677.3,625.3 L675,625.3 L672.6,625.3 L670.3,625.3 L667.9,625.3 L665.6,625.3 L663.2,625.3 L660.9,625.3 L658.5,625.3 L656.2,625.3 L653.8,625.3 L651.5,625.3 L649.1,625.3 L646.7,625.3 L644.4,625.3 L642,625.3 L639.7,625.3 L637.3,625.2 L635,625.2 L632.6,625.2 L630.3,625.2 L627.9,625.2 L625.6,625.2 L623.2,625.2 L620.9,625.2 L618.5,625.2 L616.2,625.2 L613.8,625.2 L611.4,625.1 L609.1,625.1 L606.7,625.1 L604.4,625.1 L602,625.1 L599.7,625.1 L597.3,625.1 L595,625 L592.6,625 L590.3,625 L587.9,625 L585.6,625 L583.2,624.9 L580.9,624.9 L578.5,624.9 L576.1,624.9 L573.8,624.8 L571.4,624.8 L569.1,624.8 L566.7,624.7 L564.4,624.7 L562,624.7 L559.7,624.6 L557.3,624.6 L555,624.5 L552.6,624.4 L550.3,624.4 L547.9,624.3 L545.6,624.2 L543.2,624.1 L540.8,624 L538.5,623.9 L536.1,623.8 L533.8,623.7 L531.4,623.6 L529.1,623.4 L526.7,623.2 L524.4,623 L522,622.8 L519.7,622.6 L517.3,622.4 L515,622.1 L512.6,621.9 L510.3,621.6 L507.9,621.3 L505.5,620.9 L503.2,620.6 L500.8,620.2 L498.5,619.9 L496.1,619.5 L493.8,619.1 L491.4,618.8 L489.1,618.5 L486.7,618.2 L484.4,618 L482,617.8 L479.7,617.7 L477.3,617.6 L475,617.6 L472.6,617.7 L470.2,617.9 L467.9,618 L465.5,618.2 L463.2,618.5 L460.8,618.7 L458.5,619 L456.1,619.3 L453.8,619.6 L451.4,619.9 L449.1,620.2 L446.7,620.5 L444.4,620.8 L442,621.1 L439.7,621.4 L437.3,621.6 L434.9,621.9 L432.6,622.1 L430.2,622.3 L427.9,622.5 L425.5,622.7 L423.2,622.9 L420.8,623 L418.5,623.2 L416.1,623.3 L413.8,623.5 L411.4,623.6 L409.1,623.7 L406.7,623.8 L404.4,623.9 L402,624 Z" fill="#f08080"/>
<path d="M402,625.3 L404.4,625.3 L406.7,625.3 L409.1,625.3 L411.4,625.3 L413.8,625.3 L416.1,625.3 L418.5,625.3 L420.8,625.2 L423.2,625.2 L425.5,625.2 L427.9,625.2 L430.2,625.2 L432.6,625.1 L434.9,625.1 L437.3,625.1 L439.7,625.1 L442,625 L444.4,625 L446.7,625 L449.1,624.9 L451.4,624.9 L453.8,624.9 L456.1,624.8 L458.5,624.8 L460.8,624.8 L463.2,624.7 L465.5,624.7 L467.9,624.7 L470.2,624.7 L472.6,624.7 L475,624.6 L477.3,624.6 L479.7,624.6 L482,624.7 L484.4,624.7 L486.7,624.7 L489.1,624.7 L491.4,624.7 L493.8,624.8 L496.1,624.8 L498.5,624.8 L500.8,624.9 L503.2,624.9 L505.5,625 L507.9,625 L510.3,625 L512.6,625 L515,625.1 L517.3,625.1 L519.7,625.1 L522,625.1 L524.4,625.2 L526.7,625.2 L529.1,625.2 L531.4,625.2 L533.8,625.2 L536.1,625.3 L538.5,625.3 L540.8,625.3 L543.2,625.3 L545.6,625.3 L547.9,625.3 L550.3,625.3 L552.6,625.3 L555,625.3 L557.3,625.3 L559.7,625.4 L562,625.4 L564.4,625.4 L566.7,625.4 L569.1,625.4 L571.4,625.4 L573.8,625.4 L576.1,625.4 L578.5,625.4 L580.9,625.4 L583.2,625.4 L585.6,625.4 L587.9,625.4 L590.3,625.4 L592.6,625.4 L595,625.4 L597.3,625.4 L599.7,625.4 L602,625.4 L604.4,625.4 L606.7,625.4 L609.1,625.4 L611.4,625.4 L613.8,625.4 L616.2,625.4 L618.5,625.4 L620.9,625.4 L623.2,625.4 L625.6,625.4 L627.9,625.4 L630.3,625.5 L632.6,625.5 L635,625.5 L637.3,625.5 L639.7,625.5 L642,625.5 L644.4,625.5 L646.7,625.5 L649.1,625.5 L651.5,625.5 L653.8,625.5 L656.2,625.5 L658.5,625.5 L660.9,625.5 L663.2,625.5 L665.6,625.5 L667.9,625.5 L670.3,625.5 L672.6,625.5 L675,625.5 L677.3,625.5 L679.7,625.5 L682,625.5 L684.4,625.5" fill="none" stroke="#2020ff" stroke-width="0.85"/>
<path d="M402,624 L404.4,623.9 L406.7,623.8 L409.1,623.7 L411.4,623.6 L413.8,623.5 L416.1,623.3 L418.5,623.2 L420.8,623 L423.2,622.9 L425.5,622.7 L427.9,622.5 L430.2,622.3 L432.6,622.1 L434.9,621.9 L437.3,621.6 L439.7,621.4 L442,621.1 L444.4,620.8 L446.7,620.5 L449.1,620.2 L451.4,619.9 L453.8,619.6 L456.1,619.3 L458.5,619 L460.8,618.7 L463.2,618.5 L465.5,618.2 L467.9,618 L470.2,617.9 L472.6,617.7 L475,617.6 L477.3,617.6 L479.7,617.7 L482,617.8 L484.4,618 L486.7,618.2 L489.1,618.5 L491.4,618.8 L493.8,619.1 L496.1,619.5 L498.5,619.9 L500.8,620.2 L503.2,620.6 L505.5,620.9 L507.9,621.3 L510.3,621.6 L512.6,621.9 L515,622.1 L517.3,622.4 L519.7,622.6 L522,622.8 L524.4,623 L526.7,623.2 L529.1,623.4 L531.4,623.6 L533.8,623.7 L536.1,623.8 L538.5,623.9 L540.8,624 L543.2,624.1 L545.6,624.2 L547.9,624.3 L550.3,624.4 L552.6,624.4 L555,624.5 L557.3,624.6 L559.7,624.6 L562,624.7 L564.4,624.7 L566.7,624.7 L569.1,624.8 L571.4,624.8 L573.8,624.8 L576.1,624.9 L578.5,624.9 L580.9,624.9 L583.2,624.9 L585.6,625 L587.9,625 L590.3,625 L592.6,625 L595,625 L597.3,625.1 L599.7,625.1 L602,625.1 L604.4,625.1 L606.7,625.1 L609.1,625.1 L611.4,625.1 L613.8,625.2 L616.2,625.2 L618.5,625.2 L620.9,625.2 L623.2,625.2 L625.6,625.2 L627.9,625.2 L630.3,625.2 L632.6,625.2 L635,625.2 L637.3,625.2 L639.7,625.3 L642,625.3 L644.4,625.3 L646.7,625.3 L649.1,625.3 L651.5,625.3 L653.8,625.3 L656.2,625.3 L658.5,625.3 L660.9,625.3 L663.2,625.3 L665.6,625.3 L667.9,625.3 L670.3,625.3 L672.6,625.3 L675,625.3 L677.3,625.3 L679.7,625.3 L682,625.3 L684.4,625.3" fill="none" stroke="#ff2020" stroke-width="0.85"/>
<path d="M402,625.4 L404.4,625.4 L406.7,625.4 L409.1,625.4 L411.4,625.4 L413.8,625.4 L416.1,625.4 L418.5,625.4 L420.8,625.4 L423.2,625.4 L425.5,625.4 L427.9,625.4 L430.2,625.4 L432.6,625.4 L434.9,625.4 L437.3,625.3 L439.7,625.3 L442,625.3 L444.4,625.3 L446.7,625.3 L449.1,625.3 L451.4,625.2 L453.8,625.2 L456.1,625.2 L458.5,625.1 L460.8,625.1 L463.2,625 L465.5,624.9 L467.9,624.9 L470.2,624.8 L472.6,624.6 L475,624.5 L477.3,624.4 L479.7,624.2 L482,624.1 L484.4,623.9 L486.7,623.7 L489.1,623.5 L491.4,623.3 L493.8,623.1 L496.1,623 L498.5,622.8 L500.8,622.7 L503.2,622.7 L505.5,622.6 L507.9,622.7 L510.3,622.7 L512.6,622.8 L515,623 L517.3,623.2 L519.7,623.3 L522,623.5 L524.4,623.7 L526.7,623.9 L529.1,624.1 L531.4,624.2 L533.8,624.4 L536.1,624.5 L538.5,624.7 L540.8,624.8 L543.2,624.9 L545.6,624.9 L547.9,625 L550.3,625.1 L552.6,625.1 L555,625.2 L557.3,625.2 L559.7,625.2 L562,625.3 L564.4,625.3 L566.7,625.3 L569.1,625.3 L571.4,625.3 L573.8,625.3 L576.1,625.4 L578.5,625.4 L580.9,625.4 L583.2,625.4 L585.6,625.4 L587.9,625.4 L590.3,625.4 L592.6,625.4 L595,625.4 L597.3,625.4 L599.7,625.4 L602,625.4 L604.4,625.4 L606.7,625.4 L609.1,625.4 L611.4,625.4 L613.8,625.4 L616.2,625.4 L618.5,625.4 L620.9,625.4 L623.2,625.4 L625.6,625.4 L627.9,625.4 L630.3,625.5 L632.6,625.5 L635,625.5 L637.3,625.5 L639.7,625.5 L642,625.5 L644.4,625.5 L646.7,625.5 L649.1,625.5 L651.5,625.5 L653.8,625.5 L656.2,625.5 L658.5,625.5 L660.9,625.5 L663.2,625.5 L665.6,625.5 L667.9,625.5 L670.3,625.5 L672.6,625.5 L675,625.5 L677.3,625.5 L679.7,625.5 L682,625.5 L684.4,625.5 L684.4,625.4 L682,625.4 L679.7,625.4 L677.3,625.4 L675,625.4 L672.6,625.4 L670.3,625.4 L667.9,625.4 L665.6,625.4 L663.2,625.4 L660.9,625.4 L658.5,625.4 L656.2,625.4 L653.8,625.3 L651.5,625.3 L649.1,625.3 L646.7,625.3 L644.4,625.3 L642,625.3 L639.7,625.3 L637.3,625.3 L635,625.3 L632.6,625.3 L630.3,625.3 L627.9,625.3 L625.6,625.3 L623.2,625.3 L620.9,625.3 L618.5,625.2 L616.2,625.2 L613.8,625.2 L611.4,625.2 L609.1,625.2 L606.7,625.2 L604.4,625.2 L602,625.2 L599.7,625.1 L597.3,625.1 L595,625.1 L592.6,625.1 L590.3,625.1 L587.9,625 L585.6,625 L583.2,625 L580.9,625 L578.5,624.9 L576.1,624.9 L573.8,624.9 L571.4,624.8 L569.1,624.8 L566.7,624.7 L564.4,624.6 L562,624.5 L559.7,624.5 L557.3,624.3 L555,624.2 L552.6,624 L550.3,623.9 L547.9,623.6 L545.6,623.3 L543.2,623 L540.8,622.6 L538.5,622.2 L536.1,621.7 L533.8,621.1 L531.4,620.4 L529.1,619.7 L526.7,618.9 L524.4,618 L522,617.1 L519.7,616.2 L517.3,615.3 L515,614.4 L512.6,613.5 L510.3,612.8 L507.9,612.3 L505.5,612 L503.2,611.9 L500.8,612.1 L498.5,612.7 L496.1,613.5 L493.8,614.5 L491.4,615.6 L489.1,616.8 L486.7,617.8 L484.4,618.9 L482,619.8 L479.7,620.7 L477.3,621.4 L475,622.1 L472.6,622.6 L470.2,623.1 L467.9,623.5 L465.5,623.8 L463.2,624 L460.8,624.2 L458.5,624.4 L456.1,624.5 L453.8,624.6 L451.4,624.7 L449.1,624.8 L446.7,624.8 L444.4,624.9 L442,624.9 L439.7,625 L437.3,625 L434.9,625 L432.6,625.1 L430.2,625.1 L427.9,625.1 L425.5,625.1 L423.2,625.1 L420.8,625.2 L418.5,625.2 L416.1,625.2 L413.8,625.2 L411.4,625.2 L409.1,625.2 L406.7,625.3 L404.4,625.3 L402,625.3 Z" fill="#e9967a"/>
<path d="M402,625.4 L404.4,625.4 L406.7,625.4 L409.1,625.4 L411.4,625.4 L413.8,625.4 L416.1,625.4 L418.5,625.4 L420.8,625.4 L423.2,625.4 L425.5,625.4 L427.9,625.4 L430.2,625.4 L432.6,625.4 L434.9,625.4 L437.3,625.3 L439.7,625.3 L442,625.3 L444.4,625.3 L446.7,625.3 L449.1,625.3 L451.4,625.2 L453.8,625.2 L456.1,625.2 L458.5,625.1 L460.8,625.1 L463.2,625 L465.5,624.9 L467.9,624.9 L470.2,624.8 L472.6,624.6 L475,624.5 L477.3,624.4 L479.7,624.2 L482,624.1 L484.4,623.9 L486.7,623.7 L489.1,623.5 L491.4,623.3 L493.8,623.1 L496.1,623 L498.5,622.8 L500.8,622.7 L503.2,622.7 L505.5,622.6 L507.9,622.7 L510.3,622.7 L512.6,622.8 L515,623 L517.3,623.2 L519.7,623.3 L522,623.5 L524.4,623.7 L526.7,623.9 L529.1,624.1 L531.4,624.2 L533.8,624.4 L536.1,624.5 L538.5,624.7 L540.8,624.8 L543.2,624.9 L545.6,624.9 L547.9,625 L550.3,625.1 L552.6,625.1 L555,625.2 L557.3,625.2 L559.7,625.2 L562,625.3 L564.4,625.3 L566.7,625.3 L569.1,625.3 L571.4,625.3 L573.8,625.3 L576.1,625.4 L578.5,625.4 L580.9,625.4 L583.2,625.4 L585.6,625.4 L587.9,625.4 L590.3,625.4 L592.6,625.4 L595,625.4 L597.3,625.4 L599.7,625.4 L602,625.4 L604.4,625.4 L606.7,625.4 L609.1,625.4 L611.4,625.4 L613.8,625.4 L616.2,625.4 L618.5,625.4 L620.9,625.4 L623.2,625.4 L625.6,625.4 L627.9,625.4 L630.3,625.5 L632.6,625.5 L635,625.5 L637.3,625.5 L639.7,625.5 L642,625.5 L644.4,625.5 L646.7,625.5 L649.1,625.5 L651.5,625.5 L653.8,625.5 L656.2,625.5 L658.5,625.5 L660.9,625.5 L663.2,625.5 L665.6,625.5 L667.9,625.5 L670.3,625.5 L672.6,625.5 L675,625.5 L677.3,625.5 L679.7,625.5 L682,625.5 L684.4,625.5" fill="none" stroke="#2020ff" stroke-width="0.85"/>
<path d="M402,625.3 L404.4,625.3 L406.7,625.3 L409.1,625.2 L411.4,625.2 L413.8,625.2 L416.1,625.2 L418.5,625.2 L420.8,625.2 L423.2,625.1 L425.5,625.1 L427.9,625.1 L430.2,625.1 L432.6,625.1 L434.9,625 L437.3,625 L439.7,625 L442,624.9 L444.4,624.9 L446.7,624.8 L449.1,624.8 L451.4,624.7 L453.8,624.6 L456.1,624.5 L458.5,624.4 L460.8,624.2 L463.2,624 L465.5,623.8 L467.9,623.5 L470.2,623.1 L472.6,622.6 L475,622.1 L477.3,621.4 L479.7,620.7 L482,619.8 L484.4,618.9 L486.7,617.8 L489.1,616.8 L491.4,615.6 L493.8,614.5 L496.1,613.5 L498.5,612.7 L500.8,612.1 L503.2,611.9 L505.5,612 L507.9,612.3 L510.3,612.8 L512.6,613.5 L515,614.4 L517.3,615.3 L519.7,616.2 L522,617.1 L524.4,618 L526.7,618.9 L529.1,619.7 L531.4,620.4 L533.8,621.1 L536.1,621.7 L538.5,622.2 L540.8,622.6 L543.2,623 L545.6,623.3 L547.9,623.6 L550.3,623.9 L552.6,624 L555,624.2 L557.3,624.3 L559.7,624.5 L562,624.5 L564.4,624.6 L566.7,624.7 L569.1,624.8 L571.4,624.8 L573.8,624.9 L576.1,624.9 L578.5,624.9 L580.9,625 L583.2,625 L585.6,625 L587.9,625 L590.3,625.1 L592.6,625.1 L595,625.1 L597.3,625.1 L599.7,625.1 L602,625.2 L604.4,625.2 L606.7,625.2 L609.1,625.2 L611.4,625.2 L613.8,625.2 L616.2,625.2 L618.5,625.2 L620.9,625.3 L623.2,625.3 L625.6,625.3 L627.9,625.3 L630.3,625.3 L632.6,625.3 L635,625.3 L637.3,625.3 L639.7,625.3 L642,625.3 L644.4,625.3 L646.7,625.3 L649.1,625.3 L651.5,625.3 L653.8,625.3 L656.2,625.4 L658.5,625.4 L660.9,625.4 L663.2,625.4 L665.6,625.4 L667.9,625.4 L670.3,625.4 L672.6,625.4 L675,625.4 L677.3,625.4 L679.7,625.4 L682,625.4 L684.4,625.4" fill="none" stroke="#ff2020" stroke-width="0.85"/>
<path d="M402,617.2 L404.4,617.1 L406.7,617 L409.1,616.9 L411.4,616.7 L413.8,616.6 L416.1,616.4 L418.5,616.2 L420.8,616 L423.2,615.8 L425.5,615.5 L427.9,615.3 L430.2,614.9 L432.6,614.6 L434.9,614.2 L437.3,613.7 L439.7,613.3 L442,612.7 L444.4,612.1 L446.7,611.4 L449.1,610.7 L451.4,609.8 L453.8,609 L456.1,608 L458.5,607 L460.8,606.1 L463.2,605.1 L465.5,604 L467.9,602.9 L470.2,601.8 L472.6,600.5 L475,599.2 L477.3,597.9 L479.7,596.5 L482,595 L484.4,593.2 L486.7,591.3 L489.1,589.3 L491.4,587.2 L493.8,585 L496.1,582.6 L498.5,580.1 L500.8,577.4 L503.2,574.5 L505.5,571.5 L507.9,568.3 L510.3,564.9 L512.6,561.4 L515,557.8 L517.3,554.2 L519.7,550.5 L522,546.9 L524.4,543.4 L526.7,540 L529.1,536.9 L531.4,534.1 L533.8,531.7 L536.1,529.7 L538.5,528.3 L540.8,527.3 L543.2,526.9 L545.6,527 L547.9,527.5 L550.3,528.5 L552.6,529.9 L555,531.6 L557.3,533.5 L559.7,535.8 L562,538.2 L564.4,540.7 L566.7,543.3 L569.1,546 L571.4,548.8 L573.8,551.5 L576.1,554.2 L578.5,556.8 L580.9,559.4 L583.2,561.9 L585.6,564.3 L587.9,566.6 L590.3,568.7 L592.6,570.8 L595,572.8 L597.3,574.6 L599.7,576.4 L602,578.1 L604.4,579.7 L606.7,581.1 L609.1,582.6 L611.4,583.9 L613.8,585.1 L616.2,586.3 L618.5,587.5 L620.9,588.5 L623.2,589.5 L625.6,590.5 L627.9,591.4 L630.3,592.3 L632.6,593.1 L635,593.8 L637.3,594.5 L639.7,595.2 L642,595.8 L644.4,596.4 L646.7,597 L649.1,597.5 L651.5,598 L653.8,598.4 L656.2,598.8 L658.5,599.2 L660.9,599.6 L663.2,599.9 L665.6,600.2 L667.9,600.5 L670.3,600.8 L672.6,601.1 L675,601.3 L677.3,601.6 L679.7,601.8 L682,602 L684.4,602.2" fill="none" stroke="#0000ff" stroke-width="1.25"/>
<path d="M402,622.5 L404.4,622.3 L406.7,622.2 L409.1,622 L411.4,621.8 L413.8,621.6 L416.1,621.5 L418.5,621.2 L420.8,621 L423.2,620.8 L425.5,620.5 L427.9,620.3 L430.2,620 L432.6,619.7 L434.9,619.3 L437.3,618.9 L439.7,618.6 L442,618.1 L444.4,617.6 L446.7,617.1 L449.1,616.6 L451.4,616 L453.8,615.3 L456.1,614.6 L458.5,613.8 L460.8,613 L463.2,612.1 L465.5,611.1 L467.9,610.1 L470.2,609.1 L472.6,608 L475,607 L477.3,606 L479.7,605 L482,604.2 L484.4,603.4 L486.7,602.8 L489.1,602.3 L491.4,601.9 L493.8,601.7 L496.1,601.5 L498.5,601.3 L500.8,601.2 L503.2,601 L505.5,600.9 L507.9,600.8 L510.3,600.8 L512.6,600.9 L515,601 L517.3,601.2 L519.7,601.5 L522,601.9 L524.4,602.3 L526.7,602.8 L529.1,603.2 L531.4,603.7 L533.8,604.1 L536.1,604.4 L538.5,604.7 L540.8,605 L543.2,605.2 L545.6,605.3 L547.9,605.3 L550.3,605.4 L552.6,605.3 L555,605.2 L557.3,605.1 L559.7,605 L562,604.8 L564.4,604.7 L566.7,604.5 L569.1,604.3 L571.4,604.1 L573.8,603.9 L576.1,603.8 L578.5,603.6 L580.9,603.5 L583.2,603.4 L585.6,603.3 L587.9,603.3 L590.3,603.3 L592.6,603.3 L595,603.3 L597.3,603.4 L599.7,603.5 L602,603.6 L604.4,603.7 L606.7,603.8 L609.1,603.9 L611.4,604 L613.8,604.2 L616.2,604.3 L618.5,604.4 L620.9,604.5 L623.2,604.6 L625.6,604.6 L627.9,604.7 L630.3,604.7 L632.6,604.8 L635,604.8 L637.3,604.8 L639.7,604.8 L642,604.7 L644.4,604.7 L646.7,604.7 L649.1,604.6 L651.5,604.6 L653.8,604.6 L656.2,604.6 L658.5,604.6 L660.9,604.6 L663.2,604.6 L665.6,604.7 L667.9,604.8 L670.3,605 L672.6,605.2 L675,605.4 L677.3,605.7 L679.7,606 L682,606.3 L684.4,606.7" fill="none" stroke="#ff0000" stroke-width="1.25"/>
</g>
<g clip-path="url(#cld)">
<line x1="402" y1="663" x2="684.4" y2="663" stroke="#555" stroke-width="0.8" stroke-dasharray="3.2,2.3"/>
<path d="M402,661.3 L404.4,661.5 L406.7,661.7 L409.1,661.8 L411.4,661.9 L413.8,662 L416.1,662 L418.5,662 L420.8,662 L423.2,661.9 L425.5,661.9 L427.9,661.8 L430.2,661.7 L432.6,661.6 L434.9,661.6 L437.3,661.5 L439.7,661.4 L442,661.4 L444.4,661.4 L446.7,661.3 L449.1,661.3 L451.4,661.3 L453.8,661.2 L456.1,661.2 L458.5,661.1 L460.8,661 L463.2,660.9 L465.5,660.8 L467.9,660.6 L470.2,660.4 L472.6,660.2 L475,659.9 L477.3,659.6 L479.7,659.2 L482,658.8 L484.4,658.3 L486.7,657.7 L489.1,657.1 L491.4,656.4 L493.8,655.6 L496.1,654.8 L498.5,653.8 L500.8,652.8 L503.2,651.7 L505.5,650.5 L507.9,649.2 L510.3,647.8 L512.6,646.2 L515,644.6 L517.3,642.9 L519.7,641.1 L522,639.3 L524.4,637.5 L526.7,635.8 L529.1,634.2 L531.4,632.8 L533.8,631.7 L536.1,630.8 L538.5,630.1 L540.8,629.6 L543.2,629.3 L545.6,629.1 L547.9,629 L550.3,629.2 L552.6,629.8 L555,630.9 L557.3,632.2 L559.7,633.6 L562,635.1 L564.4,636.3 L566.7,637.4 L569.1,638.4 L571.4,639.3 L573.8,640.2 L576.1,641.1 L578.5,642 L580.9,643.1 L583.2,644.2 L585.6,645.4 L587.9,646.6 L590.3,647.8 L592.6,649 L595,650.2 L597.3,651.2 L599.7,652.1 L602,652.8 L604.4,653.4 L606.7,653.9 L609.1,654.3 L611.4,654.6 L613.8,654.8 L616.2,655.1 L618.5,655.3 L620.9,655.6 L623.2,656 L625.6,656.3 L627.9,656.7 L630.3,657.1 L632.6,657.6 L635,658 L637.3,658.4 L639.7,658.8 L642,659.2 L644.4,659.6 L646.7,659.9 L649.1,660.2 L651.5,660.5 L653.8,660.7 L656.2,660.9 L658.5,661 L660.9,661.1 L663.2,661.1 L665.6,661.1 L667.9,661.1 L670.3,661.1 L672.6,661 L675,661 L677.3,661 L679.7,661 L682,661 L684.4,661.1" fill="none" stroke="#333" stroke-width="0.8"/>
</g>
<line x1="477.3" y1="383.6" x2="477.3" y2="507.1" stroke="#111" stroke-width="1.7" stroke-dasharray="2.8,2.0"/>
<line x1="477.3" y1="525.2" x2="477.3" y2="666.4" stroke="#111" stroke-width="1.7" stroke-dasharray="2.8,2.0"/>
<line x1="503.2" y1="383.6" x2="503.2" y2="507.1" stroke="#111" stroke-width="1.7" stroke-dasharray="2.8,2.0"/>
<line x1="503.2" y1="525.2" x2="503.2" y2="666.4" stroke="#111" stroke-width="1.7" stroke-dasharray="2.8,2.0"/>
<line x1="543.1" y1="383.6" x2="543.1" y2="507.1" stroke="#111" stroke-width="1.7" stroke-dasharray="2.8,2.0"/>
<line x1="543.1" y1="525.2" x2="543.1" y2="666.4" stroke="#111" stroke-width="1.7" stroke-dasharray="2.8,2.0"/>
<circle cx="402" cy="465.8" r="2.1" fill="#0000ff"/>
<circle cx="411.4" cy="464.5" r="2.1" fill="#0000ff"/>
<circle cx="420.8" cy="462.2" r="2.1" fill="#0000ff"/>
<circle cx="430.2" cy="460.4" r="2.1" fill="#0000ff"/>
<circle cx="439.6" cy="457" r="2.1" fill="#0000ff"/>
<circle cx="449.1" cy="451.9" r="2.1" fill="#0000ff"/>
<circle cx="458.5" cy="445.1" r="2.1" fill="#0000ff"/>
<circle cx="467.9" cy="436.8" r="2.1" fill="#0000ff"/>
<circle cx="477.3" cy="426.8" r="2.1" fill="#0000ff"/>
<circle cx="486.7" cy="416.8" r="2.1" fill="#0000ff"/>
<circle cx="496.1" cy="409.5" r="2.1" fill="#0000ff"/>
<circle cx="505.5" cy="407" r="2.1" fill="#0000ff"/>
<circle cx="514.9" cy="407" r="2.1" fill="#0000ff"/>
<circle cx="524.3" cy="408.1" r="2.1" fill="#0000ff"/>
<circle cx="533.7" cy="411.1" r="2.1" fill="#0000ff"/>
<circle cx="543.1" cy="415.8" r="2.1" fill="#0000ff"/>
<circle cx="552.6" cy="421.6" r="2.1" fill="#0000ff"/>
<circle cx="562" cy="426.9" r="2.1" fill="#0000ff"/>
<circle cx="571.4" cy="433.6" r="2.1" fill="#0000ff"/>
<circle cx="580.8" cy="440.1" r="2.1" fill="#0000ff"/>
<circle cx="590.2" cy="444.6" r="2.1" fill="#0000ff"/>
<circle cx="599.6" cy="449" r="2.1" fill="#0000ff"/>
<circle cx="609" cy="452.3" r="2.1" fill="#0000ff"/>
<circle cx="618.4" cy="454.9" r="2.1" fill="#0000ff"/>
<circle cx="627.8" cy="456.9" r="2.1" fill="#0000ff"/>
<circle cx="637.2" cy="457.8" r="2.1" fill="#0000ff"/>
<circle cx="646.7" cy="458.4" r="2.1" fill="#0000ff"/>
<circle cx="656.1" cy="459.2" r="2.1" fill="#0000ff"/>
<circle cx="665.5" cy="459.8" r="2.1" fill="#0000ff"/>
<circle cx="674.9" cy="459.8" r="2.1" fill="#0000ff"/>
<circle cx="684.3" cy="459.9" r="2.1" fill="#0000ff"/>
<circle cx="402" cy="463.1" r="2.1" fill="#ff0000"/>
<circle cx="411.4" cy="461.5" r="2.1" fill="#ff0000"/>
<circle cx="420.8" cy="459.7" r="2.1" fill="#ff0000"/>
<circle cx="430.2" cy="456.8" r="2.1" fill="#ff0000"/>
<circle cx="439.6" cy="452.3" r="2.1" fill="#ff0000"/>
<circle cx="449.1" cy="445.1" r="2.1" fill="#ff0000"/>
<circle cx="458.5" cy="435.7" r="2.1" fill="#ff0000"/>
<circle cx="467.9" cy="423.9" r="2.1" fill="#ff0000"/>
<circle cx="477.3" cy="409.9" r="2.1" fill="#ff0000"/>
<circle cx="486.7" cy="398.6" r="2.1" fill="#ff0000"/>
<circle cx="496.1" cy="394.9" r="2.1" fill="#ff0000"/>
<circle cx="505.5" cy="396.9" r="2.1" fill="#ff0000"/>
<circle cx="514.9" cy="405" r="2.1" fill="#ff0000"/>
<circle cx="524.3" cy="416.2" r="2.1" fill="#ff0000"/>
<circle cx="533.7" cy="428" r="2.1" fill="#ff0000"/>
<circle cx="543.1" cy="436.5" r="2.1" fill="#ff0000"/>
<circle cx="552.6" cy="443.2" r="2.1" fill="#ff0000"/>
<circle cx="562" cy="449" r="2.1" fill="#ff0000"/>
<circle cx="571.4" cy="452.9" r="2.1" fill="#ff0000"/>
<circle cx="580.8" cy="454.5" r="2.1" fill="#ff0000"/>
<circle cx="590.2" cy="455.9" r="2.1" fill="#ff0000"/>
<circle cx="599.6" cy="457.3" r="2.1" fill="#ff0000"/>
<circle cx="609" cy="458.2" r="2.1" fill="#ff0000"/>
<circle cx="618.4" cy="458.5" r="2.1" fill="#ff0000"/>
<circle cx="627.8" cy="459.4" r="2.1" fill="#ff0000"/>
<circle cx="637.2" cy="460.2" r="2.1" fill="#ff0000"/>
<circle cx="646.7" cy="460.8" r="2.1" fill="#ff0000"/>
<circle cx="656.1" cy="461" r="2.1" fill="#ff0000"/>
<circle cx="665.5" cy="461" r="2.1" fill="#ff0000"/>
<circle cx="674.9" cy="461" r="2.1" fill="#ff0000"/>
<circle cx="684.3" cy="461.2" r="2.1" fill="#ff0000"/>
<circle cx="402" cy="492.8" r="2.1" fill="#0b6e0b"/>
<circle cx="411.4" cy="493" r="2.1" fill="#0b6e0b"/>
<circle cx="420.8" cy="492.7" r="2.1" fill="#0b6e0b"/>
<circle cx="430.2" cy="493.4" r="2.1" fill="#0b6e0b"/>
<circle cx="439.6" cy="494" r="2.1" fill="#0b6e0b"/>
<circle cx="449.1" cy="495.2" r="2.1" fill="#0b6e0b"/>
<circle cx="458.5" cy="496.7" r="2.1" fill="#0b6e0b"/>
<circle cx="467.9" cy="498.7" r="2.1" fill="#0b6e0b"/>
<circle cx="477.3" cy="501.1" r="2.1" fill="#0b6e0b"/>
<circle cx="486.7" cy="501.8" r="2.1" fill="#0b6e0b"/>
<circle cx="496.1" cy="499.7" r="2.1" fill="#0b6e0b"/>
<circle cx="505.5" cy="497.1" r="2.1" fill="#0b6e0b"/>
<circle cx="514.9" cy="492.5" r="2.1" fill="#0b6e0b"/>
<circle cx="524.3" cy="486.6" r="2.1" fill="#0b6e0b"/>
<circle cx="533.7" cy="481.6" r="2.1" fill="#0b6e0b"/>
<circle cx="543.1" cy="479.4" r="2.1" fill="#0b6e0b"/>
<circle cx="552.6" cy="478.9" r="2.1" fill="#0b6e0b"/>
<circle cx="562" cy="478.6" r="2.1" fill="#0b6e0b"/>
<circle cx="571.4" cy="480.2" r="2.1" fill="#0b6e0b"/>
<circle cx="580.8" cy="483" r="2.1" fill="#0b6e0b"/>
<circle cx="590.2" cy="484.8" r="2.1" fill="#0b6e0b"/>
<circle cx="599.6" cy="486.5" r="2.1" fill="#0b6e0b"/>
<circle cx="609" cy="487.9" r="2.1" fill="#0b6e0b"/>
<circle cx="618.4" cy="489.2" r="2.1" fill="#0b6e0b"/>
<circle cx="627.8" cy="489.9" r="2.1" fill="#0b6e0b"/>
<circle cx="637.2" cy="489.9" r="2.1" fill="#0b6e0b"/>
<circle cx="646.7" cy="489.9" r="2.1" fill="#0b6e0b"/>
<circle cx="656.1" cy="490.3" r="2.1" fill="#0b6e0b"/>
<circle cx="665.5" cy="490.6" r="2.1" fill="#0b6e0b"/>
<circle cx="674.9" cy="490.6" r="2.1" fill="#0b6e0b"/>
<circle cx="684.3" cy="490.5" r="2.1" fill="#0b6e0b"/>
<circle cx="402" cy="618.9" r="2.1" fill="#0000ff"/>
<circle cx="411.4" cy="619.3" r="2.1" fill="#0000ff"/>
<circle cx="420.8" cy="618.1" r="2.1" fill="#0000ff"/>
<circle cx="430.2" cy="616.8" r="2.1" fill="#0000ff"/>
<circle cx="439.6" cy="615.9" r="2.1" fill="#0000ff"/>
<circle cx="449.1" cy="612.5" r="2.1" fill="#0000ff"/>
<circle cx="458.5" cy="608.6" r="2.1" fill="#0000ff"/>
<circle cx="467.9" cy="604.4" r="2.1" fill="#0000ff"/>
<circle cx="477.3" cy="598.4" r="2.1" fill="#0000ff"/>
<circle cx="486.7" cy="591.4" r="2.1" fill="#0000ff"/>
<circle cx="496.1" cy="582.5" r="2.1" fill="#0000ff"/>
<circle cx="505.5" cy="571.3" r="2.1" fill="#0000ff"/>
<circle cx="514.9" cy="558.1" r="2.1" fill="#0000ff"/>
<circle cx="524.3" cy="543.7" r="2.1" fill="#0000ff"/>
<circle cx="533.7" cy="531.3" r="2.1" fill="#0000ff"/>
<circle cx="543.1" cy="527.6" r="2.1" fill="#0000ff"/>
<circle cx="552.6" cy="528.8" r="2.1" fill="#0000ff"/>
<circle cx="562" cy="538.6" r="2.1" fill="#0000ff"/>
<circle cx="571.4" cy="549.2" r="2.1" fill="#0000ff"/>
<circle cx="580.8" cy="558.5" r="2.1" fill="#0000ff"/>
<circle cx="590.2" cy="568.7" r="2.1" fill="#0000ff"/>
<circle cx="599.6" cy="576.7" r="2.1" fill="#0000ff"/>
<circle cx="609" cy="583.1" r="2.1" fill="#0000ff"/>
<circle cx="618.4" cy="587.3" r="2.1" fill="#0000ff"/>
<circle cx="627.8" cy="590.3" r="2.1" fill="#0000ff"/>
<circle cx="637.2" cy="594.5" r="2.1" fill="#0000ff"/>
<circle cx="646.7" cy="597.3" r="2.1" fill="#0000ff"/>
<circle cx="656.1" cy="599" r="2.1" fill="#0000ff"/>
<circle cx="665.5" cy="600.4" r="2.1" fill="#0000ff"/>
<circle cx="674.9" cy="601.5" r="2.1" fill="#0000ff"/>
<circle cx="684.3" cy="601.9" r="2.1" fill="#0000ff"/>
<circle cx="402" cy="622.8" r="2.1" fill="#ff0000"/>
<circle cx="411.4" cy="622" r="2.1" fill="#ff0000"/>
<circle cx="420.8" cy="620.5" r="2.1" fill="#ff0000"/>
<circle cx="430.2" cy="620.2" r="2.1" fill="#ff0000"/>
<circle cx="439.6" cy="618.3" r="2.1" fill="#ff0000"/>
<circle cx="449.1" cy="616.3" r="2.1" fill="#ff0000"/>
<circle cx="458.5" cy="614.1" r="2.1" fill="#ff0000"/>
<circle cx="467.9" cy="610.1" r="2.1" fill="#ff0000"/>
<circle cx="477.3" cy="606.2" r="2.1" fill="#ff0000"/>
<circle cx="486.7" cy="602.6" r="2.1" fill="#ff0000"/>
<circle cx="496.1" cy="601.4" r="2.1" fill="#ff0000"/>
<circle cx="505.5" cy="601.4" r="2.1" fill="#ff0000"/>
<circle cx="514.9" cy="600.8" r="2.1" fill="#ff0000"/>
<circle cx="524.3" cy="601.6" r="2.1" fill="#ff0000"/>
<circle cx="533.7" cy="604.9" r="2.1" fill="#ff0000"/>
<circle cx="543.1" cy="605.2" r="2.1" fill="#ff0000"/>
<circle cx="552.6" cy="605.7" r="2.1" fill="#ff0000"/>
<circle cx="562" cy="603.6" r="2.1" fill="#ff0000"/>
<circle cx="571.4" cy="603.9" r="2.1" fill="#ff0000"/>
<circle cx="580.8" cy="604.7" r="2.1" fill="#ff0000"/>
<circle cx="590.2" cy="604" r="2.1" fill="#ff0000"/>
<circle cx="599.6" cy="602.6" r="2.1" fill="#ff0000"/>
<circle cx="609" cy="602.6" r="2.1" fill="#ff0000"/>
<circle cx="618.4" cy="605.1" r="2.1" fill="#ff0000"/>
<circle cx="627.8" cy="605.5" r="2.1" fill="#ff0000"/>
<circle cx="637.2" cy="605.1" r="2.1" fill="#ff0000"/>
<circle cx="646.7" cy="604" r="2.1" fill="#ff0000"/>
<circle cx="656.1" cy="604.4" r="2.1" fill="#ff0000"/>
<circle cx="665.5" cy="604.4" r="2.1" fill="#ff0000"/>
<circle cx="674.9" cy="606.4" r="2.1" fill="#ff0000"/>
<circle cx="684.3" cy="606.2" r="2.1" fill="#ff0000"/>
<circle cx="402" cy="661.3" r="2.1" fill="#0b6e0b"/>
<circle cx="411.4" cy="661.9" r="2.1" fill="#0b6e0b"/>
<circle cx="420.8" cy="661.9" r="2.1" fill="#0b6e0b"/>
<circle cx="430.2" cy="661.5" r="2.1" fill="#0b6e0b"/>
<circle cx="439.6" cy="661.9" r="2.1" fill="#0b6e0b"/>
<circle cx="449.1" cy="661.3" r="2.1" fill="#0b6e0b"/>
<circle cx="458.5" cy="660.6" r="2.1" fill="#0b6e0b"/>
<circle cx="467.9" cy="660.5" r="2.1" fill="#0b6e0b"/>
<circle cx="477.3" cy="659.7" r="2.1" fill="#0b6e0b"/>
<circle cx="486.7" cy="658.2" r="2.1" fill="#0b6e0b"/>
<circle cx="496.1" cy="654.8" r="2.1" fill="#0b6e0b"/>
<circle cx="505.5" cy="650" r="2.1" fill="#0b6e0b"/>
<circle cx="514.9" cy="644.6" r="2.1" fill="#0b6e0b"/>
<circle cx="524.3" cy="638" r="2.1" fill="#0b6e0b"/>
<circle cx="533.7" cy="631.2" r="2.1" fill="#0b6e0b"/>
<circle cx="543.1" cy="629.5" r="2.1" fill="#0b6e0b"/>
<circle cx="552.6" cy="629.8" r="2.1" fill="#0b6e0b"/>
<circle cx="562" cy="634.9" r="2.1" fill="#0b6e0b"/>
<circle cx="571.4" cy="639.4" r="2.1" fill="#0b6e0b"/>
<circle cx="580.8" cy="643.1" r="2.1" fill="#0b6e0b"/>
<circle cx="590.2" cy="647.8" r="2.1" fill="#0b6e0b"/>
<circle cx="599.6" cy="651.8" r="2.1" fill="#0b6e0b"/>
<circle cx="609" cy="654.6" r="2.1" fill="#0b6e0b"/>
<circle cx="618.4" cy="655.3" r="2.1" fill="#0b6e0b"/>
<circle cx="627.8" cy="656.4" r="2.1" fill="#0b6e0b"/>
<circle cx="637.2" cy="658.4" r="2.1" fill="#0b6e0b"/>
<circle cx="646.7" cy="660.1" r="2.1" fill="#0b6e0b"/>
<circle cx="656.1" cy="660.7" r="2.1" fill="#0b6e0b"/>
<circle cx="665.5" cy="661.3" r="2.1" fill="#0b6e0b"/>
<circle cx="674.9" cy="660.9" r="2.1" fill="#0b6e0b"/>
<circle cx="684.3" cy="661.1" r="2.1" fill="#0b6e0b"/>
<rect x="402" y="383.6" width="282.4" height="123.5" fill="none" stroke="#2a2a2a" stroke-width="1.1"/>
<line x1="402" y1="471.7" x2="684.4" y2="471.7" stroke="#1c1c50" stroke-width="1.6"/>
<rect x="402" y="525.2" width="282.4" height="141.2" fill="none" stroke="#2a2a2a" stroke-width="1.1"/>
<line x1="402" y1="625.7" x2="684.4" y2="625.7" stroke="#a01020" stroke-width="1.6"/>
<line x1="402" y1="390.2" x2="404.6" y2="390.2" stroke="#2a2a2a" stroke-width="1"/>
<line x1="684.4" y1="390.2" x2="681.8" y2="390.2" stroke="#2a2a2a" stroke-width="1"/>
<text x="395.8" y="394.3" font-size="12" text-anchor="end" font-weight="normal" font-style="normal" fill="#1a1a1a" stroke="#1a1a1a" >1.2</text>
<line x1="402" y1="410.5" x2="404.6" y2="410.5" stroke="#2a2a2a" stroke-width="1"/>
<line x1="684.4" y1="410.5" x2="681.8" y2="410.5" stroke="#2a2a2a" stroke-width="1"/>
<text x="395.8" y="414.6" font-size="12" text-anchor="end" font-weight="normal" font-style="normal" fill="#1a1a1a" stroke="#1a1a1a" >0.9</text>
<line x1="402" y1="430.8" x2="404.6" y2="430.8" stroke="#2a2a2a" stroke-width="1"/>
<line x1="684.4" y1="430.8" x2="681.8" y2="430.8" stroke="#2a2a2a" stroke-width="1"/>
<text x="395.8" y="434.9" font-size="12" text-anchor="end" font-weight="normal" font-style="normal" fill="#1a1a1a" stroke="#1a1a1a" >0.6</text>
<line x1="402" y1="451.1" x2="404.6" y2="451.1" stroke="#2a2a2a" stroke-width="1"/>
<line x1="684.4" y1="451.1" x2="681.8" y2="451.1" stroke="#2a2a2a" stroke-width="1"/>
<text x="395.8" y="455.2" font-size="12" text-anchor="end" font-weight="normal" font-style="normal" fill="#1a1a1a" stroke="#1a1a1a" >0.3</text>
<line x1="402" y1="475.7" x2="404.6" y2="475.7" stroke="#2a2a2a" stroke-width="1"/>
<line x1="684.4" y1="475.7" x2="681.8" y2="475.7" stroke="#2a2a2a" stroke-width="1"/>
<text x="395.8" y="479.8" font-size="12" text-anchor="end" font-weight="normal" font-style="normal" fill="#1a1a1a" stroke="#1a1a1a" >0.4</text>
<line x1="402" y1="491.3" x2="404.6" y2="491.3" stroke="#2a2a2a" stroke-width="1"/>
<line x1="684.4" y1="491.3" x2="681.8" y2="491.3" stroke="#2a2a2a" stroke-width="1"/>
<text x="395.8" y="495.4" font-size="12" text-anchor="end" font-weight="normal" font-style="normal" fill="#1a1a1a" stroke="#1a1a1a" >0.0</text>
<line x1="402" y1="506.9" x2="404.6" y2="506.9" stroke="#2a2a2a" stroke-width="1"/>
<line x1="684.4" y1="506.9" x2="681.8" y2="506.9" stroke="#2a2a2a" stroke-width="1"/>
<text x="395.8" y="511" font-size="12" text-anchor="end" font-weight="normal" font-style="normal" fill="#1a1a1a" stroke="#1a1a1a" >−0.4</text>
<line x1="402" y1="539.6" x2="404.6" y2="539.6" stroke="#2a2a2a" stroke-width="1"/>
<line x1="684.4" y1="539.6" x2="681.8" y2="539.6" stroke="#2a2a2a" stroke-width="1"/>
<text x="395.8" y="543.7" font-size="12" text-anchor="end" font-weight="normal" font-style="normal" fill="#1a1a1a" stroke="#1a1a1a" >1.2</text>
<line x1="402" y1="561.1" x2="404.6" y2="561.1" stroke="#2a2a2a" stroke-width="1"/>
<line x1="684.4" y1="561.1" x2="681.8" y2="561.1" stroke="#2a2a2a" stroke-width="1"/>
<text x="395.8" y="565.2" font-size="12" text-anchor="end" font-weight="normal" font-style="normal" fill="#1a1a1a" stroke="#1a1a1a" >0.9</text>
<line x1="402" y1="582.5" x2="404.6" y2="582.5" stroke="#2a2a2a" stroke-width="1"/>
<line x1="684.4" y1="582.5" x2="681.8" y2="582.5" stroke="#2a2a2a" stroke-width="1"/>
<text x="395.8" y="586.6" font-size="12" text-anchor="end" font-weight="normal" font-style="normal" fill="#1a1a1a" stroke="#1a1a1a" >0.6</text>
<line x1="402" y1="604" x2="404.6" y2="604" stroke="#2a2a2a" stroke-width="1"/>
<line x1="684.4" y1="604" x2="681.8" y2="604" stroke="#2a2a2a" stroke-width="1"/>
<text x="395.8" y="608.1" font-size="12" text-anchor="end" font-weight="normal" font-style="normal" fill="#1a1a1a" stroke="#1a1a1a" >0.3</text>
<line x1="402" y1="638.3" x2="404.6" y2="638.3" stroke="#2a2a2a" stroke-width="1"/>
<line x1="684.4" y1="638.3" x2="681.8" y2="638.3" stroke="#2a2a2a" stroke-width="1"/>
<text x="395.8" y="643" font-size="12" text-anchor="end" font-weight="normal" font-style="normal" fill="#1a1a1a" stroke="#1a1a1a" >0.8</text>
<line x1="402" y1="650.6" x2="404.6" y2="650.6" stroke="#2a2a2a" stroke-width="1"/>
<line x1="684.4" y1="650.6" x2="681.8" y2="650.6" stroke="#2a2a2a" stroke-width="1"/>
<text x="395.8" y="655.3" font-size="12" text-anchor="end" font-weight="normal" font-style="normal" fill="#1a1a1a" stroke="#1a1a1a" >0.4</text>
<line x1="402" y1="663" x2="404.6" y2="663" stroke="#2a2a2a" stroke-width="1"/>
<line x1="684.4" y1="663" x2="681.8" y2="663" stroke="#2a2a2a" stroke-width="1"/>
<text x="395.8" y="667.7" font-size="12" text-anchor="end" font-weight="normal" font-style="normal" fill="#1a1a1a" stroke="#1a1a1a" >0.0</text>
<line x1="402" y1="507.1" x2="402" y2="504.1" stroke="#2a2a2a" stroke-width="0.9"/>
<line x1="411.4" y1="507.1" x2="411.4" y2="505.1" stroke="#2a2a2a" stroke-width="0.9"/>
<line x1="420.8" y1="507.1" x2="420.8" y2="505.1" stroke="#2a2a2a" stroke-width="0.9"/>
<line x1="430.2" y1="507.1" x2="430.2" y2="505.1" stroke="#2a2a2a" stroke-width="0.9"/>
<line x1="439.6" y1="507.1" x2="439.6" y2="505.1" stroke="#2a2a2a" stroke-width="0.9"/>
<line x1="449.1" y1="507.1" x2="449.1" y2="504.1" stroke="#2a2a2a" stroke-width="0.9"/>
<line x1="458.5" y1="507.1" x2="458.5" y2="505.1" stroke="#2a2a2a" stroke-width="0.9"/>
<line x1="467.9" y1="507.1" x2="467.9" y2="505.1" stroke="#2a2a2a" stroke-width="0.9"/>
<line x1="477.3" y1="507.1" x2="477.3" y2="505.1" stroke="#2a2a2a" stroke-width="0.9"/>
<line x1="486.7" y1="507.1" x2="486.7" y2="505.1" stroke="#2a2a2a" stroke-width="0.9"/>
<line x1="496.1" y1="507.1" x2="496.1" y2="504.1" stroke="#2a2a2a" stroke-width="0.9"/>
<line x1="505.5" y1="507.1" x2="505.5" y2="505.1" stroke="#2a2a2a" stroke-width="0.9"/>
<line x1="514.9" y1="507.1" x2="514.9" y2="505.1" stroke="#2a2a2a" stroke-width="0.9"/>
<line x1="524.3" y1="507.1" x2="524.3" y2="505.1" stroke="#2a2a2a" stroke-width="0.9"/>
<line x1="533.7" y1="507.1" x2="533.7" y2="505.1" stroke="#2a2a2a" stroke-width="0.9"/>
<line x1="543.1" y1="507.1" x2="543.1" y2="504.1" stroke="#2a2a2a" stroke-width="0.9"/>
<line x1="552.6" y1="507.1" x2="552.6" y2="505.1" stroke="#2a2a2a" stroke-width="0.9"/>
<line x1="562" y1="507.1" x2="562" y2="505.1" stroke="#2a2a2a" stroke-width="0.9"/>
<line x1="571.4" y1="507.1" x2="571.4" y2="505.1" stroke="#2a2a2a" stroke-width="0.9"/>
<line x1="580.8" y1="507.1" x2="580.8" y2="505.1" stroke="#2a2a2a" stroke-width="0.9"/>
<line x1="590.2" y1="507.1" x2="590.2" y2="504.1" stroke="#2a2a2a" stroke-width="0.9"/>
<line x1="599.6" y1="507.1" x2="599.6" y2="505.1" stroke="#2a2a2a" stroke-width="0.9"/>
<line x1="609" y1="507.1" x2="609" y2="505.1" stroke="#2a2a2a" stroke-width="0.9"/>
<line x1="618.4" y1="507.1" x2="618.4" y2="505.1" stroke="#2a2a2a" stroke-width="0.9"/>
<line x1="627.8" y1="507.1" x2="627.8" y2="505.1" stroke="#2a2a2a" stroke-width="0.9"/>
<line x1="637.2" y1="507.1" x2="637.2" y2="504.1" stroke="#2a2a2a" stroke-width="0.9"/>
<line x1="646.7" y1="507.1" x2="646.7" y2="505.1" stroke="#2a2a2a" stroke-width="0.9"/>
<line x1="656.1" y1="507.1" x2="656.1" y2="505.1" stroke="#2a2a2a" stroke-width="0.9"/>
<line x1="665.5" y1="507.1" x2="665.5" y2="505.1" stroke="#2a2a2a" stroke-width="0.9"/>
<line x1="674.9" y1="507.1" x2="674.9" y2="505.1" stroke="#2a2a2a" stroke-width="0.9"/>
<line x1="402" y1="666.4" x2="402" y2="663.4" stroke="#2a2a2a" stroke-width="0.9"/>
<line x1="411.4" y1="666.4" x2="411.4" y2="664.4" stroke="#2a2a2a" stroke-width="0.9"/>
<line x1="420.8" y1="666.4" x2="420.8" y2="664.4" stroke="#2a2a2a" stroke-width="0.9"/>
<line x1="430.2" y1="666.4" x2="430.2" y2="664.4" stroke="#2a2a2a" stroke-width="0.9"/>
<line x1="439.6" y1="666.4" x2="439.6" y2="664.4" stroke="#2a2a2a" stroke-width="0.9"/>
<line x1="449.1" y1="666.4" x2="449.1" y2="663.4" stroke="#2a2a2a" stroke-width="0.9"/>
<line x1="458.5" y1="666.4" x2="458.5" y2="664.4" stroke="#2a2a2a" stroke-width="0.9"/>
<line x1="467.9" y1="666.4" x2="467.9" y2="664.4" stroke="#2a2a2a" stroke-width="0.9"/>
<line x1="477.3" y1="666.4" x2="477.3" y2="664.4" stroke="#2a2a2a" stroke-width="0.9"/>
<line x1="486.7" y1="666.4" x2="486.7" y2="664.4" stroke="#2a2a2a" stroke-width="0.9"/>
<line x1="496.1" y1="666.4" x2="496.1" y2="663.4" stroke="#2a2a2a" stroke-width="0.9"/>
<line x1="505.5" y1="666.4" x2="505.5" y2="664.4" stroke="#2a2a2a" stroke-width="0.9"/>
<line x1="514.9" y1="666.4" x2="514.9" y2="664.4" stroke="#2a2a2a" stroke-width="0.9"/>
<line x1="524.3" y1="666.4" x2="524.3" y2="664.4" stroke="#2a2a2a" stroke-width="0.9"/>
<line x1="533.7" y1="666.4" x2="533.7" y2="664.4" stroke="#2a2a2a" stroke-width="0.9"/>
<line x1="543.1" y1="666.4" x2="543.1" y2="663.4" stroke="#2a2a2a" stroke-width="0.9"/>
<line x1="552.6" y1="666.4" x2="552.6" y2="664.4" stroke="#2a2a2a" stroke-width="0.9"/>
<line x1="562" y1="666.4" x2="562" y2="664.4" stroke="#2a2a2a" stroke-width="0.9"/>
<line x1="571.4" y1="666.4" x2="571.4" y2="664.4" stroke="#2a2a2a" stroke-width="0.9"/>
<line x1="580.8" y1="666.4" x2="580.8" y2="664.4" stroke="#2a2a2a" stroke-width="0.9"/>
<line x1="590.2" y1="666.4" x2="590.2" y2="663.4" stroke="#2a2a2a" stroke-width="0.9"/>
<line x1="599.6" y1="666.4" x2="599.6" y2="664.4" stroke="#2a2a2a" stroke-width="0.9"/>
<line x1="609" y1="666.4" x2="609" y2="664.4" stroke="#2a2a2a" stroke-width="0.9"/>
<line x1="618.4" y1="666.4" x2="618.4" y2="664.4" stroke="#2a2a2a" stroke-width="0.9"/>
<line x1="627.8" y1="666.4" x2="627.8" y2="664.4" stroke="#2a2a2a" stroke-width="0.9"/>
<line x1="637.2" y1="666.4" x2="637.2" y2="663.4" stroke="#2a2a2a" stroke-width="0.9"/>
<line x1="646.7" y1="666.4" x2="646.7" y2="664.4" stroke="#2a2a2a" stroke-width="0.9"/>
<line x1="656.1" y1="666.4" x2="656.1" y2="664.4" stroke="#2a2a2a" stroke-width="0.9"/>
<line x1="665.5" y1="666.4" x2="665.5" y2="664.4" stroke="#2a2a2a" stroke-width="0.9"/>
<line x1="674.9" y1="666.4" x2="674.9" y2="664.4" stroke="#2a2a2a" stroke-width="0.9"/>
<text x="449.1" y="681.4" font-size="12" text-anchor="middle" font-weight="normal" font-style="normal" fill="#1a1a1a" stroke="#1a1a1a" >930</text>
<text x="543.1" y="681.4" font-size="12" text-anchor="middle" font-weight="normal" font-style="normal" fill="#1a1a1a" stroke="#1a1a1a" >931</text>
<text x="637.2" y="681.4" font-size="12" text-anchor="middle" font-weight="normal" font-style="normal" fill="#1a1a1a" stroke="#1a1a1a" >932</text>
<text x="542.6" y="698.9" font-size="12" text-anchor="middle" fill="#1a1a1a" stroke="#1a1a1a"><tspan font-style="italic">E</tspan> (eV)</text>
<text x="361" y="445.8" font-size="12.5" text-anchor="middle" fill="#1a1a1a" stroke="#1a1a1a" transform="rotate(-90 361 445.8)">XAS (a.u.)</text>
<text x="361" y="596.1" font-size="12.5" text-anchor="middle" fill="#1a1a1a" stroke="#1a1a1a" transform="rotate(-90 361 596.1)">XAS (a.u.)</text>
<text x="477.3" y="379.7" font-size="12.5" text-anchor="middle" font-weight="normal" font-style="normal" fill="#1a1a1a" stroke="#1a1a1a" >I</text>
<text x="503.2" y="379.7" font-size="12.5" text-anchor="middle" font-weight="normal" font-style="normal" fill="#1a1a1a" stroke="#1a1a1a" >II</text>
<text x="543.1" y="379.7" font-size="12.5" text-anchor="middle" font-weight="normal" font-style="normal" fill="#1a1a1a" stroke="#1a1a1a" >III</text>
<text x="379.1" y="375.9" font-size="12.5" text-anchor="start" font-weight="normal" font-style="normal" fill="#1a1a1a" stroke="#1a1a1a" >NYN <tspan font-style="italic">y</tspan> = 0.4</text>
<text x="350.5" y="372.7" font-size="17.5" text-anchor="start" font-weight="bold" font-style="normal" fill="#000" stroke="#000" >d</text>
<circle cx="415" cy="397.6" r="3.1" fill="#1111ee"/>
<text x="420.4" y="400.1" font-size="11.5" fill="#1a1a1a" stroke="#1a1a1a" text-anchor="start"><tspan font-style="italic">μ</tspan><tspan font-size="9" dy="2.2">ab</tspan></text>
<circle cx="415" cy="419.5" r="3.1" fill="#ee1111"/>
<text x="420.4" y="422" font-size="11.5" fill="#1a1a1a" stroke="#1a1a1a" text-anchor="start"><tspan font-style="italic">μ</tspan><tspan font-size="9" dy="2.2">c</tspan></text>
<circle cx="415" cy="542.4" r="3.1" fill="#1111ee"/>
<text x="420.4" y="544.9" font-size="11.5" fill="#1a1a1a" stroke="#1a1a1a" text-anchor="start"><tspan font-style="italic">μ</tspan><tspan font-size="9" dy="2.2">ab</tspan></text>
<circle cx="415" cy="564.8" r="3.1" fill="#ee1111"/>
<text x="420.4" y="567.3" font-size="11.5" fill="#1a1a1a" stroke="#1a1a1a" text-anchor="start"><tspan font-style="italic">μ</tspan><tspan font-size="9" dy="2.2">c</tspan></text>
<circle cx="415" cy="483" r="3.1" fill="#0b6e0b"/>
<text x="420.6" y="486.2" font-size="11.5" fill="#1a1a1a" stroke="#1a1a1a"><tspan font-style="italic">μ</tspan><tspan font-size="9" dy="2.2">ab</tspan><tspan dy="-2.2"> − </tspan><tspan font-style="italic">μ</tspan><tspan font-size="9" dy="2.2">c</tspan></text>
<text x="669.8" y="399.4" font-size="12.5" text-anchor="end" font-weight="normal" font-style="normal" fill="#1a1a1a" stroke="#1a1a1a" >TEY</text>
<text x="666.2" y="544.4" font-size="12.5" text-anchor="end" font-weight="normal" font-style="normal" fill="#1a1a1a" stroke="#1a1a1a" >FY</text>
</svg></div></body></html>
